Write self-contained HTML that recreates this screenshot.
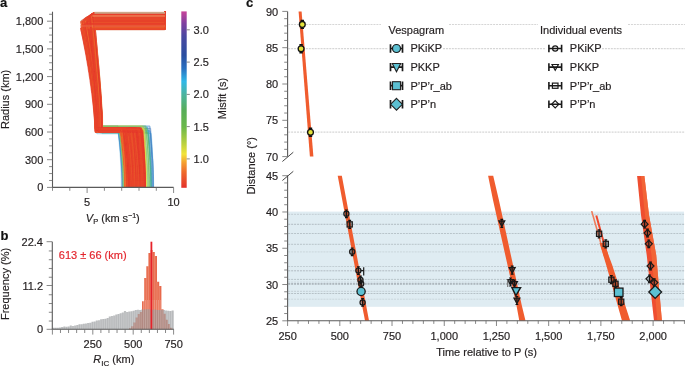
<!DOCTYPE html>
<html><head><meta charset="utf-8"><style>
html,body{margin:0;padding:0;background:#fff;width:685px;height:368px;overflow:hidden}
svg{display:block;font-family:"Liberation Sans",sans-serif;will-change:transform}
</style></head><body>
<svg width="685" height="368" viewBox="0 0 685 368">
<text stroke="#111" stroke-width="0.18" x="0" y="7" font-size="13" font-weight="bold" fill="#111">a</text>
<text stroke="#111" stroke-width="0.18" x="0.5" y="239.7" font-size="13" font-weight="bold" fill="#111">b</text>
<text stroke="#111" stroke-width="0.18" x="246" y="7" font-size="13" font-weight="bold" fill="#111">c</text>
<clipPath id="clipa"><rect x="52.5" y="11.7" width="121.5" height="175.7"/></clipPath>
<g clip-path="url(#clipa)" fill="none" stroke-linejoin="round">
<path d="M150.9 189.4 L150.9 180.0 L150.7 172.6 L150.4 165.3 L150.1 157.9 L149.7 150.5 L149.2 143.1 L148.6 135.7 L147.9 128.3 L94.9 128.3 L94.5 114.6 L93.6 100.8 L92.6 87.1 L91.3 73.3 L89.8 59.6 L88.2 45.8 L86.5 32.1 L84.6 18.3 L164.5 18.3 L164.5 5.0" stroke="#3b4ba0" stroke-width="0.75" stroke-opacity="0.38"/>
<path d="M151.1 189.4 L151.1 179.9 L150.9 172.5 L150.6 165.0 L150.2 157.6 L149.8 150.1 L149.3 142.7 L148.7 135.2 L148.0 127.8 L102.2 127.8 L101.7 114.2 L100.8 100.7 L99.6 87.1 L98.1 73.6 L96.5 60.0 L94.8 46.5 L92.8 32.9 L90.8 19.4 L164.9 19.4 L164.9 5.0" stroke="#364ca0" stroke-width="0.75" stroke-opacity="0.38"/>
<path d="M151.6 189.4 L151.5 180.2 L151.3 173.0 L151.0 165.8 L150.6 158.6 L150.2 151.5 L149.6 144.3 L149.0 137.1 L148.2 129.9 L98.3 129.9 L98.0 115.5 L97.3 101.1 L96.4 86.8 L95.4 72.4 L94.2 58.0 L93.0 43.7 L91.6 29.3 L90.1 14.9 L165.0 14.9 L165.0 5.0" stroke="#354da0" stroke-width="0.75" stroke-opacity="0.38"/>
<path d="M152.1 189.4 L152.1 180.0 L152.0 172.6 L151.8 165.2 L151.7 157.9 L151.5 150.5 L151.2 143.1 L151.0 135.7 L150.7 128.3 L98.8 128.3 L98.2 115.7 L97.3 103.2 L96.1 90.6 L94.7 78.0 L93.0 65.4 L91.2 52.8 L89.2 40.2 L87.1 27.7 L164.9 27.7 L164.9 5.0" stroke="#2e4ea0" stroke-width="0.75" stroke-opacity="0.38"/>
<path d="M153.7 189.4 L153.6 180.3 L153.4 173.2 L153.0 166.1 L152.6 159.0 L152.0 151.9 L151.3 144.9 L150.6 137.8 L149.7 130.7 L98.5 130.7 L98.1 116.2 L97.4 101.7 L96.5 87.3 L95.5 72.8 L94.3 58.3 L93.0 43.9 L91.5 29.4 L90.0 14.9 L164.6 14.9 L164.6 5.0" stroke="#2c4fa0" stroke-width="0.75" stroke-opacity="0.38"/>
<path d="M152.4 189.4 L152.4 180.6 L152.2 173.8 L152.1 167.0 L151.8 160.1 L151.6 153.3 L151.2 146.5 L150.9 139.7 L150.4 132.9 L95.9 132.9 L95.4 118.7 L94.3 104.5 L93.0 90.2 L91.4 76.0 L89.7 61.8 L87.7 47.6 L85.6 33.4 L83.3 19.1 L165.1 19.1 L165.1 5.0" stroke="#2a50a1" stroke-width="0.75" stroke-opacity="0.38"/>
<path d="M122.8 189.4 L122.7 180.6 L122.5 173.7 L122.1 166.9 L121.6 160.0 L121.1 153.2 L120.4 146.3 L119.6 139.5 L118.7 132.6 L96.7 132.6 L96.2 119.2 L95.1 105.8 L93.8 92.4 L92.2 79.0 L90.4 65.6 L88.4 52.2 L86.2 38.8 L83.9 25.4 L165.3 25.4 L165.3 5.0" stroke="#2a51a2" stroke-width="0.75" stroke-opacity="0.38"/>
<path d="M122.2 189.4 L122.1 179.8 L121.8 172.1 L121.4 164.5 L120.9 156.8 L120.3 149.2 L119.6 141.5 L118.7 133.9 L117.8 126.2 L97.2 126.2 L97.0 112.2 L96.5 98.1 L96.0 84.0 L95.3 70.0 L94.6 55.9 L93.8 41.8 L92.9 27.8 L92.0 13.7 L165.2 13.7 L165.2 5.0" stroke="#2a57a7" stroke-width="0.75" stroke-opacity="0.38"/>
<path d="M153.4 189.4 L153.3 180.1 L153.2 172.7 L152.9 165.4 L152.5 158.1 L152.0 150.7 L151.4 143.4 L150.8 136.1 L150.1 128.7 L99.9 128.7 L99.4 115.4 L98.6 102.1 L97.6 88.7 L96.3 75.4 L94.9 62.1 L93.3 48.8 L91.6 35.4 L89.8 22.1 L164.5 22.1 L164.5 5.0" stroke="#2a5bab" stroke-width="0.75" stroke-opacity="0.38"/>
<path d="M121.8 189.4 L121.7 179.7 L121.5 172.0 L121.2 164.3 L120.7 156.6 L120.2 148.9 L119.5 141.2 L118.8 133.5 L118.0 125.7 L101.5 125.7 L101.1 113.4 L100.4 101.0 L99.4 88.7 L98.4 76.3 L97.1 64.0 L95.8 51.6 L94.3 39.3 L92.7 26.9 L165.2 26.9 L165.2 5.0" stroke="#2a5bab" stroke-width="0.75" stroke-opacity="0.38"/>
<path d="M151.7 189.4 L151.6 179.8 L151.5 172.2 L151.3 164.7 L151.0 157.1 L150.6 149.5 L150.2 141.9 L149.8 134.4 L149.3 126.8 L100.8 126.8 L100.3 113.0 L99.5 99.2 L98.4 85.5 L97.0 71.7 L95.6 57.9 L93.9 44.1 L92.1 30.3 L90.2 16.6 L164.9 16.6 L164.9 5.0" stroke="#2a65b5" stroke-width="0.75" stroke-opacity="0.38"/>
<path d="M152.6 189.4 L152.5 179.7 L152.4 172.0 L152.1 164.2 L151.7 156.5 L151.3 148.8 L150.8 141.1 L150.2 133.3 L149.6 125.6 L98.2 125.6 L97.8 113.2 L96.9 100.8 L95.8 88.5 L94.5 76.1 L93.0 63.7 L91.4 51.3 L89.6 38.9 L87.6 26.5 L165.3 26.5 L165.3 5.0" stroke="#2a6aba" stroke-width="0.75" stroke-opacity="0.38"/>
<path d="M122.6 189.4 L122.5 180.3 L122.2 173.3 L121.8 166.2 L121.3 159.1 L120.7 152.1 L120.0 145.0 L119.1 138.0 L118.2 130.9 L100.7 130.9 L100.4 116.1 L99.8 101.4 L99.0 86.7 L98.1 71.9 L97.0 57.2 L95.9 42.4 L94.6 27.7 L93.2 12.9 L164.6 12.9 L164.6 5.0" stroke="#2a6dbd" stroke-width="0.75" stroke-opacity="0.38"/>
<path d="M122.1 189.4 L122.0 179.9 L121.8 172.5 L121.4 165.0 L120.9 157.5 L120.2 150.0 L119.5 142.6 L118.6 135.1 L117.7 127.6 L101.5 127.6 L101.2 113.2 L100.5 98.9 L99.7 84.5 L98.7 70.1 L97.6 55.8 L96.4 41.4 L95.1 27.0 L93.7 12.7 L164.6 12.7 L164.6 5.0" stroke="#2b80c9" stroke-width="0.75" stroke-opacity="0.38"/>
<path d="M153.4 189.4 L153.3 179.8 L153.2 172.2 L152.9 164.6 L152.5 156.9 L152.1 149.3 L151.6 141.7 L151.0 134.1 L150.3 126.5 L97.5 126.5 L96.9 113.7 L95.8 100.9 L94.4 88.1 L92.7 75.3 L90.7 62.6 L88.6 49.8 L86.3 37.0 L83.8 24.2 L165.2 24.2 L165.2 5.0" stroke="#2b80c9" stroke-width="0.75" stroke-opacity="0.38"/>
<path d="M153.5 189.4 L153.4 180.4 L153.2 173.4 L153.0 166.3 L152.6 159.3 L152.2 152.3 L151.7 145.3 L151.1 138.3 L150.4 131.2 L100.0 131.2 L99.5 116.9 L98.6 102.6 L97.4 88.3 L95.9 73.9 L94.3 59.6 L92.5 45.3 L90.6 31.0 L88.5 16.6 L165.5 16.6 L165.5 5.0" stroke="#2c82ca" stroke-width="0.75" stroke-opacity="0.38"/>
<path d="M152.7 189.4 L152.6 180.3 L152.4 173.3 L152.2 166.2 L151.8 159.1 L151.4 152.0 L150.8 145.0 L150.3 137.9 L149.6 130.8 L96.3 130.8 L95.9 116.6 L95.1 102.4 L94.1 88.2 L92.9 74.0 L91.5 59.7 L90.0 45.5 L88.4 31.3 L86.6 17.1 L164.8 17.1 L164.8 5.0" stroke="#2d97d6" stroke-width="0.75" stroke-opacity="0.38"/>
<path d="M153.5 189.4 L153.5 180.7 L153.4 173.9 L153.2 167.2 L152.9 160.5 L152.6 153.8 L152.2 147.0 L151.8 140.3 L151.4 133.6 L101.9 133.6 L101.4 119.6 L100.6 105.5 L99.5 91.5 L98.2 77.5 L96.7 63.4 L95.1 49.4 L93.3 35.4 L91.4 21.3 L165.2 21.3 L165.2 5.0" stroke="#2d98d6" stroke-width="0.75" stroke-opacity="0.38"/>
<path d="M121.3 189.4 L121.2 179.9 L121.0 172.5 L120.7 165.0 L120.3 157.6 L119.7 150.1 L119.1 142.6 L118.4 135.2 L117.6 127.7 L97.7 127.7 L97.4 113.6 L96.8 99.5 L96.0 85.4 L95.1 71.2 L94.1 57.1 L92.9 43.0 L91.6 28.9 L90.3 14.8 L164.8 14.8 L164.8 5.0" stroke="#2e9bd8" stroke-width="0.75" stroke-opacity="0.38"/>
<path d="M150.9 189.4 L150.8 180.4 L150.7 173.4 L150.4 166.4 L150.0 159.4 L149.6 152.5 L149.1 145.5 L148.5 138.5 L147.8 131.5 L98.7 131.5 L98.3 118.5 L97.6 105.5 L96.7 92.5 L95.6 79.5 L94.3 66.4 L92.9 53.4 L91.4 40.4 L89.8 27.4 L165.4 27.4 L165.4 5.0" stroke="#2e9dd9" stroke-width="0.75" stroke-opacity="0.38"/>
<path d="M122.6 189.4 L122.5 180.4 L122.2 173.4 L121.8 166.4 L121.3 159.5 L120.6 152.5 L119.8 145.5 L119.0 138.5 L118.0 131.5 L99.6 131.5 L99.3 116.7 L98.8 101.9 L98.1 87.1 L97.3 72.3 L96.4 57.5 L95.3 42.7 L94.2 27.8 L93.0 13.0 L165.0 13.0 L165.0 5.0" stroke="#2e9eda" stroke-width="0.75" stroke-opacity="0.38"/>
<path d="M151.5 189.4 L151.5 180.4 L151.3 173.4 L151.0 166.4 L150.6 159.4 L150.1 152.4 L149.6 145.4 L148.9 138.4 L148.2 131.4 L98.8 131.4 L98.3 117.2 L97.4 102.9 L96.2 88.7 L94.9 74.4 L93.3 60.2 L91.6 46.0 L89.8 31.7 L87.8 17.5 L164.6 17.5 L164.6 5.0" stroke="#2faee2" stroke-width="0.75" stroke-opacity="0.38"/>
<path d="M150.7 189.4 L150.6 179.9 L150.5 172.3 L150.2 164.8 L149.9 157.3 L149.4 149.8 L148.9 142.2 L148.4 134.7 L147.7 127.2 L100.3 127.2 L99.9 113.1 L99.1 99.1 L98.0 85.0 L96.8 71.0 L95.4 56.9 L93.8 42.8 L92.1 28.8 L90.3 14.7 L165.2 14.7 L165.2 5.0" stroke="#30b8e7" stroke-width="0.75" stroke-opacity="0.42"/>
<path d="M150.7 189.4 L150.7 179.9 L150.5 172.3 L150.2 164.8 L149.8 157.2 L149.4 149.7 L148.8 142.1 L148.2 134.6 L147.5 127.0 L101.5 127.0 L101.0 114.0 L100.2 101.0 L99.1 87.9 L97.9 74.9 L96.5 61.8 L94.9 48.8 L93.2 35.8 L91.3 22.7 L165.0 22.7 L165.0 5.0" stroke="#31b8e5" stroke-width="0.75" stroke-opacity="0.42"/>
<path d="M147.8 189.4 L147.7 180.7 L147.5 174.0 L147.3 167.3 L146.9 160.6 L146.5 153.9 L146.0 147.2 L145.4 140.5 L144.7 133.8 L96.9 133.8 L96.7 118.8 L96.2 103.8 L95.7 88.9 L95.0 73.9 L94.2 58.9 L93.4 44.0 L92.4 29.0 L91.4 14.0 L165.1 14.0 L165.1 5.0" stroke="#33b8e0" stroke-width="0.75" stroke-opacity="0.42"/>
<path d="M147.4 189.4 L147.3 180.0 L147.2 172.7 L147.0 165.3 L146.7 158.0 L146.4 150.6 L146.1 143.3 L145.6 135.9 L145.2 128.5 L99.6 128.5 L99.2 115.1 L98.4 101.7 L97.4 88.2 L96.2 74.8 L94.8 61.4 L93.3 48.0 L91.7 34.5 L89.9 21.1 L164.6 21.1 L164.6 5.0" stroke="#42b5b9" stroke-width="0.75" stroke-opacity="0.42"/>
<path d="M151.4 189.4 L151.3 180.2 L151.1 172.9 L150.8 165.7 L150.3 158.4 L149.8 151.2 L149.3 143.9 L148.6 136.7 L147.8 129.4 L97.4 129.4 L97.1 114.9 L96.7 100.5 L96.2 86.0 L95.5 71.5 L94.8 57.0 L94.0 42.6 L93.1 28.1 L92.1 13.6 L165.2 13.6 L165.2 5.0" stroke="#43b5b7" stroke-width="0.75" stroke-opacity="0.42"/>
<path d="M151.4 189.4 L151.3 180.6 L151.2 173.8 L151.0 167.0 L150.7 160.2 L150.4 153.4 L150.0 146.6 L149.6 139.8 L149.1 133.0 L102.4 133.0 L101.9 118.4 L101.0 103.9 L99.8 89.4 L98.4 74.9 L96.8 60.4 L95.0 45.8 L93.1 31.3 L91.0 16.8 L164.6 16.8 L164.6 5.0" stroke="#44b5b5" stroke-width="0.75" stroke-opacity="0.42"/>
<path d="M149.6 189.4 L149.6 179.7 L149.3 172.0 L149.0 164.3 L148.6 156.6 L148.1 148.9 L147.5 141.2 L146.8 133.4 L146.0 125.7 L98.0 125.7 L97.7 111.7 L97.2 97.7 L96.6 83.7 L95.8 69.7 L95.0 55.7 L94.1 41.7 L93.1 27.7 L92.0 13.7 L165.0 13.7 L165.0 5.0" stroke="#45b5b1" stroke-width="0.75" stroke-opacity="0.42"/>
<path d="M151.2 189.4 L151.1 180.6 L150.9 173.7 L150.6 166.9 L150.2 160.0 L149.7 153.2 L149.1 146.3 L148.5 139.5 L147.7 132.6 L102.1 132.6 L101.7 118.9 L100.9 105.2 L100.0 91.4 L98.8 77.7 L97.5 63.9 L96.1 50.2 L94.6 36.5 L92.9 22.7 L164.9 22.7 L164.9 5.0" stroke="#46b5b1" stroke-width="0.75" stroke-opacity="0.42"/>
<path d="M124.7 189.4 L124.6 180.2 L124.3 172.9 L123.8 165.7 L123.2 158.4 L122.4 151.2 L121.5 143.9 L120.5 136.7 L119.3 129.4 L98.7 129.4 L98.4 114.8 L98.0 100.2 L97.5 85.6 L96.9 71.1 L96.2 56.5 L95.4 41.9 L94.5 27.3 L93.6 12.7 L165.5 12.7 L165.5 5.0" stroke="#4cb4a0" stroke-width="0.75" stroke-opacity="0.42"/>
<path d="M151.0 189.4 L150.9 180.1 L150.7 172.8 L150.4 165.5 L150.0 158.2 L149.5 150.9 L148.9 143.6 L148.2 136.3 L147.4 129.0 L99.4 129.0 L99.1 114.7 L98.4 100.3 L97.5 85.9 L96.5 71.6 L95.4 57.2 L94.1 42.9 L92.7 28.5 L91.2 14.2 L165.1 14.2 L165.1 5.0" stroke="#4cb49e" stroke-width="0.75" stroke-opacity="0.42"/>
<path d="M151.3 189.4 L151.2 180.6 L151.1 173.8 L150.8 166.9 L150.4 160.1 L150.0 153.3 L149.5 146.5 L148.9 139.6 L148.2 132.8 L100.1 132.8 L99.8 117.8 L99.2 102.9 L98.5 87.9 L97.6 72.9 L96.6 57.9 L95.5 43.0 L94.3 28.0 L93.1 13.0 L165.4 13.0 L165.4 5.0" stroke="#4db49c" stroke-width="0.75" stroke-opacity="0.42"/>
<path d="M123.3 189.4 L123.2 180.0 L122.9 172.6 L122.4 165.3 L121.8 157.9 L121.1 150.5 L120.3 143.1 L119.3 135.7 L118.3 128.4 L101.7 128.4 L101.2 114.7 L100.3 101.0 L99.2 87.3 L97.8 73.6 L96.2 60.0 L94.4 46.3 L92.6 32.6 L90.5 18.9 L164.7 18.9 L164.7 5.0" stroke="#4db397" stroke-width="0.75" stroke-opacity="0.42"/>
<path d="M147.9 189.4 L147.8 179.9 L147.6 172.4 L147.2 165.0 L146.7 157.5 L146.1 150.0 L145.4 142.5 L144.7 135.1 L143.8 127.6 L95.9 127.6 L95.2 114.2 L94.0 100.8 L92.5 87.5 L90.7 74.1 L88.6 60.7 L86.3 47.3 L83.8 33.9 L81.1 20.5 L164.6 20.5 L164.6 5.0" stroke="#4fb28e" stroke-width="0.75" stroke-opacity="0.42"/>
<path d="M123.4 189.4 L123.3 180.4 L123.1 173.5 L122.7 166.5 L122.3 159.6 L121.7 152.6 L121.1 145.7 L120.3 138.7 L119.5 131.8 L97.9 131.8 L97.3 118.5 L96.4 105.2 L95.1 91.9 L93.6 78.6 L91.9 65.4 L90.0 52.1 L88.0 38.8 L85.8 25.5 L165.4 25.5 L165.4 5.0" stroke="#54af6f" stroke-width="0.75" stroke-opacity="0.42"/>
<path d="M123.1 189.4 L123.0 179.9 L122.8 172.5 L122.4 165.0 L121.9 157.5 L121.4 150.1 L120.7 142.6 L119.9 135.1 L119.1 127.7 L101.4 127.7 L101.0 113.4 L100.2 99.2 L99.2 85.0 L97.9 70.8 L96.6 56.6 L95.1 42.4 L93.4 28.1 L91.6 13.9 L165.0 13.9 L165.0 5.0" stroke="#55af69" stroke-width="0.75" stroke-opacity="0.42"/>
<path d="M149.3 189.4 L149.2 180.1 L149.0 172.8 L148.7 165.5 L148.2 158.3 L147.7 151.0 L147.1 143.7 L146.4 136.4 L145.6 129.1 L97.0 129.1 L96.5 115.1 L95.7 101.1 L94.5 87.2 L93.2 73.2 L91.7 59.2 L90.1 45.2 L88.2 31.2 L86.3 17.2 L165.3 17.2 L165.3 5.0" stroke="#5aae56" stroke-width="0.75" stroke-opacity="0.42"/>
<path d="M149.0 189.4 L148.9 179.8 L148.7 172.3 L148.5 164.7 L148.1 157.2 L147.7 149.6 L147.2 142.1 L146.6 134.5 L146.0 127.0 L101.7 127.0 L101.3 113.8 L100.5 100.5 L99.4 87.3 L98.1 74.1 L96.7 60.9 L95.1 47.7 L93.4 34.4 L91.6 21.2 L165.1 21.2 L165.1 5.0" stroke="#5baf55" stroke-width="0.75" stroke-opacity="0.42"/>
<path d="M150.9 189.4 L150.8 180.5 L150.6 173.7 L150.3 166.8 L149.9 160.0 L149.4 153.1 L148.8 146.3 L148.2 139.4 L147.5 132.6 L102.2 132.6 L101.7 119.7 L100.8 106.8 L99.7 93.9 L98.4 81.1 L96.9 68.2 L95.2 55.3 L93.4 42.4 L91.5 29.5 L165.1 29.5 L165.1 5.0" stroke="#5fb152" stroke-width="0.75" stroke-opacity="0.42"/>
<path d="M149.2 189.4 L149.1 179.8 L148.9 172.2 L148.6 164.5 L148.3 156.9 L147.8 149.3 L147.3 141.7 L146.7 134.0 L146.1 126.4 L100.3 126.4 L99.9 113.0 L99.2 99.5 L98.2 86.0 L97.0 72.6 L95.7 59.1 L94.2 45.6 L92.6 32.2 L90.9 18.7 L164.8 18.7 L164.8 5.0" stroke="#60b252" stroke-width="0.75" stroke-opacity="0.42"/>
<path d="M149.9 189.4 L149.9 180.1 L149.7 172.7 L149.5 165.4 L149.3 158.0 L148.9 150.7 L148.6 143.3 L148.1 136.0 L147.6 128.6 L102.5 128.6 L102.1 115.6 L101.3 102.5 L100.3 89.5 L99.2 76.5 L97.9 63.4 L96.5 50.4 L94.9 37.3 L93.2 24.3 L165.1 24.3 L165.1 5.0" stroke="#64b44f" stroke-width="0.75" stroke-opacity="0.42"/>
<path d="M148.8 189.4 L148.7 180.2 L148.6 173.1 L148.4 165.9 L148.1 158.8 L147.8 151.6 L147.4 144.5 L146.9 137.3 L146.4 130.2 L99.1 130.2 L98.7 116.9 L97.9 103.7 L96.8 90.5 L95.6 77.2 L94.2 64.0 L92.6 50.7 L90.9 37.5 L89.1 24.3 L164.8 24.3 L164.8 5.0" stroke="#65b54e" stroke-width="0.75" stroke-opacity="0.42"/>
<path d="M148.0 189.4 L148.0 180.2 L147.8 173.0 L147.5 165.8 L147.1 158.5 L146.7 151.3 L146.1 144.1 L145.5 136.9 L144.9 129.7 L97.2 129.7 L96.6 116.3 L95.5 103.0 L94.0 89.7 L92.3 76.3 L90.4 63.0 L88.2 49.7 L85.9 36.3 L83.4 23.0 L165.2 23.0 L165.2 5.0" stroke="#69b74b" stroke-width="0.75" stroke-opacity="0.42"/>
<path d="M124.1 189.4 L124.0 180.5 L123.7 173.5 L123.3 166.6 L122.8 159.7 L122.1 152.8 L121.4 145.8 L120.5 138.9 L119.5 132.0 L102.2 132.0 L101.9 119.2 L101.3 106.4 L100.5 93.6 L99.5 80.8 L98.4 68.0 L97.2 55.2 L95.9 42.4 L94.5 29.6 L164.7 29.6 L164.7 5.0" stroke="#6bb84a" stroke-width="0.75" stroke-opacity="0.38"/>
<path d="M145.5 189.4 L145.5 180.4 L145.3 173.4 L145.1 166.4 L144.7 159.4 L144.3 152.4 L143.9 145.4 L143.3 138.4 L142.7 131.4 L97.4 131.4 L96.9 118.5 L95.9 105.6 L94.7 92.7 L93.2 79.8 L91.6 66.9 L89.7 54.0 L87.8 41.1 L85.6 28.1 L164.8 28.1 L164.8 5.0" stroke="#6cb94a" stroke-width="0.75" stroke-opacity="0.38"/>
<path d="M124.8 189.4 L124.7 180.3 L124.4 173.1 L123.9 166.0 L123.3 158.8 L122.6 151.7 L121.7 144.6 L120.7 137.4 L119.6 130.3 L97.1 130.3 L96.9 115.6 L96.7 100.9 L96.3 86.2 L95.9 71.4 L95.4 56.7 L94.9 42.0 L94.4 27.3 L93.8 12.6 L164.8 12.6 L164.8 5.0" stroke="#6eb949" stroke-width="0.75" stroke-opacity="0.38"/>
<path d="M123.4 189.4 L123.3 180.0 L123.1 172.6 L122.8 165.1 L122.4 157.7 L121.9 150.3 L121.3 142.9 L120.7 135.5 L119.9 128.0 L99.2 128.0 L98.7 115.0 L97.7 102.0 L96.5 89.0 L95.0 76.0 L93.4 62.9 L91.6 49.9 L89.6 36.9 L87.4 23.9 L165.2 23.9 L165.2 5.0" stroke="#6fba49" stroke-width="0.75" stroke-opacity="0.38"/>
<path d="M124.0 189.4 L123.9 180.5 L123.6 173.7 L123.2 166.8 L122.7 159.9 L122.1 153.1 L121.3 146.2 L120.5 139.3 L119.5 132.5 L95.9 132.5 L95.3 119.0 L94.3 105.5 L93.0 92.0 L91.4 78.5 L89.6 65.0 L87.6 51.5 L85.4 38.0 L83.1 24.5 L165.4 24.5 L165.4 5.0" stroke="#73bb49" stroke-width="0.75" stroke-opacity="0.38"/>
<path d="M146.2 189.4 L146.1 179.8 L145.9 172.2 L145.6 164.7 L145.3 157.1 L144.8 149.5 L144.3 141.9 L143.7 134.4 L143.0 126.8 L99.4 126.8 L98.8 113.6 L97.9 100.4 L96.7 87.2 L95.2 74.0 L93.6 60.8 L91.8 47.6 L89.8 34.5 L87.7 21.3 L165.2 21.3 L165.2 5.0" stroke="#7abd48" stroke-width="0.75" stroke-opacity="0.38"/>
<path d="M124.6 189.4 L124.5 179.8 L124.2 172.3 L123.8 164.7 L123.3 157.2 L122.6 149.6 L121.9 142.0 L121.0 134.5 L120.1 126.9 L102.1 126.9 L101.7 113.1 L100.9 99.2 L99.9 85.3 L98.7 71.5 L97.3 57.6 L95.8 43.7 L94.2 29.9 L92.5 16.0 L165.2 16.0 L165.2 5.0" stroke="#7fbf47" stroke-width="0.75" stroke-opacity="0.38"/>
<path d="M123.2 189.4 L123.1 180.2 L122.9 173.1 L122.7 165.9 L122.3 158.8 L121.8 151.6 L121.3 144.4 L120.7 137.3 L120.0 130.1 L96.7 130.1 L96.1 117.1 L95.1 104.1 L93.8 91.1 L92.2 78.1 L90.4 65.1 L88.5 52.1 L86.3 39.1 L84.0 26.1 L164.9 26.1 L164.9 5.0" stroke="#81bf47" stroke-width="0.75" stroke-opacity="0.38"/>
<path d="M146.4 189.4 L146.4 180.5 L146.3 173.7 L146.2 166.8 L146.0 159.9 L145.8 153.0 L145.6 146.2 L145.3 139.3 L145.0 132.4 L99.4 132.4 L98.9 118.8 L97.9 105.1 L96.7 91.4 L95.2 77.7 L93.4 64.0 L91.6 50.3 L89.5 36.6 L87.3 22.9 L165.1 22.9 L165.1 5.0" stroke="#85c047" stroke-width="0.75" stroke-opacity="0.38"/>
<path d="M146.3 189.4 L146.2 179.8 L146.1 172.1 L145.8 164.5 L145.4 156.8 L145.0 149.2 L144.5 141.5 L143.9 133.9 L143.3 126.2 L99.7 126.2 L99.3 112.2 L98.6 98.2 L97.8 84.2 L96.7 70.2 L95.5 56.2 L94.2 42.1 L92.8 28.1 L91.3 14.1 L164.8 14.1 L164.8 5.0" stroke="#88c146" stroke-width="0.75" stroke-opacity="0.38"/>
<path d="M149.7 189.4 L149.6 179.7 L149.3 172.0 L148.9 164.3 L148.4 156.6 L147.8 148.9 L147.0 141.2 L146.1 133.5 L145.2 125.8 L99.0 125.8 L98.7 111.8 L98.2 97.7 L97.5 83.7 L96.7 69.6 L95.8 55.6 L94.7 41.5 L93.6 27.5 L92.5 13.4 L165.3 13.4 L165.3 5.0" stroke="#91c445" stroke-width="0.75" stroke-opacity="0.38"/>
<path d="M147.1 189.4 L147.0 180.6 L146.7 173.7 L146.4 166.9 L146.0 160.1 L145.5 153.2 L144.8 146.4 L144.1 139.6 L143.3 132.8 L100.4 132.8 L99.9 118.6 L98.9 104.4 L97.6 90.3 L96.1 76.1 L94.4 61.9 L92.5 47.8 L90.5 33.6 L88.3 19.4 L165.5 19.4 L165.5 5.0" stroke="#93c445" stroke-width="0.75" stroke-opacity="0.38"/>
<path d="M124.4 189.4 L124.2 179.9 L123.9 172.4 L123.5 164.9 L122.9 157.4 L122.1 149.9 L121.3 142.4 L120.3 134.8 L119.2 127.3 L96.8 127.3 L96.2 115.1 L95.1 102.9 L93.7 90.6 L92.0 78.4 L90.1 66.1 L88.0 53.9 L85.7 41.6 L83.2 29.4 L165.2 29.4 L165.2 5.0" stroke="#99c644" stroke-width="0.75" stroke-opacity="0.38"/>
<path d="M148.0 189.4 L147.9 180.0 L147.7 172.7 L147.3 165.3 L146.9 157.9 L146.4 150.5 L145.9 143.2 L145.2 135.8 L144.4 128.4 L97.2 128.4 L96.9 114.1 L96.5 99.8 L96.0 85.4 L95.3 71.1 L94.6 56.7 L93.8 42.4 L92.9 28.0 L92.0 13.7 L165.4 13.7 L165.4 5.0" stroke="#b7d040" stroke-width="0.75" stroke-opacity="0.38"/>
<path d="M145.7 189.4 L145.6 180.1 L145.5 172.9 L145.3 165.6 L145.0 158.3 L144.6 151.0 L144.1 143.8 L143.6 136.5 L143.1 129.2 L97.9 129.2 L97.4 115.3 L96.4 101.5 L95.0 87.6 L93.5 73.7 L91.7 59.9 L89.7 46.0 L87.5 32.1 L85.2 18.2 L165.1 18.2 L165.1 5.0" stroke="#bcd140" stroke-width="0.75" stroke-opacity="0.38"/>
<path d="M145.8 189.4 L145.7 180.1 L145.5 172.8 L145.2 165.4 L144.9 158.1 L144.5 150.8 L144.0 143.5 L143.4 136.2 L142.7 128.8 L99.6 128.8 L99.1 115.2 L98.2 101.7 L97.0 88.1 L95.6 74.5 L93.9 60.9 L92.2 47.3 L90.2 33.7 L88.2 20.1 L165.3 20.1 L165.3 5.0" stroke="#c4d43f" stroke-width="0.75" stroke-opacity="0.38"/>
<path d="M145.7 189.4 L145.6 180.0 L145.5 172.6 L145.3 165.2 L145.0 157.8 L144.6 150.4 L144.2 143.0 L143.7 135.6 L143.2 128.2 L103.0 128.2 L102.6 114.9 L101.8 101.6 L100.8 88.3 L99.7 75.0 L98.4 61.7 L96.9 48.4 L95.4 35.1 L93.7 21.8 L165.1 21.8 L165.1 5.0" stroke="#dcdc3c" stroke-width="0.75" stroke-opacity="0.38"/>
<path d="M146.6 189.4 L146.6 179.8 L146.4 172.3 L146.2 164.7 L145.8 157.1 L145.4 149.6 L145.0 142.0 L144.5 134.4 L143.9 126.9 L100.3 126.9 L99.8 113.4 L99.0 100.0 L97.9 86.6 L96.6 73.2 L95.1 59.8 L93.5 46.4 L91.7 32.9 L89.9 19.5 L165.3 19.5 L165.3 5.0" stroke="#dddd3c" stroke-width="0.75" stroke-opacity="0.38"/>
<path d="M146.0 189.4 L145.9 180.0 L145.8 172.6 L145.6 165.1 L145.4 157.7 L145.1 150.3 L144.8 142.9 L144.4 135.5 L144.0 128.0 L97.2 128.0 L96.7 115.2 L95.8 102.3 L94.5 89.4 L93.1 76.6 L91.4 63.7 L89.6 50.8 L87.6 37.9 L85.5 25.1 L164.7 25.1 L164.7 5.0" stroke="#e1de3c" stroke-width="0.75" stroke-opacity="0.38"/>
<path d="M147.1 189.4 L147.0 180.2 L146.9 173.1 L146.6 165.9 L146.3 158.7 L145.9 151.6 L145.5 144.4 L145.0 137.2 L144.5 130.0 L98.8 130.0 L98.4 115.7 L97.6 101.4 L96.6 87.0 L95.5 72.7 L94.1 58.4 L92.6 44.0 L91.0 29.7 L89.3 15.4 L164.9 15.4 L164.9 5.0" stroke="#e9e13b" stroke-width="0.75" stroke-opacity="0.38"/>
<path d="M145.2 189.4 L145.1 179.7 L144.9 171.9 L144.6 164.2 L144.2 156.5 L143.7 148.7 L143.2 141.0 L142.5 133.2 L141.8 125.5 L101.5 125.5 L101.0 113.0 L100.2 100.5 L99.2 88.0 L98.0 75.5 L96.6 63.0 L95.0 50.5 L93.4 38.0 L91.6 25.5 L164.6 25.5 L164.6 5.0" stroke="#f2e43a" stroke-width="0.75" stroke-opacity="0.38"/>
<path d="M146.4 189.4 L146.3 180.0 L146.2 172.6 L145.9 165.3 L145.6 157.9 L145.2 150.5 L144.7 143.1 L144.1 135.8 L143.5 128.4 L97.8 128.4 L97.2 115.9 L96.2 103.3 L94.8 90.8 L93.2 78.3 L91.4 65.8 L89.3 53.2 L87.1 40.7 L84.8 28.2 L164.8 28.2 L164.8 5.0" stroke="#f2de39" stroke-width="0.75" stroke-opacity="0.38"/>
<path d="M145.9 189.4 L145.9 180.3 L145.7 173.3 L145.4 166.2 L145.1 159.2 L144.6 152.1 L144.1 145.1 L143.5 138.0 L142.9 131.0 L98.4 131.0 L98.0 118.0 L97.3 105.1 L96.4 92.2 L95.3 79.2 L94.1 66.3 L92.7 53.4 L91.2 40.4 L89.6 27.5 L164.8 27.5 L164.8 5.0" stroke="#f2da38" stroke-width="0.75" stroke-opacity="0.38"/>
<path d="M135.2 189.4 L135.1 180.1 L134.9 172.8 L134.6 165.5 L134.1 158.2 L133.6 150.9 L133.0 143.6 L132.3 136.2 L131.5 128.9 L96.3 128.9 L95.7 116.5 L94.6 104.1 L93.2 91.7 L91.5 79.3 L89.6 66.9 L87.6 54.5 L85.3 42.1 L82.8 29.6 L164.9 29.6 L164.9 5.0" stroke="#e7422b" stroke-width="0.9" stroke-opacity="0.75"/>
<path d="M133.0 189.4 L132.9 180.5 L132.6 173.5 L132.3 166.6 L131.9 159.7 L131.3 152.7 L130.7 145.8 L129.9 138.9 L129.1 132.0 L95.7 132.0 L95.0 118.7 L93.8 105.4 L92.3 92.1 L90.4 78.8 L88.3 65.5 L86.0 52.2 L83.5 38.9 L80.8 25.6 L164.6 25.6 L164.6 5.0" stroke="#e63e2b" stroke-width="0.9" stroke-opacity="0.75"/>
<path d="M136.6 189.4 L136.5 180.1 L136.4 172.8 L136.1 165.5 L135.7 158.3 L135.2 151.0 L134.7 143.7 L134.0 136.4 L133.3 129.1 L100.4 129.1 L100.1 114.6 L99.5 100.1 L98.8 85.5 L97.9 71.0 L96.9 56.5 L95.8 42.0 L94.6 27.4 L93.3 12.9 L165.1 12.9 L165.1 5.0" stroke="#ef722d" stroke-width="0.9" stroke-opacity="0.6"/>
<path d="M128.3 189.4 L128.1 180.3 L127.9 173.1 L127.4 166.0 L126.9 158.9 L126.2 151.8 L125.4 144.6 L124.5 137.5 L123.4 130.4 L96.0 130.4 L95.4 117.5 L94.3 104.7 L92.9 91.8 L91.2 78.9 L89.3 66.1 L87.2 53.2 L84.9 40.3 L82.4 27.5 L164.6 27.5 L164.6 5.0" stroke="#e63b2b" stroke-width="0.9" stroke-opacity="0.75"/>
<path d="M139.6 189.4 L139.5 180.5 L139.3 173.6 L138.9 166.7 L138.5 159.9 L137.9 153.0 L137.3 146.1 L136.6 139.2 L135.7 132.3 L95.0 132.3 L94.4 119.3 L93.2 106.3 L91.7 93.3 L89.9 80.3 L87.9 67.2 L85.7 54.2 L83.2 41.2 L80.6 28.2 L165.0 28.2 L165.0 5.0" stroke="#e63c2b" stroke-width="0.9" stroke-opacity="0.75"/>
<path d="M141.8 189.4 L141.7 180.1 L141.4 172.8 L141.1 165.5 L140.7 158.2 L140.1 150.9 L139.5 143.6 L138.8 136.3 L138.0 129.0 L98.6 129.0 L98.1 115.7 L97.2 102.4 L96.0 89.1 L94.5 75.8 L92.9 62.5 L91.1 49.2 L89.2 35.9 L87.1 22.6 L165.5 22.6 L165.5 5.0" stroke="#e63e2b" stroke-width="0.9" stroke-opacity="0.75"/>
<path d="M128.4 189.4 L128.2 180.5 L127.9 173.6 L127.5 166.7 L126.9 159.7 L126.2 152.8 L125.3 145.9 L124.4 139.0 L123.3 132.1 L99.0 132.1 L98.5 118.0 L97.5 104.0 L96.2 89.9 L94.7 75.9 L92.9 61.8 L91.0 47.8 L88.9 33.7 L86.7 19.7 L164.5 19.7 L164.5 5.0" stroke="#e7422b" stroke-width="0.9" stroke-opacity="0.75"/>
<path d="M145.1 189.4 L145.0 180.5 L144.8 173.5 L144.5 166.6 L144.1 159.6 L143.7 152.7 L143.1 145.8 L142.5 138.8 L141.7 131.9 L98.6 131.9 L98.2 117.9 L97.4 103.9 L96.3 90.0 L95.0 76.0 L93.6 62.0 L92.0 48.0 L90.2 34.1 L88.4 20.1 L165.2 20.1 L165.2 5.0" stroke="#e63b2b" stroke-width="0.9" stroke-opacity="0.75"/>
<path d="M132.5 189.4 L132.4 180.4 L132.1 173.5 L131.7 166.5 L131.1 159.6 L130.4 152.6 L129.6 145.7 L128.7 138.7 L127.7 131.8 L100.7 131.8 L100.3 117.9 L99.6 104.1 L98.6 90.2 L97.5 76.3 L96.2 62.5 L94.7 48.6 L93.2 34.8 L91.5 20.9 L165.2 20.9 L165.2 5.0" stroke="#e7412b" stroke-width="0.9" stroke-opacity="0.75"/>
<path d="M143.6 189.4 L143.5 180.5 L143.3 173.6 L143.0 166.7 L142.7 159.8 L142.2 152.9 L141.7 146.0 L141.1 139.1 L140.5 132.2 L101.6 132.2 L101.1 118.0 L100.2 103.9 L99.1 89.8 L97.8 75.6 L96.2 61.5 L94.6 47.3 L92.8 33.2 L90.8 19.0 L164.8 19.0 L164.8 5.0" stroke="#ea512c" stroke-width="0.9" stroke-opacity="0.75"/>
<path d="M144.6 189.4 L144.5 180.3 L144.3 173.3 L144.0 166.2 L143.5 159.2 L143.0 152.1 L142.3 145.0 L141.6 138.0 L140.8 130.9 L102.2 130.9 L101.7 116.4 L100.9 102.0 L99.7 87.5 L98.4 73.0 L96.9 58.5 L95.3 44.1 L93.5 29.6 L91.6 15.1 L165.5 15.1 L165.5 5.0" stroke="#e4322b" stroke-width="0.9" stroke-opacity="0.75"/>
<path d="M144.6 189.4 L144.6 180.2 L144.4 173.1 L144.2 165.9 L143.9 158.8 L143.5 151.6 L143.1 144.4 L142.6 137.3 L142.1 130.1 L100.7 130.1 L100.3 117.0 L99.5 103.9 L98.5 90.9 L97.3 77.8 L95.9 64.7 L94.4 51.6 L92.7 38.5 L90.9 25.4 L164.8 25.4 L164.8 5.0" stroke="#ea542c" stroke-width="0.9" stroke-opacity="0.75"/>
<path d="M138.2 189.4 L138.1 180.2 L137.9 172.9 L137.5 165.7 L137.1 158.5 L136.6 151.2 L135.9 144.0 L135.2 136.7 L134.4 129.5 L101.6 129.5 L101.2 115.2 L100.4 100.8 L99.3 86.5 L98.1 72.2 L96.6 57.8 L95.1 43.5 L93.4 29.2 L91.5 14.8 L165.3 14.8 L165.3 5.0" stroke="#f38e2f" stroke-width="0.9" stroke-opacity="0.6"/>
<path d="M144.7 189.4 L144.7 180.3 L144.5 173.2 L144.3 166.1 L144.0 159.0 L143.7 151.9 L143.3 144.8 L142.8 137.7 L142.3 130.6 L100.9 130.6 L100.5 117.3 L99.8 104.0 L98.8 90.7 L97.6 77.4 L96.3 64.1 L94.8 50.8 L93.2 37.5 L91.5 24.2 L164.8 24.2 L164.8 5.0" stroke="#e94e2c" stroke-width="0.9" stroke-opacity="0.75"/>
<path d="M128.9 189.4 L128.8 180.0 L128.5 172.7 L128.0 165.3 L127.4 158.0 L126.6 150.6 L125.7 143.3 L124.7 135.9 L123.5 128.6 L97.7 128.6 L97.2 116.2 L96.3 103.8 L95.1 91.5 L93.7 79.1 L92.1 66.7 L90.4 54.3 L88.5 42.0 L86.4 29.6 L164.6 29.6 L164.6 5.0" stroke="#e4342b" stroke-width="0.9" stroke-opacity="0.75"/>
<path d="M142.1 189.4 L142.0 180.2 L141.8 173.1 L141.6 165.9 L141.3 158.7 L140.9 151.5 L140.4 144.4 L139.9 137.2 L139.3 130.0 L98.8 130.0 L98.3 116.1 L97.4 102.2 L96.3 88.3 L94.9 74.4 L93.4 60.6 L91.7 46.7 L89.8 32.8 L87.8 18.9 L165.3 18.9 L165.3 5.0" stroke="#ee6e2c" stroke-width="0.9" stroke-opacity="0.6"/>
<path d="M144.8 189.4 L144.7 180.3 L144.6 173.2 L144.3 166.1 L144.0 159.0 L143.6 151.9 L143.2 144.7 L142.7 137.6 L142.1 130.5 L100.8 130.5 L100.5 115.8 L100.0 101.0 L99.3 86.2 L98.4 71.4 L97.5 56.7 L96.5 41.9 L95.3 27.1 L94.1 12.4 L164.9 12.4 L164.9 5.0" stroke="#ea552c" stroke-width="0.9" stroke-opacity="0.75"/>
<path d="M135.8 189.4 L135.8 180.3 L135.5 173.2 L135.2 166.1 L134.8 159.0 L134.3 151.8 L133.7 144.7 L133.1 137.6 L132.3 130.5 L99.0 130.5 L98.6 116.4 L97.8 102.3 L96.8 88.2 L95.6 74.2 L94.3 60.1 L92.8 46.0 L91.2 31.9 L89.4 17.8 L165.0 17.8 L165.0 5.0" stroke="#e5372b" stroke-width="0.9" stroke-opacity="0.75"/>
<path d="M130.1 189.4 L130.0 180.4 L129.7 173.3 L129.3 166.3 L128.8 159.2 L128.2 152.2 L127.4 145.1 L126.6 138.1 L125.6 131.1 L99.1 131.1 L98.7 118.1 L98.0 105.1 L97.0 92.1 L95.8 79.1 L94.4 66.1 L93.0 53.2 L91.4 40.2 L89.6 27.2 L164.7 27.2 L164.7 5.0" stroke="#e94c2b" stroke-width="0.9" stroke-opacity="0.75"/>
<path d="M135.3 189.4 L135.2 180.2 L135.0 173.1 L134.6 165.9 L134.1 158.8 L133.4 151.6 L132.7 144.5 L131.8 137.3 L130.9 130.2 L95.8 130.2 L95.4 116.0 L94.6 101.9 L93.7 87.8 L92.5 73.6 L91.2 59.5 L89.8 45.4 L88.2 31.2 L86.5 17.1 L165.1 17.1 L165.1 5.0" stroke="#e84a2b" stroke-width="0.9" stroke-opacity="0.75"/>
<path d="M129.6 189.4 L129.5 180.2 L129.2 172.9 L128.8 165.7 L128.2 158.5 L127.4 151.3 L126.6 144.0 L125.6 136.8 L124.5 129.6 L97.0 129.6 L96.8 115.1 L96.3 100.6 L95.8 86.2 L95.1 71.7 L94.4 57.3 L93.5 42.8 L92.6 28.4 L91.7 13.9 L164.9 13.9 L164.9 5.0" stroke="#e5372b" stroke-width="0.9" stroke-opacity="0.75"/>
<path d="M137.9 189.4 L137.8 180.3 L137.6 173.3 L137.3 166.2 L136.9 159.1 L136.4 152.0 L135.9 145.0 L135.2 137.9 L134.5 130.8 L102.5 130.8 L102.1 116.1 L101.4 101.3 L100.4 86.6 L99.3 71.8 L98.0 57.1 L96.6 42.3 L95.1 27.6 L93.4 12.8 L164.9 12.8 L164.9 5.0" stroke="#e8452b" stroke-width="0.9" stroke-opacity="0.75"/>
<path d="M135.4 189.4 L135.3 180.0 L135.0 172.6 L134.5 165.2 L133.9 157.8 L133.2 150.4 L132.3 143.0 L131.3 135.6 L130.2 128.2 L100.3 128.2 L100.0 113.9 L99.3 99.6 L98.4 85.3 L97.3 71.0 L96.2 56.7 L94.8 42.4 L93.4 28.1 L91.9 13.8 L164.8 13.8 L164.8 5.0" stroke="#e7442b" stroke-width="0.9" stroke-opacity="0.75"/>
<path d="M127.4 189.4 L127.3 180.4 L127.0 173.4 L126.5 166.5 L125.9 159.5 L125.2 152.5 L124.3 145.5 L123.3 138.6 L122.2 131.6 L101.3 131.6 L100.9 118.2 L100.2 104.9 L99.2 91.5 L98.0 78.2 L96.7 64.9 L95.2 51.5 L93.6 38.2 L91.9 24.8 L164.7 24.8 L164.7 5.0" stroke="#e63f2b" stroke-width="0.9" stroke-opacity="0.75"/>
<path d="M144.5 189.4 L144.4 180.5 L144.2 173.6 L143.9 166.8 L143.6 159.9 L143.1 153.0 L142.6 146.1 L141.9 139.2 L141.2 132.4 L102.0 132.4 L101.6 119.0 L100.9 105.6 L100.0 92.2 L98.9 78.8 L97.6 65.3 L96.2 51.9 L94.7 38.5 L93.1 25.1 L165.3 25.1 L165.3 5.0" stroke="#e63f2b" stroke-width="0.9" stroke-opacity="0.75"/>
<path d="M127.2 189.4 L127.1 180.4 L126.8 173.4 L126.4 166.4 L125.9 159.5 L125.3 152.5 L124.6 145.5 L123.7 138.5 L122.8 131.5 L100.5 131.5 L100.0 118.0 L99.1 104.5 L98.0 91.0 L96.7 77.6 L95.3 64.1 L93.6 50.6 L91.9 37.1 L89.9 23.6 L165.0 23.6 L165.0 5.0" stroke="#ea522c" stroke-width="0.9" stroke-opacity="0.75"/>
<path d="M132.7 189.4 L132.6 180.3 L132.4 173.1 L132.1 166.0 L131.8 158.8 L131.3 151.7 L130.7 144.6 L130.1 137.4 L129.3 130.3 L101.7 130.3 L101.2 116.6 L100.3 102.8 L99.1 89.1 L97.6 75.3 L96.0 61.6 L94.2 47.9 L92.3 34.1 L90.2 20.4 L165.4 20.4 L165.4 5.0" stroke="#e63a2b" stroke-width="0.9" stroke-opacity="0.75"/>
<path d="M128.4 189.4 L128.3 180.2 L128.0 172.9 L127.6 165.7 L127.1 158.4 L126.4 151.2 L125.6 143.9 L124.7 136.7 L123.7 129.4 L98.0 129.4 L97.4 116.9 L96.3 104.3 L94.9 91.7 L93.3 79.2 L91.5 66.6 L89.4 54.1 L87.2 41.5 L84.8 29.0 L165.4 29.0 L165.4 5.0" stroke="#e7442b" stroke-width="0.9" stroke-opacity="0.75"/>
<path d="M126.6 189.4 L126.5 180.3 L126.2 173.3 L125.7 166.2 L125.2 159.1 L124.4 152.1 L123.6 145.0 L122.7 138.0 L121.6 130.9 L97.1 130.9 L96.6 116.8 L95.6 102.7 L94.4 88.6 L92.9 74.4 L91.2 60.3 L89.3 46.2 L87.3 32.1 L85.1 18.0 L165.2 18.0 L165.2 5.0" stroke="#e7422b" stroke-width="0.9" stroke-opacity="0.75"/>
<path d="M134.6 189.4 L134.4 180.4 L134.2 173.5 L133.8 166.5 L133.2 159.6 L132.6 152.6 L131.8 145.7 L131.0 138.7 L130.0 131.8 L98.3 131.8 L97.8 118.1 L96.9 104.4 L95.7 90.7 L94.3 77.0 L92.7 63.3 L90.9 49.6 L89.0 35.9 L86.9 22.2 L164.8 22.2 L164.8 5.0" stroke="#e4342b" stroke-width="0.9" stroke-opacity="0.75"/>
<path d="M130.5 189.4 L130.4 180.2 L130.2 173.1 L129.8 165.9 L129.3 158.7 L128.7 151.6 L128.0 144.4 L127.2 137.3 L126.3 130.1 L95.9 130.1 L95.4 117.1 L94.3 104.1 L93.0 91.0 L91.4 78.0 L89.6 65.0 L87.7 52.0 L85.5 39.0 L83.2 26.0 L165.4 26.0 L165.4 5.0" stroke="#f49b30" stroke-width="0.9" stroke-opacity="0.6"/>
<path d="M142.4 189.4 L142.3 179.9 L142.1 172.5 L141.9 165.0 L141.5 157.5 L141.1 150.1 L140.5 142.6 L139.9 135.1 L139.3 127.6 L98.4 127.6 L97.9 113.7 L97.0 99.8 L95.9 85.9 L94.6 72.0 L93.1 58.1 L91.5 44.2 L89.6 30.3 L87.7 16.4 L164.9 16.4 L164.9 5.0" stroke="#e94e2c" stroke-width="0.9" stroke-opacity="0.75"/>
<path d="M129.0 189.4 L128.8 180.4 L128.5 173.5 L127.9 166.5 L127.2 159.6 L126.3 152.6 L125.3 145.7 L124.1 138.7 L122.8 131.8 L99.6 131.8 L99.2 117.9 L98.3 104.1 L97.3 90.3 L96.1 76.5 L94.7 62.6 L93.1 48.8 L91.4 35.0 L89.6 21.1 L164.9 21.1 L164.9 5.0" stroke="#e7422b" stroke-width="0.9" stroke-opacity="0.75"/>
<path d="M144.0 189.4 L143.9 180.5 L143.8 173.6 L143.6 166.7 L143.3 159.8 L142.9 153.0 L142.5 146.1 L142.1 139.2 L141.5 132.3 L98.2 132.3 L97.7 119.1 L96.8 106.0 L95.6 92.8 L94.3 79.6 L92.7 66.5 L91.0 53.3 L89.1 40.1 L87.1 27.0 L165.0 27.0 L165.0 5.0" stroke="#e5392b" stroke-width="0.9" stroke-opacity="0.75"/>
<path d="M128.1 189.4 L128.0 180.0 L127.7 172.6 L127.4 165.1 L126.9 157.7 L126.2 150.3 L125.5 142.9 L124.7 135.5 L123.8 128.1 L100.6 128.1 L100.2 113.9 L99.4 99.7 L98.3 85.5 L97.1 71.3 L95.6 57.1 L94.1 43.0 L92.4 28.8 L90.5 14.6 L165.2 14.6 L165.2 5.0" stroke="#ea512c" stroke-width="0.9" stroke-opacity="0.75"/>
<path d="M129.0 189.4 L128.9 180.1 L128.7 172.8 L128.3 165.5 L127.8 158.2 L127.2 150.9 L126.5 143.6 L125.7 136.3 L124.8 129.0 L99.4 129.0 L98.8 115.6 L97.8 102.1 L96.4 88.6 L94.8 75.2 L93.0 61.7 L91.0 48.2 L88.8 34.7 L86.4 21.3 L164.8 21.3 L164.8 5.0" stroke="#ea542c" stroke-width="0.9" stroke-opacity="0.75"/>
<path d="M138.1 189.4 L138.1 180.3 L137.8 173.2 L137.5 166.0 L137.1 158.9 L136.5 151.8 L135.9 144.7 L135.2 137.6 L134.4 130.5 L101.1 130.5 L100.7 116.2 L99.9 102.0 L98.9 87.7 L97.7 73.5 L96.4 59.3 L94.8 45.0 L93.2 30.8 L91.4 16.5 L165.1 16.5 L165.1 5.0" stroke="#e8492b" stroke-width="0.9" stroke-opacity="0.75"/>
<path d="M125.8 189.4 L125.7 180.0 L125.4 172.6 L124.9 165.2 L124.3 157.8 L123.6 150.4 L122.7 143.0 L121.8 135.6 L120.7 128.2 L98.6 128.2 L98.3 113.9 L97.8 99.5 L97.1 85.2 L96.4 70.8 L95.5 56.5 L94.5 42.1 L93.5 27.8 L92.4 13.4 L164.9 13.4 L164.9 5.0" stroke="#e4332b" stroke-width="0.9" stroke-opacity="0.75"/>
<path d="M142.4 189.4 L142.3 180.0 L142.0 172.6 L141.7 165.2 L141.2 157.8 L140.6 150.4 L139.9 143.0 L139.0 135.6 L138.1 128.2 L99.7 128.2 L99.3 113.9 L98.6 99.6 L97.8 85.4 L96.7 71.1 L95.6 56.9 L94.3 42.6 L92.9 28.3 L91.4 14.1 L165.2 14.1 L165.2 5.0" stroke="#e8492b" stroke-width="0.9" stroke-opacity="0.75"/>
<path d="M125.8 189.4 L125.7 180.4 L125.4 173.4 L124.9 166.4 L124.4 159.3 L123.6 152.3 L122.8 145.3 L121.9 138.3 L120.8 131.3 L95.7 131.3 L95.3 117.1 L94.5 102.9 L93.4 88.7 L92.2 74.5 L90.7 60.3 L89.2 46.1 L87.5 31.9 L85.6 17.7 L165.1 17.7 L165.1 5.0" stroke="#e63c2b" stroke-width="0.9" stroke-opacity="0.75"/>
<path d="M126.2 189.4 L126.0 180.4 L125.7 173.3 L125.2 166.3 L124.6 159.3 L123.8 152.3 L122.8 145.2 L121.8 138.2 L120.6 131.2 L101.2 131.2 L100.7 116.8 L99.9 102.5 L98.8 88.1 L97.5 73.8 L96.0 59.4 L94.4 45.1 L92.6 30.7 L90.7 16.4 L164.9 16.4 L164.9 5.0" stroke="#e94f2c" stroke-width="0.9" stroke-opacity="0.75"/>
<path d="M127.2 189.4 L127.1 180.2 L126.9 173.1 L126.5 165.9 L126.0 158.8 L125.4 151.6 L124.6 144.5 L123.8 137.3 L122.9 130.2 L99.5 130.2 L99.2 115.7 L98.5 101.2 L97.6 86.7 L96.5 72.3 L95.3 57.8 L94.0 43.3 L92.5 28.8 L91.0 14.3 L165.4 14.3 L165.4 5.0" stroke="#e94f2c" stroke-width="0.9" stroke-opacity="0.75"/>
<path d="M129.8 189.4 L129.7 180.2 L129.5 173.1 L129.2 165.9 L128.8 158.8 L128.3 151.6 L127.7 144.5 L127.0 137.3 L126.2 130.2 L98.2 130.2 L97.7 116.8 L96.7 103.5 L95.5 90.1 L94.0 76.8 L92.4 63.4 L90.5 50.0 L88.6 36.7 L86.4 23.3 L165.2 23.3 L165.2 5.0" stroke="#e63b2b" stroke-width="0.9" stroke-opacity="0.75"/>
<path d="M138.3 189.4 L138.2 180.5 L137.9 173.6 L137.5 166.7 L137.0 159.8 L136.4 152.9 L135.7 146.0 L134.9 139.1 L133.9 132.2 L97.4 132.2 L97.0 118.8 L96.1 105.4 L95.0 91.9 L93.7 78.5 L92.2 65.0 L90.6 51.6 L88.9 38.2 L87.0 24.7 L165.3 24.7 L165.3 5.0" stroke="#e94b2b" stroke-width="0.9" stroke-opacity="0.75"/>
<path d="M144.7 189.4 L144.7 180.2 L144.6 173.0 L144.4 165.8 L144.1 158.5 L143.8 151.3 L143.4 144.1 L142.9 136.9 L142.4 129.7 L97.9 129.7 L97.4 115.8 L96.5 101.9 L95.3 88.0 L93.9 74.0 L92.3 60.1 L90.5 46.2 L88.6 32.3 L86.5 18.4 L165.4 18.4 L165.4 5.0" stroke="#e63f2b" stroke-width="0.9" stroke-opacity="0.75"/>
<path d="M125.6 189.4 L125.5 180.3 L125.2 173.3 L124.8 166.2 L124.3 159.1 L123.6 152.1 L122.8 145.0 L122.0 137.9 L121.0 130.9 L96.6 130.9 L96.0 117.0 L94.9 103.0 L93.6 89.1 L91.9 75.2 L90.1 61.3 L88.1 47.4 L85.8 33.5 L83.5 19.6 L164.9 19.6 L164.9 5.0" stroke="#e63b2b" stroke-width="0.9" stroke-opacity="0.75"/>
<path d="M135.3 189.4 L135.2 179.9 L135.0 172.5 L134.6 165.0 L134.0 157.5 L133.4 150.0 L132.6 142.6 L131.8 135.1 L130.8 127.6 L95.8 127.6 L95.1 115.2 L93.9 102.8 L92.3 90.4 L90.4 77.9 L88.3 65.5 L85.9 53.1 L83.4 40.7 L80.6 28.3 L165.1 28.3 L165.1 5.0" stroke="#e7452b" stroke-width="0.9" stroke-opacity="0.75"/>
<path d="M141.5 189.4 L141.4 180.5 L141.2 173.5 L140.9 166.6 L140.5 159.6 L140.1 152.7 L139.5 145.8 L138.9 138.8 L138.1 131.9 L95.3 131.9 L95.1 117.2 L94.8 102.5 L94.4 87.7 L93.9 73.0 L93.3 58.3 L92.6 43.6 L92.0 28.9 L91.2 14.2 L164.8 14.2 L164.8 5.0" stroke="#e5372b" stroke-width="0.9" stroke-opacity="0.75"/>
<path d="M126.4 189.4 L126.2 180.0 L125.9 172.5 L125.4 165.1 L124.7 157.7 L123.8 150.3 L122.9 142.8 L121.8 135.4 L120.5 128.0 L95.2 128.0 L94.7 114.5 L93.6 101.0 L92.2 87.5 L90.6 73.9 L88.7 60.4 L86.7 46.9 L84.5 33.4 L82.1 19.9 L165.0 19.9 L165.0 5.0" stroke="#f07a2d" stroke-width="0.9" stroke-opacity="0.6"/>
<path d="M143.2 189.4 L143.2 180.1 L143.0 172.8 L142.7 165.4 L142.4 158.1 L142.0 150.8 L141.5 143.5 L140.9 136.1 L140.3 128.8 L100.6 128.8 L100.2 115.8 L99.4 102.7 L98.4 89.6 L97.3 76.6 L95.9 63.5 L94.5 50.5 L92.9 37.4 L91.2 24.4 L164.7 24.4 L164.7 5.0" stroke="#ea512c" stroke-width="0.9" stroke-opacity="0.75"/>
<path d="M135.6 189.4 L135.6 180.3 L135.4 173.3 L135.2 166.2 L134.9 159.2 L134.6 152.1 L134.2 145.1 L133.7 138.0 L133.2 131.0 L98.8 131.0 L98.3 116.9 L97.3 102.7 L96.1 88.6 L94.7 74.5 L93.1 60.4 L91.3 46.3 L89.3 32.2 L87.2 18.0 L164.7 18.0 L164.7 5.0" stroke="#e7432b" stroke-width="0.9" stroke-opacity="0.75"/>
<path d="M143.9 189.4 L143.8 180.4 L143.7 173.5 L143.6 166.5 L143.4 159.5 L143.2 152.6 L142.9 145.6 L142.7 138.7 L142.3 131.7 L102.1 131.7 L101.7 117.3 L101.0 103.0 L100.1 88.7 L99.0 74.3 L97.7 60.0 L96.3 45.6 L94.8 31.3 L93.2 16.9 L165.4 16.9 L165.4 5.0" stroke="#e63d2b" stroke-width="0.9" stroke-opacity="0.75"/>
<path d="M126.8 189.4 L126.7 180.2 L126.4 172.9 L126.0 165.7 L125.4 158.4 L124.7 151.2 L123.9 144.0 L122.9 136.7 L121.8 129.5 L97.6 129.5 L97.0 116.6 L96.0 103.8 L94.7 91.0 L93.2 78.1 L91.4 65.3 L89.5 52.5 L87.3 39.6 L85.1 26.8 L164.9 26.8 L164.9 5.0" stroke="#e63d2b" stroke-width="0.9" stroke-opacity="0.75"/>
<path d="M136.2 189.4 L136.1 180.0 L135.9 172.5 L135.5 165.1 L135.0 157.6 L134.3 150.2 L133.6 142.7 L132.7 135.3 L131.8 127.8 L98.2 127.8 L97.8 113.8 L97.0 99.8 L96.0 85.8 L94.8 71.8 L93.5 57.8 L92.0 43.8 L90.4 29.8 L88.7 15.7 L165.1 15.7 L165.1 5.0" stroke="#e7412b" stroke-width="0.9" stroke-opacity="0.75"/>
<path d="M142.6 189.4 L142.6 180.0 L142.4 172.5 L142.1 165.1 L141.7 157.6 L141.2 150.2 L140.7 142.8 L140.0 135.3 L139.3 127.9 L102.5 127.9 L102.1 114.8 L101.5 101.7 L100.6 88.7 L99.5 75.6 L98.3 62.5 L97.0 49.4 L95.6 36.3 L94.1 23.3 L165.2 23.3 L165.2 5.0" stroke="#e5392b" stroke-width="0.9" stroke-opacity="0.75"/>
<path d="M126.8 189.4 L126.8 180.5 L126.5 173.5 L126.2 166.6 L125.8 159.7 L125.2 152.7 L124.6 145.8 L123.9 138.8 L123.1 131.9 L98.3 131.9 L97.8 118.8 L96.8 105.7 L95.6 92.6 L94.1 79.5 L92.5 66.4 L90.6 53.3 L88.6 40.2 L86.5 27.1 L164.8 27.1 L164.8 5.0" stroke="#ea552c" stroke-width="0.9" stroke-opacity="0.75"/>
<path d="M127.8 189.4 L127.7 180.4 L127.3 173.3 L126.8 166.3 L126.2 159.2 L125.4 152.2 L124.5 145.1 L123.5 138.1 L122.3 131.1 L97.6 131.1 L97.1 117.5 L96.2 103.9 L95.1 90.4 L93.7 76.8 L92.2 63.3 L90.5 49.7 L88.7 36.2 L86.7 22.6 L165.1 22.6 L165.1 5.0" stroke="#e63d2b" stroke-width="0.9" stroke-opacity="0.75"/>
<path d="M140.5 189.4 L140.4 180.3 L140.2 173.3 L139.9 166.2 L139.4 159.2 L138.9 152.1 L138.3 145.1 L137.5 138.0 L136.7 131.0 L99.3 131.0 L98.7 117.0 L97.8 102.9 L96.5 88.9 L95.0 74.9 L93.4 60.9 L91.5 46.8 L89.5 32.8 L87.3 18.8 L164.7 18.8 L164.7 5.0" stroke="#e7442b" stroke-width="0.9" stroke-opacity="0.75"/>
<path d="M132.3 189.4 L132.2 180.4 L131.9 173.4 L131.5 166.4 L131.0 159.3 L130.3 152.3 L129.5 145.3 L128.6 138.3 L127.6 131.3 L98.2 131.3 L97.7 118.5 L96.6 105.7 L95.3 92.9 L93.7 80.1 L91.8 67.3 L89.8 54.5 L87.7 41.7 L85.3 28.9 L164.5 28.9 L164.5 5.0" stroke="#e5362b" stroke-width="0.9" stroke-opacity="0.75"/>
<path d="M143.0 189.4 L142.9 180.3 L142.8 173.3 L142.6 166.2 L142.3 159.2 L142.0 152.1 L141.6 145.1 L141.1 138.0 L140.6 130.9 L99.3 130.9 L98.8 117.7 L98.1 104.4 L97.1 91.2 L95.9 77.9 L94.5 64.7 L93.0 51.4 L91.4 38.2 L89.6 24.9 L164.9 24.9 L164.9 5.0" stroke="#ea522c" stroke-width="0.9" stroke-opacity="0.75"/>
<path d="M125.8 189.4 L125.7 180.5 L125.4 173.7 L125.0 166.8 L124.4 159.9 L123.7 153.1 L122.9 146.2 L121.9 139.3 L120.9 132.4 L95.7 132.4 L95.2 118.5 L94.1 104.6 L92.8 90.6 L91.2 76.7 L89.3 62.8 L87.3 48.8 L85.1 34.9 L82.8 21.0 L165.1 21.0 L165.1 5.0" stroke="#ea552c" stroke-width="0.9" stroke-opacity="0.75"/>
<path d="M128.4 189.4 L128.3 180.3 L128.1 173.2 L127.7 166.1 L127.3 158.9 L126.7 151.8 L126.0 144.7 L125.2 137.6 L124.3 130.5 L101.2 130.5 L100.7 117.2 L99.8 103.9 L98.6 90.7 L97.2 77.4 L95.7 64.1 L93.9 50.8 L92.0 37.6 L90.0 24.3 L165.2 24.3 L165.2 5.0" stroke="#ea522c" stroke-width="0.9" stroke-opacity="0.75"/>
<path d="M132.3 189.4 L132.3 180.3 L132.0 173.3 L131.7 166.2 L131.3 159.2 L130.7 152.1 L130.1 145.1 L129.4 138.0 L128.6 130.9 L96.4 130.9 L95.8 116.9 L94.9 102.8 L93.7 88.7 L92.3 74.6 L90.6 60.5 L88.8 46.4 L86.9 32.3 L84.8 18.2 L165.4 18.2 L165.4 5.0" stroke="#e4312b" stroke-width="0.9" stroke-opacity="0.75"/>
<path d="M144.3 189.4 L144.2 180.0 L144.0 172.7 L143.8 165.3 L143.4 157.9 L143.0 150.5 L142.5 143.2 L141.9 135.8 L141.2 128.4 L97.0 128.4 L96.8 114.0 L96.4 99.6 L96.0 85.2 L95.5 70.8 L94.9 56.4 L94.2 42.0 L93.5 27.6 L92.7 13.3 L165.1 13.3 L165.1 5.0" stroke="#e5372b" stroke-width="0.9" stroke-opacity="0.75"/>
<path d="M136.2 189.4 L136.1 180.1 L135.8 172.8 L135.5 165.5 L135.1 158.2 L134.5 150.9 L133.9 143.6 L133.2 136.3 L132.3 129.0 L95.8 129.0 L95.1 115.6 L93.9 102.3 L92.3 88.9 L90.5 75.5 L88.4 62.1 L86.1 48.7 L83.6 35.3 L80.9 21.9 L165.4 21.9 L165.4 5.0" stroke="#e8472b" stroke-width="0.9" stroke-opacity="0.75"/>
<path d="M127.3 189.4 L127.2 180.4 L126.9 173.5 L126.5 166.5 L125.9 159.5 L125.3 152.5 L124.5 145.6 L123.6 138.6 L122.7 131.6 L100.3 131.6 L99.9 118.7 L99.0 105.7 L98.0 92.7 L96.7 79.7 L95.2 66.8 L93.6 53.8 L91.9 40.8 L90.0 27.9 L165.0 27.9 L165.0 5.0" stroke="#e5392b" stroke-width="0.9" stroke-opacity="0.75"/>
<path d="M129.0 189.4 L128.9 180.2 L128.6 173.0 L128.3 165.8 L127.7 158.7 L127.1 151.5 L126.4 144.3 L125.6 137.1 L124.7 129.9 L99.1 129.9 L98.6 117.3 L97.7 104.6 L96.5 92.0 L95.1 79.3 L93.5 66.7 L91.8 54.1 L89.9 41.4 L87.8 28.8 L165.0 28.8 L165.0 5.0" stroke="#e63a2b" stroke-width="0.9" stroke-opacity="0.75"/>
<path d="M134.0 189.4 L133.9 180.1 L133.6 172.8 L133.2 165.5 L132.6 158.2 L131.9 150.9 L131.1 143.7 L130.2 136.4 L129.2 129.1 L99.6 129.1 L99.2 115.1 L98.3 101.1 L97.2 87.1 L95.9 73.0 L94.4 59.0 L92.7 45.0 L91.0 31.0 L89.0 17.0 L164.5 17.0 L164.5 5.0" stroke="#e7422b" stroke-width="0.9" stroke-opacity="0.75"/>
<path d="M142.5 189.4 L142.4 180.4 L142.2 173.4 L142.0 166.5 L141.6 159.5 L141.1 152.5 L140.5 145.5 L139.9 138.5 L139.2 131.5 L100.0 131.5 L99.5 117.5 L98.7 103.4 L97.5 89.4 L96.2 75.3 L94.6 61.3 L93.0 47.2 L91.1 33.2 L89.1 19.1 L165.3 19.1 L165.3 5.0" stroke="#e7402b" stroke-width="0.9" stroke-opacity="0.75"/>
<path d="M126.3 189.4 L126.2 180.4 L126.0 173.5 L125.6 166.5 L125.1 159.6 L124.5 152.6 L123.8 145.6 L123.0 138.7 L122.0 131.7 L99.6 131.7 L99.1 118.7 L98.2 105.6 L97.1 92.6 L95.7 79.5 L94.2 66.5 L92.5 53.5 L90.7 40.4 L88.7 27.4 L165.0 27.4 L165.0 5.0" stroke="#e7412b" stroke-width="0.9" stroke-opacity="0.75"/>
<path d="M130.8 189.4 L130.7 180.5 L130.3 173.6 L129.8 166.7 L129.1 159.8 L128.2 152.9 L127.2 146.0 L126.1 139.1 L124.8 132.2 L100.0 132.2 L99.5 118.1 L98.6 104.0 L97.4 89.9 L96.0 75.8 L94.4 61.7 L92.7 47.6 L90.8 33.5 L88.7 19.4 L164.9 19.4 L164.9 5.0" stroke="#ee692c" stroke-width="0.9" stroke-opacity="0.6"/>
<path d="M125.8 189.4 L125.6 180.4 L125.4 173.5 L124.9 166.5 L124.3 159.5 L123.6 152.6 L122.8 145.6 L121.9 138.6 L120.8 131.7 L98.6 131.7 L98.1 117.6 L97.1 103.5 L95.8 89.5 L94.3 75.4 L92.6 61.3 L90.6 47.3 L88.6 33.2 L86.3 19.1 L164.9 19.1 L164.9 5.0" stroke="#e7402b" stroke-width="0.9" stroke-opacity="0.75"/>
<path d="M142.3 189.4 L142.3 179.9 L142.1 172.5 L142.0 165.0 L141.7 157.5 L141.4 150.1 L141.0 142.6 L140.6 135.2 L140.1 127.7 L98.7 127.7 L98.1 114.1 L97.1 100.5 L95.8 86.9 L94.3 73.3 L92.5 59.7 L90.6 46.2 L88.5 32.6 L86.2 19.0 L165.0 19.0 L165.0 5.0" stroke="#ea562c" stroke-width="0.9" stroke-opacity="0.75"/>
<path d="M134.2 189.4 L134.2 180.0 L133.9 172.7 L133.6 165.3 L133.2 157.9 L132.6 150.6 L132.0 143.2 L131.3 135.8 L130.5 128.5 L97.1 128.5 L96.6 115.1 L95.6 101.8 L94.3 88.4 L92.8 75.1 L91.1 61.8 L89.2 48.4 L87.1 35.1 L84.9 21.7 L165.3 21.7 L165.3 5.0" stroke="#f2892e" stroke-width="0.9" stroke-opacity="0.6"/>
<path d="M134.6 189.4 L134.5 180.3 L134.3 173.2 L133.9 166.1 L133.4 159.0 L132.8 151.9 L132.1 144.8 L131.2 137.8 L130.3 130.7 L96.5 130.7 L95.9 117.1 L95.0 103.6 L93.8 90.0 L92.3 76.5 L90.7 63.0 L88.9 49.4 L86.9 35.9 L84.8 22.4 L164.8 22.4 L164.8 5.0" stroke="#e5392b" stroke-width="0.9" stroke-opacity="0.75"/>
<path d="M129.7 189.4 L129.5 179.9 L129.2 172.5 L128.8 165.0 L128.1 157.6 L127.4 150.1 L126.5 142.7 L125.5 135.2 L124.4 127.8 L102.3 127.8 L101.9 115.5 L101.1 103.2 L100.1 90.9 L98.8 78.7 L97.5 66.4 L95.9 54.1 L94.3 41.8 L92.5 29.5 L165.0 29.5 L165.0 5.0" stroke="#e5362b" stroke-width="0.9" stroke-opacity="0.75"/>
<path d="M135.9 189.4 L135.8 180.1 L135.6 172.8 L135.2 165.5 L134.8 158.3 L134.3 151.0 L133.7 143.7 L133.0 136.4 L132.2 129.1 L96.2 129.1 L95.5 116.2 L94.3 103.2 L92.8 90.3 L90.9 77.3 L88.8 64.4 L86.5 51.5 L84.0 38.5 L81.3 25.6 L164.5 25.6 L164.5 5.0" stroke="#e7452b" stroke-width="0.9" stroke-opacity="0.75"/>
<path d="M128.7 189.4 L128.6 180.1 L128.3 172.8 L127.9 165.5 L127.3 158.2 L126.6 150.9 L125.8 143.6 L124.8 136.3 L123.7 129.0 L101.0 129.0 L100.5 116.4 L99.7 103.7 L98.7 91.1 L97.5 78.4 L96.2 65.8 L94.6 53.1 L93.0 40.5 L91.2 27.8 L164.6 27.8 L164.6 5.0" stroke="#e63c2b" stroke-width="0.9" stroke-opacity="0.75"/>
<path d="M141.3 189.4 L141.2 180.1 L141.0 172.8 L140.7 165.5 L140.3 158.2 L139.8 150.8 L139.2 143.5 L138.5 136.2 L137.7 128.9 L95.7 128.9 L95.2 115.2 L94.2 101.5 L93.0 87.8 L91.5 74.0 L89.8 60.3 L87.9 46.6 L85.9 32.9 L83.7 19.2 L164.9 19.2 L164.9 5.0" stroke="#e7452b" stroke-width="0.9" stroke-opacity="0.75"/>
<path d="M134.1 189.4 L134.0 180.0 L133.8 172.6 L133.4 165.2 L133.0 157.8 L132.4 150.4 L131.7 143.0 L131.0 135.6 L130.1 128.2 L102.3 128.2 L101.9 115.4 L101.1 102.7 L100.1 89.9 L99.0 77.2 L97.7 64.4 L96.3 51.7 L94.7 38.9 L93.0 26.2 L165.2 26.2 L165.2 5.0" stroke="#e8452b" stroke-width="0.9" stroke-opacity="0.75"/>
<path d="M125.6 189.4 L125.5 179.9 L125.2 172.4 L124.7 164.9 L124.1 157.5 L123.4 150.0 L122.6 142.5 L121.6 135.0 L120.5 127.5 L98.3 127.5 L97.7 113.7 L96.8 100.0 L95.5 86.2 L94.0 72.4 L92.4 58.6 L90.5 44.9 L88.5 31.1 L86.3 17.3 L164.8 17.3 L164.8 5.0" stroke="#ea522c" stroke-width="0.9" stroke-opacity="0.75"/>
<path d="M129.0 189.4 L128.9 180.2 L128.6 172.9 L128.2 165.7 L127.7 158.4 L127.0 151.2 L126.3 143.9 L125.4 136.7 L124.4 129.5 L98.4 129.5 L97.9 116.4 L96.9 103.4 L95.6 90.3 L94.2 77.3 L92.5 64.2 L90.6 51.2 L88.6 38.2 L86.4 25.1 L165.1 25.1 L165.1 5.0" stroke="#f4962f" stroke-width="0.9" stroke-opacity="0.6"/>
<path d="M143.8 189.4 L143.7 180.2 L143.5 173.1 L143.3 165.9 L142.9 158.7 L142.5 151.5 L142.0 144.4 L141.5 137.2 L140.9 130.0 L99.5 130.0 L98.9 116.5 L97.9 103.1 L96.7 89.6 L95.2 76.1 L93.5 62.7 L91.6 49.2 L89.6 35.7 L87.4 22.3 L165.4 22.3 L165.4 5.0" stroke="#e63c2b" stroke-width="0.9" stroke-opacity="0.75"/>
<path d="M140.0 189.4 L139.9 180.0 L139.7 172.6 L139.4 165.2 L138.9 157.8 L138.4 150.4 L137.8 142.9 L137.1 135.5 L136.3 128.1 L99.3 128.1 L98.7 115.1 L97.7 102.1 L96.4 89.1 L94.8 76.1 L93.0 63.1 L91.0 50.1 L88.9 37.1 L86.6 24.1 L164.5 24.1 L164.5 5.0" stroke="#e5372b" stroke-width="0.9" stroke-opacity="0.75"/>
<path d="M140.2 189.4 L140.2 180.3 L140.1 173.2 L139.9 166.0 L139.7 158.9 L139.4 151.8 L139.1 144.7 L138.8 137.5 L138.4 130.4 L101.1 130.4 L100.6 116.1 L99.8 101.8 L98.6 87.5 L97.3 73.2 L95.8 58.9 L94.1 44.7 L92.3 30.4 L90.4 16.1 L165.0 16.1 L165.0 5.0" stroke="#e7402b" stroke-width="0.9" stroke-opacity="0.75"/>
<path d="M143.9 189.4 L143.8 180.2 L143.6 173.0 L143.4 165.9 L143.1 158.7 L142.8 151.5 L142.4 144.3 L141.9 137.2 L141.4 130.0 L100.5 130.0 L100.0 116.4 L99.1 102.8 L97.8 89.2 L96.4 75.5 L94.7 61.9 L92.9 48.3 L90.9 34.7 L88.8 21.1 L165.2 21.1 L165.2 5.0" stroke="#e7402b" stroke-width="0.9" stroke-opacity="0.75"/>
<path d="M139.1 189.4 L138.9 180.2 L138.7 173.1 L138.3 165.9 L137.7 158.7 L137.1 151.6 L136.3 144.4 L135.4 137.2 L134.5 130.1 L97.1 130.1 L96.5 116.5 L95.4 103.0 L94.0 89.5 L92.3 76.0 L90.3 62.5 L88.2 49.0 L85.9 35.5 L83.4 22.0 L164.7 22.0 L164.7 5.0" stroke="#e4332b" stroke-width="0.9" stroke-opacity="0.75"/>
<path d="M142.4 189.4 L142.3 179.9 L142.1 172.5 L141.9 165.0 L141.6 157.5 L141.2 150.1 L140.7 142.6 L140.2 135.1 L139.6 127.7 L96.4 127.7 L95.8 114.6 L94.8 101.6 L93.5 88.6 L91.9 75.5 L90.2 62.5 L88.2 49.4 L86.1 36.4 L83.8 23.3 L164.6 23.3 L164.6 5.0" stroke="#ee6a2c" stroke-width="0.9" stroke-opacity="0.6"/>
<path d="M134.3 189.4 L134.2 180.5 L134.0 173.7 L133.8 166.8 L133.4 159.9 L133.0 153.1 L132.4 146.2 L131.9 139.3 L131.2 132.5 L100.6 132.5 L100.2 119.0 L99.4 105.5 L98.3 92.0 L97.1 78.4 L95.7 64.9 L94.1 51.4 L92.5 37.9 L90.7 24.4 L164.6 24.4 L164.6 5.0" stroke="#e4312b" stroke-width="0.9" stroke-opacity="0.75"/>
<path d="M137.0 189.4 L136.9 180.5 L136.7 173.5 L136.5 166.6 L136.1 159.7 L135.7 152.7 L135.2 145.8 L134.6 138.8 L134.0 131.9 L98.8 131.9 L98.4 117.3 L97.7 102.7 L96.8 88.0 L95.7 73.4 L94.5 58.8 L93.1 44.2 L91.6 29.5 L90.0 14.9 L165.5 14.9 L165.5 5.0" stroke="#e7432b" stroke-width="0.9" stroke-opacity="0.75"/>
<path d="M133.5 189.4 L133.4 180.5 L133.2 173.7 L132.9 166.8 L132.5 159.9 L132.0 153.0 L131.5 146.2 L130.8 139.3 L130.1 132.4 L99.4 132.4 L98.9 118.1 L98.0 103.7 L96.8 89.3 L95.4 75.0 L93.8 60.6 L92.0 46.2 L90.1 31.9 L88.0 17.5 L164.6 17.5 L164.6 5.0" stroke="#e8462b" stroke-width="0.9" stroke-opacity="0.75"/>
<path d="M144.7 189.4 L144.6 180.2 L144.5 173.0 L144.2 165.7 L143.9 158.5 L143.5 151.3 L143.1 144.1 L142.5 136.9 L142.0 129.7 L97.3 129.7 L96.7 116.0 L95.7 102.3 L94.5 88.7 L92.9 75.0 L91.2 61.4 L89.3 47.7 L87.3 34.1 L85.1 20.4 L165.5 20.4 L165.5 5.0" stroke="#ea542c" stroke-width="0.9" stroke-opacity="0.75"/>
<path d="M139.8 189.4 L139.8 180.4 L139.6 173.3 L139.4 166.3 L139.2 159.3 L138.8 152.3 L138.4 145.2 L138.0 138.2 L137.5 131.2 L100.3 131.2 L99.8 118.0 L98.9 104.9 L97.7 91.7 L96.3 78.5 L94.7 65.4 L93.0 52.2 L91.1 39.1 L89.1 25.9 L164.8 25.9 L164.8 5.0" stroke="#e5342b" stroke-width="0.9" stroke-opacity="0.75"/>
<path d="M126.9 189.4 L126.8 180.1 L126.6 172.8 L126.3 165.4 L125.8 158.1 L125.3 150.8 L124.7 143.5 L124.0 136.2 L123.2 128.8 L100.3 128.8 L99.8 115.9 L99.0 103.0 L97.9 90.0 L96.5 77.1 L95.0 64.1 L93.4 51.2 L91.6 38.2 L89.6 25.3 L164.5 25.3 L164.5 5.0" stroke="#ea552c" stroke-width="0.9" stroke-opacity="0.75"/>
<path d="M127.4 189.4 L127.3 180.2 L127.2 173.0 L126.9 165.8 L126.6 158.6 L126.2 151.4 L125.7 144.3 L125.2 137.1 L124.6 129.9 L101.8 129.9 L101.3 116.7 L100.5 103.6 L99.4 90.5 L98.2 77.3 L96.7 64.2 L95.2 51.1 L93.5 37.9 L91.6 24.8 L164.8 24.8 L164.8 5.0" stroke="#e4332b" stroke-width="0.9" stroke-opacity="0.75"/>
<path d="M132.6 189.4 L132.5 180.4 L132.2 173.4 L131.8 166.4 L131.4 159.4 L130.8 152.4 L130.1 145.4 L129.3 138.4 L128.4 131.3 L96.7 131.3 L96.3 117.0 L95.5 102.7 L94.5 88.3 L93.4 74.0 L92.1 59.7 L90.6 45.3 L89.0 31.0 L87.3 16.6 L164.6 16.6 L164.6 5.0" stroke="#eb562c" stroke-width="0.9" stroke-opacity="0.75"/>
<path d="M142.8 189.4 L142.6 180.3 L142.3 173.2 L141.8 166.1 L141.1 158.9 L140.3 151.8 L139.3 144.7 L138.2 137.6 L137.0 130.5 L95.6 130.5 L95.1 117.3 L94.0 104.1 L92.6 90.9 L91.0 77.7 L89.1 64.5 L87.1 51.4 L84.9 38.2 L82.5 25.0 L165.5 25.0 L165.5 5.0" stroke="#e9502c" stroke-width="0.9" stroke-opacity="0.75"/>
<path d="M138.9 189.4 L138.8 180.5 L138.6 173.5 L138.3 166.6 L137.9 159.6 L137.5 152.7 L136.9 145.7 L136.2 138.8 L135.5 131.8 L99.2 131.8 L98.8 118.7 L98.1 105.6 L97.2 92.5 L96.1 79.4 L94.9 66.4 L93.6 53.3 L92.1 40.2 L90.5 27.1 L165.0 27.1 L165.0 5.0" stroke="#f07a2d" stroke-width="0.9" stroke-opacity="0.6"/>
<path d="M133.2 189.4 L133.1 180.0 L132.8 172.6 L132.4 165.2 L131.9 157.9 L131.3 150.5 L130.5 143.1 L129.7 135.7 L128.8 128.3 L99.1 128.3 L98.8 113.9 L98.3 99.5 L97.6 85.1 L96.9 70.8 L96.0 56.4 L95.0 42.0 L94.0 27.6 L92.8 13.2 L165.2 13.2 L165.2 5.0" stroke="#e94e2c" stroke-width="0.9" stroke-opacity="0.75"/>
<path d="M127.5 189.4 L127.3 180.4 L127.0 173.5 L126.5 166.5 L125.9 159.5 L125.1 152.5 L124.2 145.6 L123.1 138.6 L121.9 131.6 L100.5 131.6 L100.1 118.5 L99.3 105.3 L98.2 92.1 L96.9 78.9 L95.4 65.8 L93.8 52.6 L92.1 39.4 L90.2 26.3 L165.2 26.3 L165.2 5.0" stroke="#ea552c" stroke-width="0.9" stroke-opacity="0.75"/>
<path d="M134.1 189.4 L134.0 180.3 L133.8 173.1 L133.5 166.0 L133.1 158.9 L132.6 151.7 L132.0 144.6 L131.3 137.5 L130.6 130.4 L99.0 130.4 L98.5 116.5 L97.6 102.6 L96.4 88.7 L95.0 74.8 L93.5 60.9 L91.7 47.0 L89.8 33.1 L87.7 19.2 L165.1 19.2 L165.1 5.0" stroke="#e4342b" stroke-width="0.9" stroke-opacity="0.75"/>
<path d="M141.3 189.4 L141.2 180.1 L141.0 172.9 L140.7 165.6 L140.3 158.3 L139.8 151.0 L139.2 143.8 L138.5 136.5 L137.7 129.2 L99.1 129.2 L98.7 116.0 L97.8 102.8 L96.8 89.6 L95.5 76.4 L94.0 63.3 L92.4 50.1 L90.7 36.9 L88.8 23.7 L164.6 23.7 L164.6 5.0" stroke="#e5362b" stroke-width="0.9" stroke-opacity="0.75"/>
<path d="M136.0 189.4 L135.9 180.4 L135.6 173.4 L135.3 166.4 L134.8 159.4 L134.3 152.4 L133.6 145.4 L132.9 138.4 L132.1 131.4 L100.6 131.4 L100.1 117.8 L99.3 104.1 L98.2 90.5 L96.8 76.9 L95.3 63.2 L93.7 49.6 L91.8 36.0 L89.9 22.3 L165.1 22.3 L165.1 5.0" stroke="#ef702c" stroke-width="0.9" stroke-opacity="0.6"/>
<path d="M132.4 189.4 L132.3 180.4 L132.1 173.3 L131.8 166.3 L131.4 159.3 L130.9 152.3 L130.3 145.2 L129.6 138.2 L128.9 131.2 L97.1 131.2 L96.5 118.0 L95.5 104.7 L94.1 91.5 L92.5 78.3 L90.7 65.0 L88.7 51.8 L86.5 38.6 L84.2 25.3 L164.7 25.3 L164.7 5.0" stroke="#e8462b" stroke-width="0.9" stroke-opacity="0.75"/>
<path d="M138.4 189.4 L138.3 180.1 L138.2 172.8 L137.9 165.5 L137.5 158.2 L137.1 150.9 L136.6 143.6 L136.0 136.3 L135.4 129.0 L96.5 129.0 L96.0 115.9 L95.0 102.8 L93.8 89.7 L92.3 76.7 L90.6 63.6 L88.8 50.5 L86.7 37.5 L84.6 24.4 L165.2 24.4 L165.2 5.0" stroke="#e7442b" stroke-width="0.9" stroke-opacity="0.75"/>
<path d="M136.9 189.4 L136.8 180.0 L136.5 172.7 L136.1 165.3 L135.6 157.9 L134.9 150.6 L134.1 143.2 L133.2 135.9 L132.3 128.5 L95.8 128.5 L95.3 115.8 L94.2 103.1 L92.9 90.4 L91.3 77.7 L89.5 65.0 L87.5 52.3 L85.3 39.6 L83.0 26.9 L165.4 26.9 L165.4 5.0" stroke="#e7432b" stroke-width="0.9" stroke-opacity="0.75"/>
<path d="M144.0 189.4 L143.9 180.1 L143.8 172.8 L143.5 165.5 L143.2 158.2 L142.9 150.9 L142.4 143.7 L141.9 136.4 L141.4 129.1 L99.4 129.1 L98.9 115.5 L98.0 101.9 L96.8 88.4 L95.4 74.8 L93.8 61.2 L92.1 47.7 L90.1 34.1 L88.1 20.5 L164.6 20.5 L164.6 5.0" stroke="#e94b2b" stroke-width="0.9" stroke-opacity="0.75"/>
<path d="M137.5 189.4 L137.4 180.5 L137.2 173.6 L136.9 166.7 L136.5 159.8 L136.0 153.0 L135.4 146.1 L134.8 139.2 L134.1 132.3 L100.7 132.3 L100.3 117.5 L99.5 102.8 L98.5 88.0 L97.3 73.3 L95.9 58.6 L94.4 43.8 L92.8 29.1 L91.0 14.3 L164.6 14.3 L164.6 5.0" stroke="#ea532c" stroke-width="0.9" stroke-opacity="0.75"/>
<path d="M127.2 189.4 L127.1 180.5 L126.8 173.5 L126.4 166.6 L125.8 159.7 L125.1 152.7 L124.3 145.8 L123.4 138.9 L122.4 131.9 L100.4 131.9 L100.0 118.8 L99.2 105.7 L98.2 92.6 L97.0 79.4 L95.7 66.3 L94.2 53.2 L92.5 40.1 L90.8 26.9 L165.3 26.9 L165.3 5.0" stroke="#ea562c" stroke-width="0.9" stroke-opacity="0.75"/>
<path d="M125.4 189.4 L125.3 180.2 L125.1 173.0 L124.7 165.9 L124.2 158.7 L123.6 151.5 L122.9 144.3 L122.0 137.1 L121.1 129.9 L98.9 129.9 L98.4 117.0 L97.6 104.1 L96.5 91.1 L95.3 78.2 L93.8 65.3 L92.3 52.4 L90.5 39.4 L88.7 26.5 L164.9 26.5 L164.9 5.0" stroke="#e5362b" stroke-width="0.9" stroke-opacity="0.75"/>
<path d="M131.7 189.4 L131.6 180.0 L131.3 172.5 L131.0 165.1 L130.5 157.7 L129.9 150.2 L129.2 142.8 L128.4 135.4 L127.6 127.9 L96.7 127.9 L96.6 113.5 L96.3 99.1 L96.0 84.7 L95.7 70.3 L95.3 55.8 L94.8 41.4 L94.3 27.0 L93.8 12.6 L165.5 12.6 L165.5 5.0" stroke="#e7442b" stroke-width="0.9" stroke-opacity="0.75"/>
<path d="M140.9 189.4 L140.8 180.4 L140.6 173.4 L140.3 166.3 L140.0 159.3 L139.5 152.3 L139.0 145.3 L138.4 138.2 L137.8 131.2 L96.9 131.2 L96.2 117.8 L95.1 104.4 L93.6 91.0 L91.8 77.6 L89.8 64.2 L87.6 50.7 L85.2 37.3 L82.6 23.9 L165.3 23.9 L165.3 5.0" stroke="#e4332b" stroke-width="0.9" stroke-opacity="0.75"/>
<path d="M130.9 189.4 L130.8 180.4 L130.5 173.3 L130.0 166.3 L129.5 159.3 L128.8 152.2 L127.9 145.2 L127.0 138.2 L125.9 131.2 L99.4 131.2 L98.9 117.4 L97.9 103.5 L96.7 89.7 L95.2 75.9 L93.5 62.1 L91.6 48.3 L89.6 34.5 L87.4 20.7 L165.0 20.7 L165.0 5.0" stroke="#e5382b" stroke-width="0.9" stroke-opacity="0.75"/>
<path d="M142.4 189.4 L142.4 180.1 L142.2 172.9 L141.9 165.6 L141.5 158.3 L141.0 151.1 L140.4 143.8 L139.8 136.5 L139.1 129.3 L100.1 129.3 L99.5 116.2 L98.4 103.0 L97.1 89.9 L95.5 76.8 L93.6 63.7 L91.6 50.6 L89.4 37.4 L87.1 24.3 L164.9 24.3 L164.9 5.0" stroke="#e7412b" stroke-width="0.9" stroke-opacity="0.75"/>
<path d="M144.0 189.4 L143.9 180.2 L143.8 173.0 L143.5 165.8 L143.2 158.6 L142.8 151.4 L142.4 144.2 L141.9 137.1 L141.3 129.9 L97.8 129.9 L97.4 115.6 L96.6 101.4 L95.6 87.1 L94.5 72.9 L93.2 58.6 L91.7 44.4 L90.2 30.1 L88.5 15.9 L165.3 15.9 L165.3 5.0" stroke="#ea532c" stroke-width="0.9" stroke-opacity="0.75"/>
<path d="M130.9 189.4 L130.8 180.3 L130.7 173.3 L130.4 166.2 L130.1 159.2 L129.6 152.1 L129.1 145.0 L128.6 138.0 L128.0 130.9 L97.5 130.9 L97.0 116.6 L96.2 102.3 L95.2 88.0 L93.9 73.7 L92.5 59.4 L90.9 45.1 L89.2 30.8 L87.4 16.6 L165.4 16.6 L165.4 5.0" stroke="#e63b2b" stroke-width="0.9" stroke-opacity="0.75"/>
<path d="M137.8 189.4 L137.7 180.3 L137.5 173.2 L137.1 166.1 L136.7 159.0 L136.2 151.9 L135.5 144.8 L134.8 137.7 L134.0 130.6 L96.0 130.6 L95.3 117.0 L94.2 103.5 L92.7 89.9 L91.0 76.4 L89.0 62.9 L86.8 49.3 L84.4 35.8 L81.8 22.2 L165.1 22.2 L165.1 5.0" stroke="#eb572c" stroke-width="0.9" stroke-opacity="0.75"/>
<path d="M139.9 189.4 L139.8 180.5 L139.5 173.6 L139.1 166.6 L138.6 159.7 L137.9 152.8 L137.1 145.9 L136.2 138.9 L135.2 132.0 L96.3 132.0 L96.1 117.3 L95.7 102.5 L95.2 87.7 L94.7 73.0 L94.0 58.2 L93.3 43.5 L92.5 28.7 L91.6 13.9 L165.3 13.9 L165.3 5.0" stroke="#e7432b" stroke-width="0.9" stroke-opacity="0.75"/>
<path d="M129.7 189.4 L129.6 180.5 L129.3 173.6 L128.9 166.7 L128.4 159.8 L127.7 152.9 L126.9 146.0 L126.1 139.0 L125.1 132.1 L102.2 132.1 L101.8 119.0 L101.1 105.9 L100.1 92.8 L99.0 79.6 L97.8 66.5 L96.4 53.4 L94.9 40.3 L93.3 27.1 L164.7 27.1 L164.7 5.0" stroke="#f49b30" stroke-width="0.9" stroke-opacity="0.6"/>
<path d="M139.2 189.4 L139.1 180.1 L139.0 172.8 L138.8 165.6 L138.5 158.3 L138.2 151.0 L137.8 143.7 L137.3 136.4 L136.8 129.1 L101.8 129.1 L101.3 116.5 L100.4 103.8 L99.3 91.2 L98.0 78.5 L96.4 65.8 L94.7 53.2 L92.9 40.5 L90.9 27.8 L165.3 27.8 L165.3 5.0" stroke="#e4312b" stroke-width="0.9" stroke-opacity="0.75"/>
<path d="M128.4 189.4 L128.4 180.1 L128.1 172.8 L127.8 165.6 L127.4 158.3 L126.9 151.0 L126.3 143.7 L125.6 136.4 L124.8 129.1 L97.8 129.1 L97.3 116.6 L96.5 104.0 L95.4 91.4 L94.1 78.8 L92.7 66.2 L91.0 53.6 L89.3 41.1 L87.4 28.5 L165.1 28.5 L165.1 5.0" stroke="#e5372b" stroke-width="0.9" stroke-opacity="0.75"/>
<path d="M139.6 189.4 L139.5 180.1 L139.4 172.9 L139.1 165.6 L138.8 158.3 L138.4 151.0 L138.0 143.8 L137.4 136.5 L136.8 129.2 L102.5 129.2 L102.1 116.6 L101.3 104.0 L100.3 91.4 L99.1 78.8 L97.8 66.2 L96.3 53.6 L94.6 41.0 L92.9 28.4 L165.1 28.4 L165.1 5.0" stroke="#e7432b" stroke-width="0.9" stroke-opacity="0.75"/>
<path d="M131.2 189.4 L131.2 180.1 L131.0 172.8 L130.8 165.5 L130.4 158.2 L130.0 150.9 L129.6 143.6 L129.1 136.3 L128.5 129.0 L101.0 129.0 L100.5 115.1 L99.6 101.2 L98.4 87.3 L96.9 73.4 L95.3 59.5 L93.5 45.6 L91.5 31.7 L89.4 17.8 L164.7 17.8 L164.7 5.0" stroke="#e8472b" stroke-width="0.9" stroke-opacity="0.75"/>
<path d="M136.2 189.4 L136.1 180.4 L135.8 173.4 L135.4 166.4 L134.9 159.4 L134.3 152.3 L133.5 145.3 L132.7 138.3 L131.7 131.3 L95.7 131.3 L95.0 118.4 L93.9 105.4 L92.4 92.5 L90.6 79.6 L88.6 66.6 L86.3 53.7 L83.9 40.8 L81.3 27.8 L164.8 27.8 L164.8 5.0" stroke="#e8452b" stroke-width="0.9" stroke-opacity="0.75"/>
<path d="M127.2 189.4 L127.1 180.5 L126.8 173.5 L126.5 166.6 L125.9 159.6 L125.3 152.7 L124.6 145.7 L123.8 138.8 L122.8 131.9 L96.1 131.9 L95.4 118.2 L94.3 104.5 L92.9 90.8 L91.2 77.1 L89.2 63.4 L87.1 49.7 L84.8 36.0 L82.3 22.3 L165.2 22.3 L165.2 5.0" stroke="#e7402b" stroke-width="0.9" stroke-opacity="0.75"/>
<path d="M130.6 189.4 L130.5 180.3 L130.2 173.3 L129.8 166.2 L129.4 159.1 L128.8 152.1 L128.0 145.0 L127.2 137.9 L126.3 130.9 L95.1 130.9 L95.1 116.1 L95.0 101.3 L94.8 86.6 L94.6 71.8 L94.4 57.0 L94.2 42.2 L93.9 27.5 L93.6 12.7 L165.0 12.7 L165.0 5.0" stroke="#e5352b" stroke-width="0.9" stroke-opacity="0.75"/>
<path d="M141.6 189.4 L141.5 180.0 L141.3 172.7 L141.1 165.3 L140.8 158.0 L140.4 150.6 L139.9 143.2 L139.4 135.9 L138.8 128.5 L95.5 128.5 L94.8 116.1 L93.7 103.8 L92.2 91.4 L90.5 79.0 L88.5 66.6 L86.3 54.2 L83.9 41.9 L81.4 29.5 L164.9 29.5 L164.9 5.0" stroke="#e63f2b" stroke-width="0.9" stroke-opacity="0.75"/>
<path d="M143.0 189.4 L142.9 180.1 L142.7 172.9 L142.4 165.6 L142.0 158.3 L141.6 151.0 L141.0 143.8 L140.3 136.5 L139.6 129.2 L97.1 129.2 L96.6 116.4 L95.7 103.6 L94.6 90.8 L93.2 78.0 L91.7 65.2 L89.9 52.4 L88.1 39.6 L86.1 26.8 L164.7 26.8 L164.7 5.0" stroke="#ea502c" stroke-width="0.9" stroke-opacity="0.75"/>
<path d="M128.7 189.4 L128.6 180.3 L128.3 173.2 L128.0 166.1 L127.6 159.1 L127.0 152.0 L126.4 144.9 L125.7 137.8 L124.9 130.7 L97.6 130.7 L97.2 117.8 L96.3 104.9 L95.2 92.0 L93.9 79.0 L92.4 66.1 L90.8 53.2 L89.0 40.3 L87.0 27.4 L164.7 27.4 L164.7 5.0" stroke="#ea512c" stroke-width="0.9" stroke-opacity="0.75"/>
<path d="M136.8 189.4 L136.7 180.0 L136.5 172.7 L136.2 165.3 L135.9 157.9 L135.5 150.5 L135.0 143.2 L134.4 135.8 L133.7 128.4 L99.2 128.4 L98.6 115.3 L97.7 102.2 L96.5 89.1 L95.1 76.0 L93.5 62.9 L91.7 49.8 L89.7 36.7 L87.6 23.6 L165.0 23.6 L165.0 5.0" stroke="#e94f2c" stroke-width="0.9" stroke-opacity="0.75"/>
<path d="M136.1 189.4 L136.0 180.4 L135.8 173.3 L135.6 166.3 L135.2 159.3 L134.8 152.2 L134.3 145.2 L133.8 138.2 L133.2 131.1 L96.9 131.1 L96.4 118.0 L95.4 104.9 L94.1 91.8 L92.6 78.7 L90.8 65.6 L88.9 52.6 L86.8 39.5 L84.5 26.4 L165.5 26.4 L165.5 5.0" stroke="#e5392b" stroke-width="0.9" stroke-opacity="0.75"/>
<path d="M136.9 189.4 L136.8 180.0 L136.7 172.5 L136.6 165.1 L136.3 157.6 L136.1 150.2 L135.8 142.7 L135.4 135.3 L135.0 127.8 L100.1 127.8 L99.6 113.8 L98.8 99.8 L97.7 85.8 L96.4 71.8 L95.0 57.8 L93.4 43.8 L91.6 29.8 L89.8 15.8 L165.3 15.8 L165.3 5.0" stroke="#e4322b" stroke-width="0.9" stroke-opacity="0.75"/>
<path d="M137.3 189.4 L137.1 180.0 L136.9 172.6 L136.5 165.2 L135.9 157.8 L135.3 150.4 L134.5 143.0 L133.6 135.6 L132.6 128.1 L101.6 128.1 L101.1 114.4 L100.2 100.7 L99.1 87.0 L97.7 73.2 L96.1 59.5 L94.4 45.8 L92.6 32.1 L90.6 18.3 L165.2 18.3 L165.2 5.0" stroke="#e94f2c" stroke-width="0.9" stroke-opacity="0.75"/>
<path d="M142.6 189.4 L142.5 180.0 L142.4 172.5 L142.2 165.1 L141.9 157.7 L141.6 150.3 L141.2 142.8 L140.8 135.4 L140.3 128.0 L98.2 128.0 L98.0 113.6 L97.6 99.2 L97.2 84.7 L96.6 70.3 L95.9 55.9 L95.2 41.5 L94.5 27.1 L93.6 12.7 L165.2 12.7 L165.2 5.0" stroke="#ea512c" stroke-width="0.9" stroke-opacity="0.75"/>
<path d="M141.8 189.4 L141.7 180.3 L141.5 173.2 L141.1 166.2 L140.7 159.1 L140.1 152.0 L139.4 144.9 L138.6 137.8 L137.7 130.7 L96.4 130.7 L95.9 116.7 L95.1 102.8 L93.9 88.8 L92.6 74.8 L91.1 60.8 L89.4 46.8 L87.5 32.8 L85.6 18.8 L165.2 18.8 L165.2 5.0" stroke="#e5362b" stroke-width="0.9" stroke-opacity="0.75"/>
<path d="M126.4 189.4 L126.3 180.4 L126.0 173.4 L125.6 166.4 L125.0 159.3 L124.2 152.3 L123.4 145.3 L122.4 138.3 L121.3 131.3 L97.7 131.3 L97.2 117.0 L96.3 102.7 L95.2 88.5 L93.8 74.2 L92.3 59.9 L90.5 45.6 L88.7 31.4 L86.7 17.1 L165.4 17.1 L165.4 5.0" stroke="#e5352b" stroke-width="0.9" stroke-opacity="0.75"/>
<path d="M144.9 189.4 L144.9 180.0 L144.6 172.5 L144.3 165.1 L143.9 157.6 L143.4 150.2 L142.8 142.7 L142.1 135.3 L141.3 127.8 L101.0 127.8 L100.6 114.0 L99.7 100.2 L98.6 86.4 L97.3 72.6 L95.8 58.8 L94.2 45.0 L92.4 31.2 L90.5 17.5 L164.6 17.5 L164.6 5.0" stroke="#e7442b" stroke-width="0.9" stroke-opacity="0.75"/>
<path d="M142.6 189.4 L142.6 180.2 L142.4 172.9 L142.2 165.7 L141.9 158.4 L141.5 151.2 L141.0 143.9 L140.5 136.7 L140.0 129.4 L102.3 129.4 L101.9 116.5 L101.1 103.6 L100.1 90.6 L99.0 77.7 L97.6 64.7 L96.1 51.8 L94.5 38.8 L92.8 25.9 L165.4 25.9 L165.4 5.0" stroke="#e63b2b" stroke-width="0.9" stroke-opacity="0.75"/>
<path d="M126.2 189.4 L126.1 180.3 L125.8 173.1 L125.3 166.0 L124.7 158.9 L124.0 151.7 L123.1 144.6 L122.1 137.5 L121.0 130.3 L96.7 130.3 L96.0 117.3 L94.9 104.3 L93.4 91.3 L91.7 78.3 L89.7 65.3 L87.5 52.3 L85.2 39.3 L82.6 26.3 L164.7 26.3 L164.7 5.0" stroke="#ea522c" stroke-width="0.9" stroke-opacity="0.75"/>
<path d="M127.7 189.4 L127.6 180.3 L127.4 173.2 L127.1 166.2 L126.6 159.1 L126.1 152.0 L125.5 144.9 L124.8 137.8 L124.0 130.7 L100.5 130.7 L100.0 116.8 L99.2 102.9 L98.2 89.0 L97.0 75.1 L95.6 61.2 L94.1 47.3 L92.4 33.4 L90.6 19.4 L165.1 19.4 L165.1 5.0" stroke="#e63b2b" stroke-width="0.9" stroke-opacity="0.75"/>
<path d="M132.9 189.4 L132.9 180.2 L132.7 172.9 L132.5 165.7 L132.2 158.5 L131.8 151.3 L131.4 144.0 L130.9 136.8 L130.3 129.6 L96.7 129.6 L96.4 115.2 L95.9 100.8 L95.3 86.4 L94.5 72.1 L93.7 57.7 L92.7 43.3 L91.7 28.9 L90.6 14.6 L165.1 14.6 L165.1 5.0" stroke="#f17e2d" stroke-width="0.9" stroke-opacity="0.6"/>
<path d="M139.2 189.4 L139.1 180.0 L138.9 172.6 L138.5 165.1 L138.1 157.7 L137.6 150.3 L137.0 142.9 L136.3 135.5 L135.6 128.0 L96.3 128.0 L95.7 115.7 L94.6 103.3 L93.3 91.0 L91.6 78.6 L89.8 66.3 L87.8 53.9 L85.6 41.5 L83.2 29.2 L165.0 29.2 L165.0 5.0" stroke="#e8472b" stroke-width="0.9" stroke-opacity="0.75"/>
<path d="M129.1 189.4 L129.0 180.2 L128.8 173.0 L128.5 165.8 L128.0 158.6 L127.4 151.4 L126.8 144.2 L126.0 137.0 L125.2 129.8 L102.0 129.8 L101.6 117.2 L100.8 104.6 L99.8 92.0 L98.7 79.4 L97.4 66.8 L95.9 54.2 L94.3 41.6 L92.6 29.0 L164.6 29.0 L164.6 5.0" stroke="#e63b2b" stroke-width="0.9" stroke-opacity="0.75"/>
<path d="M142.5 189.4 L142.5 180.5 L142.3 173.6 L141.9 166.7 L141.5 159.8 L141.0 152.9 L140.5 146.0 L139.8 139.0 L139.0 132.1 L100.6 132.1 L100.2 119.3 L99.3 106.4 L98.2 93.5 L96.9 80.6 L95.4 67.7 L93.7 54.9 L91.9 42.0 L90.0 29.1 L164.7 29.1 L164.7 5.0" stroke="#e5342b" stroke-width="0.9" stroke-opacity="0.75"/>
<path d="M142.8 189.4 L142.8 180.3 L142.5 173.3 L142.2 166.2 L141.8 159.1 L141.3 152.1 L140.7 145.0 L140.0 137.9 L139.3 130.9 L95.3 130.9 L94.8 116.8 L94.0 102.7 L92.9 88.5 L91.7 74.4 L90.3 60.3 L88.7 46.2 L87.0 32.1 L85.1 18.0 L164.9 18.0 L164.9 5.0" stroke="#f2882e" stroke-width="0.9" stroke-opacity="0.6"/>
<path d="M140.1 189.4 L140.0 180.2 L139.8 173.0 L139.6 165.8 L139.3 158.6 L138.9 151.4 L138.4 144.2 L137.9 137.0 L137.3 129.8 L98.3 129.8 L97.8 117.0 L97.0 104.3 L95.8 91.5 L94.5 78.7 L92.9 65.9 L91.2 53.2 L89.4 40.4 L87.4 27.6 L165.3 27.6 L165.3 5.0" stroke="#e94b2b" stroke-width="0.9" stroke-opacity="0.75"/>
<path d="M137.9 189.4 L137.9 179.9 L137.7 172.4 L137.4 165.0 L137.1 157.5 L136.6 150.0 L136.1 142.5 L135.6 135.0 L134.9 127.6 L100.2 127.6 L99.7 114.9 L98.6 102.3 L97.3 89.7 L95.7 77.1 L93.9 64.5 L91.9 51.9 L89.7 39.3 L87.4 26.6 L165.2 26.6 L165.2 5.0" stroke="#ea522c" stroke-width="0.9" stroke-opacity="0.75"/>
<path d="M138.2 189.4 L138.1 180.3 L137.9 173.2 L137.5 166.1 L137.1 158.9 L136.5 151.8 L135.8 144.7 L135.1 137.6 L134.2 130.5 L99.2 130.5 L98.7 117.1 L97.7 103.8 L96.5 90.5 L95.1 77.2 L93.4 63.9 L91.6 50.5 L89.7 37.2 L87.6 23.9 L165.0 23.9 L165.0 5.0" stroke="#e94b2b" stroke-width="0.9" stroke-opacity="0.75"/>
<path d="M134.9 189.4 L134.8 180.3 L134.5 173.2 L134.2 166.2 L133.7 159.1 L133.2 152.0 L132.5 144.9 L131.7 137.9 L130.9 130.8 L98.8 130.8 L98.4 117.7 L97.6 104.6 L96.6 91.5 L95.4 78.4 L94.1 65.3 L92.6 52.2 L91.0 39.1 L89.2 26.0 L165.4 26.0 L165.4 5.0" stroke="#f28a2e" stroke-width="0.9" stroke-opacity="0.6"/>
<path d="M126.8 189.4 L126.7 180.1 L126.4 172.9 L125.9 165.6 L125.4 158.3 L124.7 151.0 L123.8 143.8 L122.9 136.5 L121.8 129.2 L101.8 129.2 L101.4 116.0 L100.6 102.9 L99.5 89.7 L98.3 76.5 L96.9 63.3 L95.3 50.2 L93.7 37.0 L91.9 23.8 L165.4 23.8 L165.4 5.0" stroke="#e4322b" stroke-width="0.9" stroke-opacity="0.75"/>
<path d="M130.9 189.4 L130.7 180.3 L130.4 173.2 L129.9 166.2 L129.3 159.1 L128.5 152.0 L127.6 144.9 L126.6 137.8 L125.4 130.8 L98.5 130.8 L98.3 116.1 L97.8 101.4 L97.1 86.7 L96.4 72.1 L95.6 57.4 L94.6 42.7 L93.6 28.0 L92.5 13.4 L165.3 13.4 L165.3 5.0" stroke="#e94d2b" stroke-width="0.9" stroke-opacity="0.75"/>
<path d="M129.5 189.4 L129.4 180.1 L129.1 172.8 L128.8 165.5 L128.3 158.3 L127.7 151.0 L127.0 143.7 L126.3 136.4 L125.4 129.1 L96.2 129.1 L95.6 116.6 L94.6 104.0 L93.2 91.5 L91.5 79.0 L89.6 66.4 L87.5 53.9 L85.3 41.3 L82.9 28.8 L165.4 28.8 L165.4 5.0" stroke="#e94f2c" stroke-width="0.9" stroke-opacity="0.75"/>
<path d="M143.2 189.4 L143.2 180.0 L143.0 172.6 L142.8 165.2 L142.5 157.8 L142.2 150.4 L141.8 143.0 L141.3 135.6 L140.8 128.2 L98.0 128.2 L97.5 114.5 L96.7 100.8 L95.6 87.2 L94.3 73.5 L92.8 59.8 L91.2 46.1 L89.4 32.4 L87.5 18.8 L164.9 18.8 L164.9 5.0" stroke="#e5382b" stroke-width="0.9" stroke-opacity="0.75"/>
<path d="M135.5 189.4 L135.4 180.4 L135.2 173.3 L135.0 166.3 L134.6 159.3 L134.2 152.2 L133.8 145.2 L133.2 138.2 L132.6 131.1 L97.2 131.1 L96.7 117.6 L95.7 104.2 L94.5 90.7 L93.0 77.2 L91.3 63.7 L89.5 50.3 L87.4 36.8 L85.3 23.3 L165.2 23.3 L165.2 5.0" stroke="#e8482b" stroke-width="0.9" stroke-opacity="0.75"/>
<path d="M135.8 189.4 L135.7 180.2 L135.4 173.1 L135.1 165.9 L134.6 158.7 L134.1 151.6 L133.4 144.4 L132.6 137.2 L131.8 130.1 L99.8 130.1 L99.3 117.1 L98.4 104.1 L97.3 91.1 L95.9 78.1 L94.4 65.2 L92.7 52.2 L90.8 39.2 L88.8 26.2 L164.8 26.2 L164.8 5.0" stroke="#e7442b" stroke-width="0.9" stroke-opacity="0.75"/>
<path d="M125.2 189.4 L125.1 180.3 L124.9 173.3 L124.5 166.2 L124.0 159.2 L123.5 152.1 L122.8 145.1 L122.0 138.0 L121.2 131.0 L99.4 131.0 L98.9 116.7 L98.0 102.4 L96.8 88.2 L95.3 73.9 L93.7 59.6 L91.9 45.4 L90.0 31.1 L87.9 16.8 L164.9 16.8 L164.9 5.0" stroke="#e63e2b" stroke-width="0.9" stroke-opacity="0.75"/>
<path d="M135.2 189.4 L135.2 179.9 L134.9 172.5 L134.6 165.0 L134.1 157.6 L133.6 150.1 L133.0 142.6 L132.2 135.2 L131.4 127.7 L97.5 127.7 L96.9 114.8 L95.7 102.0 L94.2 89.1 L92.5 76.2 L90.5 63.4 L88.3 50.5 L85.9 37.6 L83.4 24.8 L164.9 24.8 L164.9 5.0" stroke="#e5362b" stroke-width="0.9" stroke-opacity="0.75"/>
<path d="M140.7 189.4 L140.6 180.2 L140.4 172.9 L140.0 165.7 L139.6 158.4 L139.0 151.2 L138.4 143.9 L137.6 136.7 L136.8 129.5 L97.1 129.5 L96.9 115.1 L96.3 100.7 L95.7 86.3 L94.9 72.0 L94.0 57.6 L93.0 43.2 L91.9 28.8 L90.8 14.5 L165.1 14.5 L165.1 5.0" stroke="#e8472b" stroke-width="0.9" stroke-opacity="0.75"/>
<path d="M143.9 189.4 L143.8 180.4 L143.6 173.4 L143.4 166.4 L143.0 159.4 L142.6 152.5 L142.1 145.5 L141.5 138.5 L140.9 131.5 L101.9 131.5 L101.4 117.4 L100.6 103.4 L99.6 89.3 L98.4 75.3 L97.0 61.2 L95.5 47.2 L93.8 33.1 L92.0 19.1 L164.9 19.1 L164.9 5.0" stroke="#f1852e" stroke-width="0.9" stroke-opacity="0.6"/>
<path d="M139.2 189.4 L139.1 180.2 L138.9 173.0 L138.5 165.8 L138.1 158.5 L137.6 151.3 L136.9 144.1 L136.2 136.9 L135.4 129.7 L102.0 129.7 L101.6 117.2 L100.7 104.7 L99.6 92.2 L98.3 79.6 L96.8 67.1 L95.2 54.6 L93.4 42.1 L91.5 29.6 L164.7 29.6 L164.7 5.0" stroke="#ef702c" stroke-width="0.9" stroke-opacity="0.6"/>
<path d="M133.6 189.4 L133.5 180.5 L133.3 173.7 L132.9 166.8 L132.5 159.9 L132.0 153.1 L131.3 146.2 L130.6 139.3 L129.8 132.5 L97.0 132.5 L96.5 119.4 L95.6 106.4 L94.3 93.4 L92.9 80.4 L91.3 67.4 L89.4 54.4 L87.5 41.4 L85.3 28.4 L164.8 28.4 L164.8 5.0" stroke="#e84a2b" stroke-width="0.9" stroke-opacity="0.75"/>
<path d="M132.8 189.4 L132.7 180.0 L132.5 172.6 L132.1 165.2 L131.7 157.8 L131.2 150.4 L130.5 143.0 L129.8 135.7 L129.0 128.3 L99.8 128.3 L99.3 115.6 L98.4 103.0 L97.2 90.3 L95.8 77.7 L94.2 65.0 L92.5 52.3 L90.6 39.7 L88.6 27.0 L164.7 27.0 L164.7 5.0" stroke="#e63e2b" stroke-width="0.9" stroke-opacity="0.75"/>
<path d="M141.8 189.4 L141.7 180.0 L141.6 172.6 L141.3 165.2 L141.0 157.8 L140.5 150.4 L140.1 143.0 L139.5 135.6 L138.9 128.2 L99.3 128.2 L98.9 114.0 L98.2 99.8 L97.2 85.6 L96.1 71.4 L94.9 57.2 L93.5 43.0 L92.1 28.8 L90.5 14.7 L164.9 14.7 L164.9 5.0" stroke="#e94e2c" stroke-width="0.9" stroke-opacity="0.75"/>
<path d="M137.6 189.4 L137.5 179.9 L137.4 172.4 L137.1 165.0 L136.7 157.5 L136.3 150.0 L135.7 142.5 L135.1 135.1 L134.5 127.6 L96.2 127.6 L96.0 113.4 L95.7 99.1 L95.2 84.9 L94.7 70.7 L94.1 56.4 L93.5 42.2 L92.7 27.9 L92.0 13.7 L164.9 13.7 L164.9 5.0" stroke="#e94c2b" stroke-width="0.9" stroke-opacity="0.75"/>
<path d="M130.5 189.4 L130.4 180.1 L130.3 172.8 L130.0 165.5 L129.7 158.2 L129.3 151.0 L128.8 143.7 L128.3 136.4 L127.7 129.1 L97.5 129.1 L97.0 115.4 L96.1 101.8 L94.9 88.1 L93.5 74.5 L91.9 60.8 L90.1 47.1 L88.2 33.5 L86.1 19.8 L165.0 19.8 L165.0 5.0" stroke="#ea532c" stroke-width="0.9" stroke-opacity="0.75"/>
<path d="M128.0 189.4 L127.9 180.0 L127.7 172.5 L127.3 165.1 L126.9 157.6 L126.3 150.2 L125.7 142.7 L124.9 135.3 L124.1 127.8 L100.0 127.8 L99.5 115.4 L98.6 103.0 L97.5 90.6 L96.1 78.2 L94.6 65.7 L92.9 53.3 L91.0 40.9 L89.0 28.5 L164.8 28.5 L164.8 5.0" stroke="#e7432b" stroke-width="0.9" stroke-opacity="0.75"/>
<path d="M139.0 189.4 L138.9 180.5 L138.7 173.7 L138.4 166.8 L137.9 159.9 L137.4 153.1 L136.7 146.2 L136.0 139.3 L135.2 132.5 L96.2 132.5 L96.1 117.5 L95.9 102.5 L95.6 87.6 L95.2 72.6 L94.8 57.7 L94.4 42.7 L93.9 27.8 L93.4 12.8 L164.7 12.8 L164.7 5.0" stroke="#eb562c" stroke-width="0.9" stroke-opacity="0.75"/>
<path d="M129.5 189.4 L129.4 180.2 L129.2 172.9 L128.9 165.7 L128.5 158.4 L128.1 151.2 L127.5 143.9 L126.9 136.7 L126.2 129.4 L98.2 129.4 L97.8 115.2 L97.0 101.0 L96.0 86.8 L94.8 72.6 L93.5 58.4 L92.0 44.2 L90.4 30.0 L88.7 15.8 L164.7 15.8 L164.7 5.0" stroke="#e4322b" stroke-width="0.9" stroke-opacity="0.75"/>
<path d="M128.2 189.4 L128.1 180.0 L127.9 172.7 L127.5 165.3 L127.0 157.9 L126.4 150.5 L125.7 143.2 L124.9 135.8 L124.0 128.4 L99.4 128.4 L98.8 115.5 L97.9 102.6 L96.7 89.7 L95.3 76.8 L93.6 63.8 L91.8 50.9 L89.9 38.0 L87.8 25.1 L164.7 25.1 L164.7 5.0" stroke="#e94e2c" stroke-width="0.9" stroke-opacity="0.75"/>
<path d="M139.6 189.4 L139.5 180.2 L139.2 173.0 L138.9 165.8 L138.4 158.6 L137.8 151.4 L137.0 144.2 L136.2 137.0 L135.3 129.8 L96.5 129.8 L95.8 116.3 L94.7 102.7 L93.2 89.1 L91.4 75.5 L89.4 62.0 L87.1 48.4 L84.7 34.8 L82.1 21.2 L165.0 21.2 L165.0 5.0" stroke="#e63f2b" stroke-width="0.9" stroke-opacity="0.75"/>
<path d="M127.3 189.4 L127.2 180.0 L126.9 172.6 L126.5 165.2 L126.0 157.9 L125.3 150.5 L124.5 143.1 L123.6 135.7 L122.6 128.3 L100.1 128.3 L99.7 115.7 L98.9 103.1 L97.9 90.5 L96.6 77.9 L95.3 65.2 L93.7 52.6 L92.1 40.0 L90.3 27.4 L165.4 27.4 L165.4 5.0" stroke="#ea512c" stroke-width="0.9" stroke-opacity="0.75"/>
<path d="M127.8 189.4 L127.7 180.0 L127.5 172.6 L127.2 165.2 L126.8 157.8 L126.3 150.4 L125.7 142.9 L125.0 135.5 L124.3 128.1 L101.0 128.1 L100.5 114.3 L99.6 100.5 L98.4 86.7 L97.0 72.9 L95.4 59.1 L93.6 45.2 L91.7 31.4 L89.7 17.6 L164.8 17.6 L164.8 5.0" stroke="#e4312b" stroke-width="0.9" stroke-opacity="0.75"/>
<path d="M129.6 189.4 L129.5 180.4 L129.2 173.4 L128.8 166.4 L128.2 159.4 L127.4 152.4 L126.6 145.4 L125.6 138.4 L124.5 131.3 L102.3 131.3 L101.9 117.1 L101.2 102.8 L100.2 88.6 L99.1 74.3 L97.8 60.1 L96.4 45.8 L94.8 31.6 L93.2 17.3 L165.2 17.3 L165.2 5.0" stroke="#f5a330" stroke-width="0.9" stroke-opacity="0.6"/>
<path d="M129.3 189.4 L129.2 180.3 L129.0 173.3 L128.6 166.2 L128.1 159.1 L127.5 152.0 L126.8 145.0 L126.0 137.9 L125.1 130.8 L98.4 130.8 L97.9 117.4 L97.0 104.1 L95.7 90.7 L94.3 77.3 L92.6 63.9 L90.8 50.5 L88.8 37.1 L86.7 23.7 L164.7 23.7 L164.7 5.0" stroke="#e5392b" stroke-width="0.9" stroke-opacity="0.75"/>
<path d="M136.1 189.4 L136.0 180.5 L135.8 173.7 L135.4 166.8 L135.0 159.9 L134.4 153.0 L133.8 146.2 L133.0 139.3 L132.2 132.4 L101.5 132.4 L101.0 117.8 L100.0 103.2 L98.8 88.6 L97.3 74.1 L95.6 59.5 L93.8 44.9 L91.8 30.3 L89.6 15.7 L164.8 15.7 L164.8 5.0" stroke="#ea552c" stroke-width="0.9" stroke-opacity="0.75"/>
<path d="M136.9 189.4 L136.8 180.2 L136.6 173.1 L136.2 165.9 L135.7 158.8 L135.2 151.6 L134.5 144.5 L133.7 137.3 L132.9 130.1 L100.9 130.1 L100.4 116.7 L99.4 103.2 L98.2 89.7 L96.7 76.2 L95.0 62.8 L93.1 49.3 L91.1 35.8 L88.9 22.3 L164.8 22.3 L164.8 5.0" stroke="#e8492b" stroke-width="0.9" stroke-opacity="0.75"/>
<path d="M127.5 189.4 L127.4 180.4 L127.1 173.5 L126.7 166.5 L126.1 159.6 L125.4 152.6 L124.6 145.7 L123.7 138.7 L122.7 131.7 L97.6 131.7 L97.0 117.8 L96.1 104.0 L94.9 90.1 L93.4 76.2 L91.8 62.3 L90.0 48.4 L88.0 34.5 L85.9 20.6 L164.8 20.6 L164.8 5.0" stroke="#e63c2b" stroke-width="0.9" stroke-opacity="0.75"/>
<path d="M127.8 189.4 L127.6 180.1 L127.3 172.8 L126.8 165.5 L126.1 158.1 L125.3 150.8 L124.4 143.5 L123.3 136.2 L122.1 128.9 L98.6 128.9 L98.2 114.6 L97.5 100.4 L96.6 86.2 L95.5 72.0 L94.3 57.7 L92.9 43.5 L91.4 29.3 L89.9 15.0 L164.9 15.0 L164.9 5.0" stroke="#e94c2b" stroke-width="0.9" stroke-opacity="0.75"/>
<path d="M125.6 189.4 L125.5 180.1 L125.3 172.8 L124.9 165.5 L124.3 158.2 L123.7 150.9 L122.9 143.6 L122.1 136.3 L121.1 129.0 L98.3 129.0 L97.8 116.0 L96.8 103.0 L95.6 90.0 L94.1 77.0 L92.4 64.0 L90.6 51.0 L88.6 37.9 L86.4 24.9 L165.2 24.9 L165.2 5.0" stroke="#e94c2b" stroke-width="0.9" stroke-opacity="0.75"/>
<path d="M138.5 189.4 L138.4 180.1 L138.2 172.9 L137.9 165.6 L137.5 158.3 L137.0 151.1 L136.4 143.8 L135.7 136.5 L135.0 129.3 L101.3 129.3 L100.9 114.9 L100.1 100.5 L99.2 86.1 L98.0 71.7 L96.7 57.3 L95.2 42.9 L93.6 28.5 L91.9 14.1 L164.7 14.1 L164.7 5.0" stroke="#e4322b" stroke-width="0.9" stroke-opacity="0.75"/>
<path d="M130.3 189.4 L130.2 180.4 L129.9 173.4 L129.6 166.4 L129.1 159.3 L128.6 152.3 L127.9 145.3 L127.1 138.3 L126.3 131.3 L99.6 131.3 L99.1 118.5 L98.3 105.7 L97.1 92.8 L95.7 80.0 L94.2 67.2 L92.5 54.4 L90.6 41.6 L88.6 28.8 L164.8 28.8 L164.8 5.0" stroke="#e5372b" stroke-width="0.9" stroke-opacity="0.75"/>
<path d="M145.5 189.4 L145.4 180.2 L145.2 173.0 L144.8 165.8 L144.4 158.6 L143.8 151.4 L143.2 144.2 L142.4 137.0 L141.6 129.8 L97.1 129.8 L96.9 115.2 L96.6 100.7 L96.1 86.1 L95.6 71.5 L95.0 56.9 L94.4 42.3 L93.6 27.7 L92.9 13.1 L165.3 13.1 L165.3 5.0" stroke="#e5342b" stroke-width="0.9" stroke-opacity="0.75"/>
<path d="M129.4 189.4 L129.3 180.4 L129.0 173.5 L128.6 166.5 L128.1 159.5 L127.5 152.6 L126.7 145.6 L125.9 138.6 L124.9 131.6 L101.7 131.6 L101.3 118.1 L100.4 104.5 L99.4 90.9 L98.1 77.4 L96.6 63.8 L95.0 50.3 L93.3 36.7 L91.4 23.1 L164.6 23.1 L164.6 5.0" stroke="#e5382b" stroke-width="0.9" stroke-opacity="0.75"/>
<path d="M127.5 189.4 L127.4 180.4 L127.1 173.4 L126.7 166.4 L126.1 159.3 L125.5 152.3 L124.7 145.3 L123.8 138.3 L122.8 131.3 L100.4 131.3 L99.9 118.2 L99.2 105.1 L98.1 92.0 L96.9 78.9 L95.5 65.8 L94.0 52.8 L92.4 39.7 L90.6 26.6 L164.6 26.6 L164.6 5.0" stroke="#e7442b" stroke-width="0.9" stroke-opacity="0.75"/>
<path d="M127.3 189.4 L127.2 180.4 L127.0 173.5 L126.7 166.5 L126.2 159.5 L125.7 152.5 L125.0 145.6 L124.3 138.6 L123.5 131.6 L97.9 131.6 L97.4 118.0 L96.4 104.4 L95.2 90.7 L93.7 77.1 L92.0 63.5 L90.2 49.8 L88.2 36.2 L86.0 22.6 L164.7 22.6 L164.7 5.0" stroke="#e7402b" stroke-width="0.9" stroke-opacity="0.75"/>
<path d="M143.9 189.4 L143.8 180.0 L143.6 172.7 L143.3 165.3 L142.9 158.0 L142.5 150.6 L142.0 143.3 L141.4 135.9 L140.7 128.6 L96.1 128.6 L95.5 115.8 L94.5 103.0 L93.1 90.2 L91.5 77.4 L89.7 64.6 L87.7 51.8 L85.5 39.0 L83.2 26.2 L165.3 26.2 L165.3 5.0" stroke="#e5372b" stroke-width="0.9" stroke-opacity="0.75"/>
<path d="M143.5 189.4 L143.4 180.5 L143.2 173.6 L142.9 166.7 L142.4 159.8 L141.9 152.9 L141.4 146.0 L140.7 139.1 L139.9 132.2 L95.3 132.2 L94.6 118.3 L93.4 104.5 L91.9 90.6 L90.0 76.8 L88.0 62.9 L85.7 49.1 L83.2 35.2 L80.5 21.4 L164.8 21.4 L164.8 5.0" stroke="#ea542c" stroke-width="0.9" stroke-opacity="0.75"/>
<path d="M138.0 189.4 L137.9 180.5 L137.7 173.6 L137.3 166.7 L136.9 159.8 L136.3 152.9 L135.6 146.0 L134.9 139.1 L134.0 132.2 L97.5 132.2 L97.1 119.4 L96.2 106.5 L95.0 93.6 L93.7 80.7 L92.2 67.8 L90.5 55.0 L88.7 42.1 L86.7 29.2 L165.1 29.2 L165.1 5.0" stroke="#e94f2c" stroke-width="0.9" stroke-opacity="0.75"/>
<path d="M135.1 189.4 L135.0 180.4 L134.7 173.4 L134.4 166.3 L133.8 159.3 L133.2 152.3 L132.5 145.3 L131.6 138.2 L130.7 131.2 L100.3 131.2 L99.8 117.3 L99.0 103.5 L98.0 89.6 L96.7 75.8 L95.2 61.9 L93.7 48.1 L91.9 34.2 L90.1 20.4 L165.3 20.4 L165.3 5.0" stroke="#ea552c" stroke-width="0.9" stroke-opacity="0.75"/>
<path d="M127.5 189.4 L127.4 180.0 L127.2 172.5 L126.9 165.1 L126.5 157.6 L126.0 150.2 L125.4 142.7 L124.7 135.3 L123.9 127.8 L99.0 127.8 L98.5 114.8 L97.5 101.8 L96.2 88.8 L94.7 75.7 L92.9 62.7 L91.0 49.7 L89.0 36.7 L86.8 23.7 L165.1 23.7 L165.1 5.0" stroke="#f0792d" stroke-width="0.9" stroke-opacity="0.6"/>
<path d="M141.1 189.4 L141.0 180.0 L140.7 172.6 L140.3 165.2 L139.8 157.8 L139.2 150.4 L138.5 143.0 L137.7 135.7 L136.8 128.3 L96.6 128.3 L96.1 115.7 L95.1 103.1 L93.7 90.5 L92.2 77.9 L90.4 65.3 L88.4 52.7 L86.3 40.1 L84.0 27.6 L165.1 27.6 L165.1 5.0" stroke="#e4322b" stroke-width="0.9" stroke-opacity="0.75"/>
<path d="M143.6 189.4 L143.5 180.3 L143.3 173.2 L143.0 166.1 L142.6 159.0 L142.1 151.9 L141.5 144.7 L140.9 137.6 L140.1 130.5 L99.9 130.5 L99.4 116.6 L98.4 102.6 L97.2 88.6 L95.8 74.7 L94.2 60.7 L92.4 46.8 L90.5 32.8 L88.4 18.8 L165.4 18.8 L165.4 5.0" stroke="#e63d2b" stroke-width="0.9" stroke-opacity="0.75"/>
<path d="M138.8 189.4 L138.7 180.0 L138.4 172.5 L138.0 165.1 L137.5 157.7 L136.9 150.3 L136.2 142.8 L135.4 135.4 L134.4 128.0 L98.3 128.0 L97.8 114.8 L96.9 101.7 L95.8 88.5 L94.4 75.4 L92.9 62.2 L91.2 49.1 L89.4 35.9 L87.5 22.8 L165.5 22.8 L165.5 5.0" stroke="#e94f2c" stroke-width="0.9" stroke-opacity="0.75"/>
<path d="M134.4 189.4 L134.3 180.4 L134.1 173.5 L133.9 166.5 L133.5 159.6 L133.0 152.6 L132.4 145.7 L131.8 138.7 L131.1 131.8 L99.5 131.8 L99.0 117.8 L98.1 103.9 L97.0 90.0 L95.6 76.1 L94.1 62.1 L92.4 48.2 L90.6 34.3 L88.6 20.4 L164.5 20.4 L164.5 5.0" stroke="#e63e2b" stroke-width="0.9" stroke-opacity="0.75"/>
<path d="M145.4 189.4 L145.3 180.3 L145.2 173.2 L145.0 166.0 L144.7 158.9 L144.4 151.8 L144.0 144.7 L143.6 137.6 L143.1 130.5 L99.2 130.5 L98.7 117.1 L97.9 103.6 L96.8 90.2 L95.5 76.8 L94.0 63.4 L92.4 50.0 L90.6 36.6 L88.7 23.2 L164.9 23.2 L164.9 5.0" stroke="#e8472b" stroke-width="0.9" stroke-opacity="0.75"/>
<path d="M132.9 189.4 L132.8 180.4 L132.6 173.5 L132.3 166.5 L131.8 159.5 L131.3 152.6 L130.7 145.6 L130.0 138.6 L129.2 131.7 L98.1 131.7 L97.4 118.8 L96.3 106.0 L94.9 93.2 L93.2 80.3 L91.3 67.5 L89.2 54.7 L86.9 41.8 L84.4 29.0 L164.8 29.0 L164.8 5.0" stroke="#e63b2b" stroke-width="0.9" stroke-opacity="0.75"/>
<path d="M142.9 189.4 L142.8 180.0 L142.5 172.6 L142.2 165.2 L141.7 157.8 L141.2 150.4 L140.5 143.0 L139.8 135.6 L138.9 128.2 L102.3 128.2 L101.9 115.6 L101.1 102.9 L100.1 90.3 L98.9 77.7 L97.6 65.0 L96.1 52.4 L94.5 39.8 L92.7 27.1 L164.6 27.1 L164.6 5.0" stroke="#e63a2b" stroke-width="0.9" stroke-opacity="0.75"/>
<path d="M136.9 189.4 L136.8 180.1 L136.6 172.8 L136.3 165.5 L135.8 158.3 L135.2 151.0 L134.6 143.7 L133.8 136.4 L133.0 129.1 L102.4 129.1 L102.0 116.0 L101.1 102.8 L99.9 89.6 L98.6 76.5 L97.0 63.3 L95.3 50.2 L93.5 37.0 L91.5 23.9 L164.6 23.9 L164.6 5.0" stroke="#f1802e" stroke-width="0.9" stroke-opacity="0.6"/>
<path d="M129.9 189.4 L129.8 180.3 L129.6 173.3 L129.2 166.2 L128.8 159.1 L128.3 152.1 L127.8 145.0 L127.1 137.9 L126.3 130.8 L97.1 130.8 L96.6 117.6 L95.6 104.3 L94.4 91.0 L93.0 77.7 L91.4 64.4 L89.6 51.2 L87.6 37.9 L85.5 24.6 L165.2 24.6 L165.2 5.0" stroke="#e63e2b" stroke-width="0.9" stroke-opacity="0.75"/>
<path d="M141.9 189.4 L141.8 180.2 L141.6 173.1 L141.3 165.9 L140.9 158.7 L140.4 151.5 L139.8 144.4 L139.1 137.2 L138.4 130.0 L100.9 130.0 L100.4 117.2 L99.6 104.5 L98.4 91.7 L97.1 78.9 L95.5 66.1 L93.8 53.3 L92.0 40.5 L90.0 27.7 L164.6 27.7 L164.6 5.0" stroke="#e63b2b" stroke-width="0.9" stroke-opacity="0.75"/>
<path d="M131.2 189.4 L131.1 180.2 L130.9 172.9 L130.5 165.7 L130.1 158.4 L129.5 151.2 L128.9 143.9 L128.1 136.7 L127.3 129.5 L98.9 129.5 L98.7 114.8 L98.3 100.2 L97.8 85.5 L97.2 70.9 L96.6 56.3 L95.8 41.6 L95.0 27.0 L94.2 12.3 L165.4 12.3 L165.4 5.0" stroke="#e63a2b" stroke-width="0.9" stroke-opacity="0.75"/>
<path d="M129.4 189.4 L129.2 179.9 L128.9 172.4 L128.5 164.9 L127.9 157.5 L127.2 150.0 L126.3 142.5 L125.4 135.0 L124.3 127.5 L95.8 127.5 L95.2 114.5 L94.1 101.4 L92.7 88.4 L91.0 75.3 L89.1 62.3 L87.1 49.3 L84.8 36.2 L82.4 23.2 L164.7 23.2 L164.7 5.0" stroke="#ea552c" stroke-width="0.9" stroke-opacity="0.75"/>
<path d="M125.3 189.4 L125.2 180.5 L125.0 173.6 L124.6 166.7 L124.1 159.7 L123.4 152.8 L122.7 145.9 L121.9 139.0 L120.9 132.1 L102.0 132.1 L101.6 119.2 L100.7 106.4 L99.7 93.5 L98.4 80.7 L97.0 67.8 L95.4 55.0 L93.6 42.1 L91.8 29.3 L164.9 29.3 L164.9 5.0" stroke="#e63a2b" stroke-width="0.9" stroke-opacity="0.75"/>
<path d="M131.9 189.4 L131.8 180.5 L131.5 173.6 L131.1 166.7 L130.5 159.8 L129.8 152.9 L129.0 146.0 L128.1 139.2 L127.0 132.3 L99.3 132.3 L98.8 119.0 L97.8 105.8 L96.6 92.5 L95.2 79.3 L93.6 66.1 L91.8 52.8 L89.8 39.6 L87.7 26.3 L164.6 26.3 L164.6 5.0" stroke="#f28b2e" stroke-width="0.9" stroke-opacity="0.6"/>
<path d="M135.2 189.4 L135.1 180.2 L134.9 172.9 L134.5 165.7 L134.0 158.5 L133.4 151.3 L132.6 144.0 L131.8 136.8 L130.9 129.6 L102.4 129.6 L102.0 116.4 L101.1 103.3 L100.0 90.1 L98.7 77.0 L97.3 63.8 L95.6 50.6 L93.9 37.5 L92.0 24.3 L164.8 24.3 L164.8 5.0" stroke="#ea532c" stroke-width="0.9" stroke-opacity="0.75"/>
<path d="M134.5 189.4 L134.4 180.3 L134.2 173.2 L133.8 166.1 L133.4 158.9 L132.8 151.8 L132.2 144.7 L131.4 137.6 L130.6 130.5 L100.1 130.5 L99.6 117.4 L98.8 104.4 L97.8 91.3 L96.6 78.3 L95.2 65.2 L93.7 52.2 L92.0 39.1 L90.2 26.1 L165.0 26.1 L165.0 5.0" stroke="#f1842e" stroke-width="0.9" stroke-opacity="0.6"/>
<path d="M143.4 189.4 L143.3 180.3 L143.1 173.2 L142.8 166.0 L142.5 158.9 L142.0 151.8 L141.5 144.7 L140.9 137.6 L140.3 130.5 L96.5 130.5 L96.0 116.3 L95.2 102.1 L94.2 87.9 L93.0 73.8 L91.6 59.6 L90.0 45.4 L88.4 31.3 L86.6 17.1 L165.0 17.1 L165.0 5.0" stroke="#e94b2b" stroke-width="0.9" stroke-opacity="0.75"/>
<path d="M142.0 189.4 L142.0 180.3 L141.8 173.2 L141.5 166.1 L141.2 159.0 L140.8 151.9 L140.3 144.8 L139.7 137.6 L139.1 130.5 L100.1 130.5 L99.7 117.6 L98.9 104.7 L98.0 91.8 L96.9 78.8 L95.6 65.9 L94.2 53.0 L92.6 40.0 L91.0 27.1 L164.6 27.1 L164.6 5.0" stroke="#ea552c" stroke-width="0.9" stroke-opacity="0.75"/>
<path d="M124.8 189.4 L124.7 180.3 L124.5 173.3 L124.1 166.2 L123.6 159.2 L123.0 152.1 L122.3 145.1 L121.5 138.0 L120.6 131.0 L99.1 131.0 L98.7 118.1 L98.1 105.2 L97.2 92.2 L96.1 79.3 L94.9 66.4 L93.6 53.5 L92.1 40.6 L90.6 27.7 L165.4 27.7 L165.4 5.0" stroke="#e7422b" stroke-width="0.9" stroke-opacity="0.75"/>
<path d="M137.6 189.4 L137.5 180.1 L137.2 172.8 L136.8 165.5 L136.2 158.2 L135.5 150.9 L134.7 143.6 L133.8 136.2 L132.8 128.9 L102.2 128.9 L101.8 115.9 L101.0 102.9 L100.0 89.9 L98.8 76.9 L97.5 63.9 L96.0 50.9 L94.4 37.9 L92.7 24.9 L165.2 24.9 L165.2 5.0" stroke="#e4322b" stroke-width="0.9" stroke-opacity="0.75"/>
<path d="M133.7 189.4 L133.5 180.0 L133.2 172.6 L132.8 165.2 L132.2 157.9 L131.5 150.5 L130.6 143.1 L129.7 135.7 L128.6 128.3 L97.9 128.3 L97.4 115.7 L96.5 103.1 L95.3 90.4 L93.9 77.8 L92.3 65.2 L90.5 52.6 L88.6 40.0 L86.5 27.3 L165.2 27.3 L165.2 5.0" stroke="#e4342b" stroke-width="0.9" stroke-opacity="0.75"/>
<path d="M139.1 189.4 L139.1 180.4 L139.0 173.3 L138.8 166.3 L138.6 159.2 L138.3 152.2 L137.9 145.1 L137.6 138.1 L137.1 131.1 L96.5 131.1 L96.3 116.3 L96.0 101.6 L95.6 86.9 L95.1 72.2 L94.5 57.5 L93.9 42.8 L93.2 28.1 L92.5 13.4 L164.5 13.4 L164.5 5.0" stroke="#e84a2b" stroke-width="0.9" stroke-opacity="0.75"/>
<path d="M129.7 189.4 L129.6 180.1 L129.3 172.8 L129.0 165.4 L128.5 158.1 L128.0 150.8 L127.3 143.5 L126.6 136.2 L125.8 128.9 L100.8 128.9 L100.3 114.6 L99.5 100.3 L98.4 86.0 L97.2 71.7 L95.8 57.4 L94.2 43.1 L92.5 28.8 L90.7 14.5 L164.7 14.5 L164.7 5.0" stroke="#e4322b" stroke-width="0.9" stroke-opacity="0.75"/>
<path d="M130.2 189.4 L130.1 180.5 L129.9 173.6 L129.5 166.7 L129.0 159.9 L128.4 153.0 L127.7 146.1 L126.9 139.2 L126.0 132.3 L102.6 132.3 L102.2 117.9 L101.4 103.6 L100.3 89.2 L99.0 74.8 L97.6 60.4 L96.0 46.0 L94.2 31.6 L92.4 17.2 L165.1 17.2 L165.1 5.0" stroke="#ea532c" stroke-width="0.9" stroke-opacity="0.75"/>
<path d="M133.4 189.4 L133.3 180.1 L133.0 172.7 L132.5 165.4 L132.0 158.0 L131.2 150.7 L130.4 143.3 L129.5 136.0 L128.4 128.6 L99.3 128.6 L98.8 116.1 L98.0 103.5 L96.9 90.9 L95.6 78.3 L94.1 65.8 L92.5 53.2 L90.7 40.6 L88.8 28.0 L164.8 28.0 L164.8 5.0" stroke="#ea542c" stroke-width="0.9" stroke-opacity="0.75"/>
<path d="M136.7 189.4 L136.6 180.5 L136.4 173.6 L136.0 166.8 L135.6 159.9 L135.0 153.0 L134.4 146.1 L133.6 139.3 L132.8 132.4 L99.6 132.4 L99.1 117.8 L98.3 103.3 L97.2 88.7 L95.9 74.2 L94.5 59.7 L92.9 45.1 L91.1 30.6 L89.3 16.0 L165.0 16.0 L165.0 5.0" stroke="#e7422b" stroke-width="0.9" stroke-opacity="0.75"/>
<path d="M133.0 189.4 L133.0 180.2 L132.8 172.9 L132.6 165.7 L132.2 158.5 L131.8 151.2 L131.4 144.0 L130.8 136.8 L130.2 129.5 L100.0 129.5 L99.5 115.9 L98.6 102.3 L97.4 88.6 L96.1 75.0 L94.5 61.3 L92.8 47.7 L91.0 34.0 L89.0 20.4 L165.0 20.4 L165.0 5.0" stroke="#e5372b" stroke-width="0.9" stroke-opacity="0.75"/>
<path d="M144.4 189.4 L144.3 180.4 L144.1 173.4 L143.8 166.4 L143.4 159.4 L142.8 152.4 L142.2 145.4 L141.6 138.4 L140.8 131.3 L99.4 131.3 L98.9 118.6 L98.0 105.8 L96.7 93.1 L95.3 80.3 L93.6 67.5 L91.8 54.8 L89.9 42.0 L87.7 29.2 L165.1 29.2 L165.1 5.0" stroke="#e7412b" stroke-width="0.9" stroke-opacity="0.75"/>
<path d="M129.6 189.4 L129.5 180.4 L129.3 173.3 L129.0 166.3 L128.5 159.3 L128.0 152.2 L127.3 145.2 L126.6 138.2 L125.8 131.2 L98.2 131.2 L97.9 116.5 L97.4 101.8 L96.7 87.1 L96.0 72.5 L95.1 57.8 L94.1 43.1 L93.0 28.4 L91.9 13.8 L164.6 13.8 L164.6 5.0" stroke="#ed632c" stroke-width="0.9" stroke-opacity="0.6"/>
<path d="M143.8 189.4 L143.7 180.0 L143.6 172.6 L143.4 165.2 L143.2 157.7 L142.9 150.3 L142.6 142.9 L142.2 135.5 L141.7 128.1 L95.3 128.1 L94.8 115.0 L93.7 102.0 L92.4 88.9 L90.8 75.9 L89.0 62.9 L87.0 49.8 L84.8 36.8 L82.4 23.7 L164.8 23.7 L164.8 5.0" stroke="#ea502c" stroke-width="0.9" stroke-opacity="0.75"/>
<path d="M135.8 189.4 L135.7 180.0 L135.6 172.6 L135.4 165.2 L135.1 157.7 L134.8 150.3 L134.5 142.9 L134.1 135.5 L133.6 128.1 L99.9 128.1 L99.5 113.9 L98.8 99.6 L97.9 85.4 L96.9 71.1 L95.6 56.9 L94.3 42.6 L92.8 28.4 L91.2 14.2 L164.7 14.2 L164.7 5.0" stroke="#e63c2b" stroke-width="0.9" stroke-opacity="0.75"/>
<path d="M126.8 189.4 L126.7 180.1 L126.4 172.7 L126.0 165.4 L125.4 158.0 L124.8 150.7 L124.0 143.3 L123.1 136.0 L122.1 128.6 L101.0 128.6 L100.5 114.5 L99.6 100.4 L98.4 86.3 L96.9 72.2 L95.3 58.1 L93.5 43.9 L91.6 29.8 L89.5 15.7 L165.3 15.7 L165.3 5.0" stroke="#ea512c" stroke-width="0.9" stroke-opacity="0.75"/>
<path d="M131.1 189.4 L131.0 180.1 L130.8 172.8 L130.4 165.4 L129.9 158.1 L129.3 150.8 L128.6 143.5 L127.8 136.1 L126.9 128.8 L100.0 128.8 L99.5 115.1 L98.6 101.5 L97.5 87.8 L96.1 74.2 L94.6 60.5 L92.9 46.8 L91.0 33.2 L89.0 19.5 L165.3 19.5 L165.3 5.0" stroke="#ea532c" stroke-width="0.9" stroke-opacity="0.75"/>
<path d="M139.7 189.4 L139.6 180.1 L139.4 172.9 L139.1 165.6 L138.8 158.4 L138.4 151.1 L137.9 143.9 L137.3 136.6 L136.6 129.4 L99.3 129.4 L98.9 114.9 L98.3 100.5 L97.5 86.1 L96.5 71.7 L95.4 57.3 L94.2 42.9 L92.9 28.5 L91.4 14.0 L165.2 14.0 L165.2 5.0" stroke="#e8472b" stroke-width="0.9" stroke-opacity="0.75"/>
<path d="M134.2 189.4 L134.1 180.1 L133.9 172.7 L133.5 165.4 L133.0 158.0 L132.3 150.7 L131.6 143.3 L130.8 136.0 L129.8 128.6 L97.9 128.6 L97.4 116.0 L96.3 103.4 L95.0 90.8 L93.4 78.2 L91.6 65.5 L89.7 52.9 L87.5 40.3 L85.2 27.7 L165.0 27.7 L165.0 5.0" stroke="#ea532c" stroke-width="0.9" stroke-opacity="0.75"/>
<path d="M131.6 189.4 L131.5 179.9 L131.4 172.5 L131.1 165.0 L130.8 157.5 L130.4 150.0 L129.9 142.6 L129.4 135.1 L128.8 127.6 L101.3 127.6 L100.8 114.0 L100.0 100.5 L99.0 86.9 L97.8 73.3 L96.4 59.7 L94.8 46.2 L93.2 32.6 L91.4 19.0 L164.9 19.0 L164.9 5.0" stroke="#ea542c" stroke-width="0.9" stroke-opacity="0.75"/>
<path d="M144.1 189.4 L144.0 180.0 L143.8 172.7 L143.6 165.3 L143.3 157.9 L142.9 150.5 L142.4 143.2 L141.9 135.8 L141.3 128.4 L99.1 128.4 L98.7 114.2 L98.0 100.1 L97.0 85.9 L95.8 71.7 L94.5 57.5 L93.1 43.4 L91.6 29.2 L89.9 15.0 L165.4 15.0 L165.4 5.0" stroke="#e63a2b" stroke-width="0.9" stroke-opacity="0.75"/>
<path d="M128.5 189.4 L128.4 180.2 L128.1 173.0 L127.7 165.8 L127.2 158.6 L126.6 151.4 L125.8 144.2 L125.0 137.0 L124.0 129.8 L95.7 129.8 L95.6 115.3 L95.2 100.8 L94.9 86.3 L94.4 71.8 L93.9 57.3 L93.3 42.7 L92.7 28.2 L92.0 13.7 L165.3 13.7 L165.3 5.0" stroke="#e63c2b" stroke-width="0.9" stroke-opacity="0.75"/>
<path d="M137.3 189.4 L137.2 180.3 L136.9 173.3 L136.5 166.2 L135.9 159.1 L135.3 152.0 L134.4 145.0 L133.5 137.9 L132.5 130.8 L98.8 130.8 L98.4 118.0 L97.6 105.1 L96.5 92.3 L95.2 79.4 L93.8 66.6 L92.2 53.7 L90.5 40.9 L88.7 28.0 L164.5 28.0 L164.5 5.0" stroke="#e94f2c" stroke-width="0.9" stroke-opacity="0.75"/>
<path d="M132.4 189.4 L132.3 180.0 L132.1 172.6 L131.7 165.2 L131.2 157.8 L130.6 150.3 L129.8 142.9 L129.0 135.5 L128.1 128.1 L101.8 128.1 L101.4 115.6 L100.7 103.2 L99.8 90.7 L98.6 78.2 L97.4 65.7 L96.0 53.3 L94.5 40.8 L92.8 28.3 L165.2 28.3 L165.2 5.0" stroke="#ea542c" stroke-width="0.9" stroke-opacity="0.75"/>
<path d="M139.9 189.4 L139.8 180.0 L139.6 172.6 L139.3 165.2 L139.0 157.8 L138.5 150.4 L138.0 143.0 L137.4 135.6 L136.8 128.2 L96.1 128.2 L95.5 115.9 L94.4 103.5 L92.9 91.2 L91.2 78.9 L89.2 66.5 L87.1 54.2 L84.7 41.9 L82.2 29.5 L165.2 29.5 L165.2 5.0" stroke="#e5342b" stroke-width="0.9" stroke-opacity="0.75"/>
<path d="M142.7 189.4 L142.6 180.2 L142.4 173.1 L142.1 165.9 L141.8 158.7 L141.3 151.5 L140.8 144.4 L140.2 137.2 L139.5 130.0 L97.9 130.0 L97.3 117.2 L96.2 104.4 L94.9 91.7 L93.3 78.9 L91.5 66.1 L89.5 53.3 L87.3 40.5 L84.9 27.8 L164.5 27.8 L164.5 5.0" stroke="#ea542c" stroke-width="0.9" stroke-opacity="0.75"/>
<path d="M141.6 189.4 L141.5 180.1 L141.4 172.9 L141.2 165.6 L140.9 158.3 L140.5 151.1 L140.1 143.8 L139.6 136.5 L139.1 129.3 L97.2 129.3 L97.0 114.6 L96.8 100.0 L96.5 85.4 L96.2 70.7 L95.8 56.1 L95.3 41.5 L94.9 26.8 L94.4 12.2 L165.0 12.2 L165.0 5.0" stroke="#f07c2d" stroke-width="0.9" stroke-opacity="0.6"/>
<path d="M144.7 189.4 L144.6 180.5 L144.4 173.6 L144.0 166.7 L143.6 159.8 L143.0 152.9 L142.4 146.1 L141.6 139.2 L140.8 132.3 L99.0 132.3 L98.8 117.4 L98.3 102.4 L97.7 87.5 L97.0 72.6 L96.2 57.7 L95.3 42.8 L94.3 27.8 L93.2 12.9 L165.0 12.9 L165.0 5.0" stroke="#e7452b" stroke-width="0.9" stroke-opacity="0.75"/>
<path d="M144.4 189.4 L144.3 180.5 L144.0 173.6 L143.7 166.6 L143.2 159.7 L142.6 152.8 L142.0 145.9 L141.2 138.9 L140.3 132.0 L95.9 132.0 L95.4 117.7 L94.5 103.5 L93.4 89.2 L92.1 74.9 L90.7 60.7 L89.0 46.4 L87.2 32.1 L85.3 17.9 L165.0 17.9 L165.0 5.0" stroke="#e5392b" stroke-width="0.9" stroke-opacity="0.75"/>
<path d="M132.9 189.4 L132.8 180.5 L132.6 173.6 L132.2 166.8 L131.7 159.9 L131.1 153.0 L130.4 146.1 L129.6 139.2 L128.7 132.4 L100.3 132.4 L99.9 118.7 L99.0 105.0 L97.9 91.3 L96.6 77.6 L95.2 64.0 L93.5 50.3 L91.8 36.6 L89.9 22.9 L165.3 22.9 L165.3 5.0" stroke="#e63c2b" stroke-width="0.9" stroke-opacity="0.75"/>
<path d="M139.0 189.4 L138.9 180.3 L138.7 173.1 L138.4 166.0 L138.0 158.8 L137.4 151.7 L136.8 144.5 L136.1 137.4 L135.3 130.2 L100.0 130.2 L99.5 115.9 L98.6 101.5 L97.5 87.2 L96.2 72.8 L94.7 58.5 L93.1 44.2 L91.3 29.8 L89.4 15.5 L165.0 15.5 L165.0 5.0" stroke="#ea512c" stroke-width="0.9" stroke-opacity="0.75"/>
<path d="M129.2 189.4 L129.1 180.1 L128.8 172.8 L128.4 165.6 L127.8 158.3 L127.1 151.0 L126.3 143.7 L125.3 136.4 L124.3 129.1 L102.4 129.1 L101.9 115.7 L101.2 102.2 L100.1 88.7 L98.9 75.2 L97.6 61.7 L96.0 48.3 L94.4 34.8 L92.6 21.3 L165.2 21.3 L165.2 5.0" stroke="#e63b2b" stroke-width="0.9" stroke-opacity="0.75"/>
<path d="M130.5 189.4 L130.4 180.5 L130.0 173.6 L129.5 166.6 L128.7 159.7 L127.9 152.8 L126.9 145.9 L125.7 139.0 L124.4 132.1 L97.1 132.1 L96.6 118.2 L95.7 104.3 L94.5 90.3 L93.0 76.4 L91.4 62.5 L89.6 48.6 L87.7 34.7 L85.6 20.8 L165.1 20.8 L165.1 5.0" stroke="#f5a330" stroke-width="0.9" stroke-opacity="0.6"/>
<path d="M129.1 189.4 L129.0 180.1 L128.8 172.8 L128.4 165.5 L127.9 158.2 L127.3 151.0 L126.5 143.7 L125.7 136.4 L124.8 129.1 L100.9 129.1 L100.5 116.6 L99.7 104.2 L98.7 91.7 L97.6 79.3 L96.2 66.8 L94.7 54.3 L93.1 41.9 L91.4 29.4 L165.4 29.4 L165.4 5.0" stroke="#ea542c" stroke-width="0.9" stroke-opacity="0.75"/>
<path d="M129.5 189.4 L129.3 180.5 L129.0 173.6 L128.6 166.7 L128.0 159.8 L127.2 152.8 L126.4 145.9 L125.4 139.0 L124.3 132.1 L95.8 132.1 L95.2 118.6 L94.0 105.1 L92.5 91.5 L90.8 78.0 L88.8 64.5 L86.5 51.0 L84.1 37.4 L81.5 23.9 L164.6 23.9 L164.6 5.0" stroke="#e94b2b" stroke-width="0.9" stroke-opacity="0.75"/>
<path d="M141.7 189.4 L141.7 180.4 L141.5 173.3 L141.1 166.3 L140.7 159.2 L140.2 152.2 L139.6 145.1 L139.0 138.1 L138.2 131.0 L97.4 131.0 L96.9 118.0 L96.0 105.0 L94.8 92.0 L93.3 79.0 L91.7 66.0 L89.8 53.0 L87.9 40.0 L85.7 27.0 L164.5 27.0 L164.5 5.0" stroke="#e63f2b" stroke-width="0.9" stroke-opacity="0.75"/>
<path d="M128.9 189.4 L128.9 180.1 L128.6 172.9 L128.3 165.6 L127.8 158.3 L127.3 151.0 L126.6 143.8 L125.9 136.5 L125.1 129.2 L98.3 129.2 L97.8 116.2 L96.9 103.2 L95.6 90.3 L94.1 77.3 L92.5 64.3 L90.6 51.3 L88.6 38.3 L86.4 25.3 L164.8 25.3 L164.8 5.0" stroke="#e94e2c" stroke-width="0.9" stroke-opacity="0.75"/>
<path d="M125.1 189.4 L125.0 180.2 L124.7 173.0 L124.4 165.8 L123.8 158.6 L123.2 151.4 L122.5 144.2 L121.6 137.0 L120.7 129.8 L97.8 129.8 L97.3 116.8 L96.4 103.8 L95.1 90.7 L93.6 77.7 L92.0 64.7 L90.1 51.7 L88.1 38.7 L85.9 25.7 L164.7 25.7 L164.7 5.0" stroke="#e84a2b" stroke-width="0.9" stroke-opacity="0.75"/>
<path d="M126.8 189.4 L126.7 180.0 L126.5 172.6 L126.1 165.2 L125.6 157.8 L124.9 150.4 L124.2 143.0 L123.3 135.6 L122.3 128.2 L98.3 128.2 L98.0 114.0 L97.4 99.8 L96.6 85.5 L95.7 71.3 L94.7 57.0 L93.5 42.8 L92.3 28.6 L91.0 14.3 L165.0 14.3 L165.0 5.0" stroke="#e63e2b" stroke-width="0.9" stroke-opacity="0.75"/>
<path d="M126.1 189.4 L126.0 180.0 L125.7 172.5 L125.3 165.1 L124.7 157.7 L124.1 150.2 L123.3 142.8 L122.4 135.3 L121.3 127.9 L101.6 127.9 L101.2 114.8 L100.4 101.7 L99.4 88.7 L98.2 75.6 L96.9 62.5 L95.5 49.4 L93.9 36.3 L92.1 23.3 L165.1 23.3 L165.1 5.0" stroke="#e94f2c" stroke-width="0.9" stroke-opacity="0.75"/>
<path d="M140.8 189.4 L140.7 180.3 L140.4 173.1 L140.0 166.0 L139.5 158.9 L138.9 151.7 L138.2 144.6 L137.4 137.5 L136.4 130.3 L96.5 130.3 L95.8 116.9 L94.7 103.5 L93.2 90.1 L91.5 76.6 L89.5 63.2 L87.3 49.8 L85.0 36.4 L82.4 22.9 L164.7 22.9 L164.7 5.0" stroke="#e63e2b" stroke-width="0.9" stroke-opacity="0.75"/>
<path d="M130.4 189.4 L130.4 179.9 L130.1 172.5 L129.8 165.0 L129.4 157.5 L128.9 150.1 L128.3 142.6 L127.6 135.2 L126.8 127.7 L96.2 127.7 L95.5 114.6 L94.3 101.5 L92.8 88.4 L91.0 75.4 L88.9 62.3 L86.6 49.2 L84.2 36.1 L81.5 23.0 L165.2 23.0 L165.2 5.0" stroke="#f28a2e" stroke-width="0.9" stroke-opacity="0.6"/>
<path d="M128.2 189.4 L128.1 180.3 L127.8 173.2 L127.4 166.1 L126.9 159.0 L126.2 151.9 L125.5 144.8 L124.6 137.7 L123.7 130.5 L95.7 130.5 L95.6 115.9 L95.3 101.3 L94.9 86.6 L94.5 72.0 L94.0 57.4 L93.5 42.8 L92.9 28.1 L92.3 13.5 L164.6 13.5 L164.6 5.0" stroke="#e4322b" stroke-width="0.9" stroke-opacity="0.75"/>
<path d="M139.4 189.4 L139.3 180.0 L139.1 172.6 L138.7 165.2 L138.3 157.8 L137.8 150.3 L137.2 142.9 L136.5 135.5 L135.8 128.1 L101.4 128.1 L101.0 114.2 L100.3 100.2 L99.4 86.3 L98.3 72.4 L97.1 58.5 L95.8 44.5 L94.3 30.6 L92.7 16.7 L164.9 16.7 L164.9 5.0" stroke="#e4332b" stroke-width="0.9" stroke-opacity="0.75"/>
<path d="M129.5 189.4 L129.4 180.0 L129.0 172.6 L128.6 165.2 L128.0 157.8 L127.2 150.4 L126.3 143.0 L125.3 135.6 L124.2 128.2 L98.5 128.2 L98.0 114.5 L97.2 100.9 L96.0 87.2 L94.7 73.6 L93.2 59.9 L91.5 46.3 L89.7 32.6 L87.7 19.0 L165.3 19.0 L165.3 5.0" stroke="#e94d2b" stroke-width="0.9" stroke-opacity="0.75"/>
<path d="M129.2 189.4 L129.1 180.1 L128.9 172.9 L128.5 165.6 L128.1 158.4 L127.6 151.1 L126.9 143.9 L126.2 136.6 L125.4 129.4 L101.6 129.4 L101.1 116.4 L100.3 103.5 L99.3 90.6 L98.0 77.6 L96.6 64.7 L95.1 51.8 L93.4 38.8 L91.6 25.9 L165.2 25.9 L165.2 5.0" stroke="#e5362b" stroke-width="0.9" stroke-opacity="0.75"/>
<path d="M130.9 189.4 L130.8 180.0 L130.5 172.6 L130.1 165.2 L129.6 157.9 L129.0 150.5 L128.2 143.1 L127.4 135.7 L126.4 128.3 L95.6 128.3 L95.0 115.1 L93.9 101.8 L92.5 88.6 L90.8 75.4 L88.9 62.1 L86.8 48.9 L84.6 35.7 L82.1 22.4 L164.6 22.4 L164.6 5.0" stroke="#e84a2b" stroke-width="0.9" stroke-opacity="0.75"/>
<path d="M131.4 189.4 L131.3 180.3 L131.0 173.2 L130.5 166.1 L129.8 159.1 L129.0 152.0 L128.1 144.9 L127.0 137.8 L125.9 130.7 L99.3 130.7 L98.9 117.5 L98.0 104.3 L96.9 91.1 L95.6 77.9 L94.2 64.7 L92.5 51.5 L90.8 38.3 L88.8 25.1 L164.9 25.1 L164.9 5.0" stroke="#e7402b" stroke-width="0.9" stroke-opacity="0.75"/>
<path d="M139.1 189.4 L139.0 180.4 L138.7 173.5 L138.2 166.5 L137.7 159.5 L137.0 152.6 L136.2 145.6 L135.2 138.6 L134.2 131.7 L100.9 131.7 L100.4 118.2 L99.6 104.6 L98.5 91.1 L97.2 77.6 L95.7 64.1 L94.1 50.6 L92.4 37.1 L90.5 23.6 L165.4 23.6 L165.4 5.0" stroke="#ea532c" stroke-width="0.9" stroke-opacity="0.75"/>
<path d="M142.3 189.4 L142.3 180.4 L142.1 173.3 L141.9 166.3 L141.7 159.3 L141.4 152.3 L141.0 145.2 L140.6 138.2 L140.2 131.2 L95.5 131.2 L95.0 117.1 L94.1 103.1 L92.9 89.0 L91.4 74.9 L89.8 60.9 L88.1 46.8 L86.1 32.7 L84.0 18.7 L164.8 18.7 L164.8 5.0" stroke="#e7452b" stroke-width="0.9" stroke-opacity="0.75"/>
<path d="M135.3 189.4 L135.3 180.2 L135.0 173.1 L134.7 165.9 L134.2 158.7 L133.7 151.5 L133.1 144.4 L132.3 137.2 L131.5 130.0 L97.5 130.0 L97.0 117.3 L96.2 104.6 L95.0 91.8 L93.7 79.1 L92.2 66.3 L90.5 53.6 L88.7 40.9 L86.7 28.1 L164.9 28.1 L164.9 5.0" stroke="#ea552c" stroke-width="0.9" stroke-opacity="0.75"/>
<path d="M129.0 189.4 L128.9 180.4 L128.7 173.4 L128.3 166.4 L127.9 159.4 L127.4 152.3 L126.7 145.3 L126.0 138.3 L125.2 131.3 L98.0 131.3 L97.5 117.5 L96.5 103.6 L95.3 89.8 L93.8 76.0 L92.1 62.2 L90.3 48.3 L88.3 34.5 L86.1 20.7 L164.7 20.7 L164.7 5.0" stroke="#e63a2b" stroke-width="0.9" stroke-opacity="0.75"/>
<path d="M145.5 189.4 L145.5 180.5 L145.3 173.6 L145.0 166.7 L144.6 159.8 L144.1 152.9 L143.5 146.0 L142.8 139.1 L142.1 132.2 L98.7 132.2 L98.2 118.3 L97.3 104.4 L96.1 90.6 L94.7 76.7 L93.0 62.8 L91.3 48.9 L89.3 35.0 L87.2 21.1 L164.8 21.1 L164.8 5.0" stroke="#e4332b" stroke-width="0.9" stroke-opacity="0.75"/>
<path d="M133.8 189.4 L133.7 180.0 L133.6 172.7 L133.3 165.3 L133.0 158.0 L132.7 150.6 L132.2 143.3 L131.7 135.9 L131.1 128.6 L96.3 128.6 L96.1 114.2 L95.7 99.9 L95.2 85.6 L94.7 71.2 L94.0 56.9 L93.3 42.6 L92.5 28.2 L91.6 13.9 L164.8 13.9 L164.8 5.0" stroke="#e94c2b" stroke-width="0.9" stroke-opacity="0.75"/>
<path d="M125.5 189.4 L125.4 180.4 L125.1 173.4 L124.7 166.3 L124.1 159.3 L123.4 152.3 L122.5 145.3 L121.5 138.2 L120.5 131.2 L98.6 131.2 L98.1 118.3 L97.1 105.4 L95.9 92.5 L94.4 79.6 L92.7 66.7 L90.9 53.8 L88.9 40.9 L86.7 28.0 L165.1 28.0 L165.1 5.0" stroke="#f2862e" stroke-width="0.9" stroke-opacity="0.6"/>
<path d="M124.6 189.4 L124.4 180.1 L124.2 172.8 L123.7 165.6 L123.1 158.3 L122.4 151.0 L121.6 143.7 L120.7 136.5 L119.6 129.2 L96.0 129.2 L95.5 116.5 L94.5 103.8 L93.2 91.1 L91.7 78.4 L89.9 65.8 L88.0 53.1 L85.9 40.4 L83.7 27.7 L164.8 27.7 L164.8 5.0" stroke="#ec612c" stroke-width="0.9" stroke-opacity="0.6"/>
<path d="M142.0 189.4 L141.9 180.1 L141.7 172.8 L141.4 165.5 L141.0 158.2 L140.6 150.9 L140.0 143.6 L139.3 136.3 L138.6 129.0 L94.9 129.0 L94.3 115.4 L93.2 101.8 L91.9 88.1 L90.2 74.5 L88.4 60.9 L86.4 47.3 L84.2 33.7 L81.8 20.1 L165.4 20.1 L165.4 5.0" stroke="#e7422b" stroke-width="0.9" stroke-opacity="0.75"/>
<path d="M144.9 189.4 L144.8 180.3 L144.6 173.3 L144.3 166.2 L143.9 159.2 L143.4 152.1 L142.8 145.0 L142.1 138.0 L141.4 130.9 L96.7 130.9 L96.4 116.4 L95.9 102.0 L95.1 87.5 L94.3 73.0 L93.3 58.5 L92.2 44.1 L91.0 29.6 L89.8 15.1 L164.9 15.1 L164.9 5.0" stroke="#e63a2b" stroke-width="0.9" stroke-opacity="0.75"/>
<path d="M125.1 189.4 L125.0 180.1 L124.8 172.7 L124.5 165.4 L124.1 158.1 L123.6 150.8 L123.0 143.4 L122.4 136.1 L121.6 128.8 L100.3 128.8 L99.9 114.6 L99.2 100.5 L98.3 86.3 L97.1 72.2 L95.9 58.0 L94.5 43.9 L92.9 29.7 L91.3 15.6 L165.0 15.6 L165.0 5.0" stroke="#f1832e" stroke-width="0.9" stroke-opacity="0.6"/>
<path d="M140.7 189.4 L140.7 180.1 L140.6 172.7 L140.4 165.4 L140.2 158.1 L140.0 150.7 L139.7 143.4 L139.3 136.1 L138.9 128.7 L95.6 128.7 L95.0 115.7 L93.9 102.7 L92.5 89.7 L90.8 76.7 L88.9 63.6 L86.8 50.6 L84.5 37.6 L82.0 24.6 L165.1 24.6 L165.1 5.0" stroke="#e8452b" stroke-width="0.9" stroke-opacity="0.75"/>
<path d="M130.1 189.4 L130.0 180.0 L129.7 172.7 L129.3 165.3 L128.8 157.9 L128.1 150.6 L127.3 143.2 L126.4 135.8 L125.5 128.4 L99.3 128.4 L98.9 114.8 L98.0 101.1 L97.0 87.4 L95.7 73.7 L94.2 60.0 L92.6 46.3 L90.9 32.6 L89.0 19.0 L164.8 19.0 L164.8 5.0" stroke="#e8472b" stroke-width="0.9" stroke-opacity="0.75"/>
<path d="M129.9 189.4 L129.9 179.9 L129.7 172.4 L129.4 164.9 L129.1 157.5 L128.7 150.0 L128.2 142.5 L127.6 135.0 L127.0 127.5 L96.0 127.5 L95.7 113.5 L95.2 99.4 L94.5 85.4 L93.8 71.3 L92.9 57.3 L91.9 43.2 L90.8 29.2 L89.7 15.1 L164.9 15.1 L164.9 5.0" stroke="#e5352b" stroke-width="0.9" stroke-opacity="0.75"/>
<path d="M141.7 189.4 L141.6 180.2 L141.4 173.0 L141.0 165.7 L140.6 158.5 L140.1 151.3 L139.5 144.1 L138.8 136.9 L138.0 129.6 L97.1 129.6 L96.6 117.1 L95.7 104.5 L94.4 92.0 L93.0 79.4 L91.3 66.8 L89.5 54.3 L87.5 41.7 L85.3 29.1 L165.2 29.1 L165.2 5.0" stroke="#e8462b" stroke-width="0.9" stroke-opacity="0.75"/>
<path d="M134.4 189.4 L134.2 180.0 L133.9 172.5 L133.4 165.1 L132.8 157.7 L132.0 150.3 L131.1 142.8 L130.0 135.4 L128.8 128.0 L95.7 128.0 L95.5 113.8 L95.1 99.6 L94.5 85.5 L93.9 71.3 L93.1 57.1 L92.3 43.0 L91.5 28.8 L90.5 14.6 L164.6 14.6 L164.6 5.0" stroke="#e7412b" stroke-width="0.9" stroke-opacity="0.75"/>
<path d="M130.9 189.4 L130.8 180.2 L130.5 172.9 L130.1 165.7 L129.6 158.5 L128.9 151.3 L128.2 144.0 L127.3 136.8 L126.4 129.6 L98.1 129.6 L97.6 116.4 L96.7 103.2 L95.6 90.0 L94.2 76.8 L92.7 63.7 L90.9 50.5 L89.1 37.3 L87.1 24.1 L164.9 24.1 L164.9 5.0" stroke="#e7442b" stroke-width="0.9" stroke-opacity="0.75"/>
<path d="M135.9 189.4 L135.8 180.4 L135.6 173.4 L135.4 166.3 L135.0 159.3 L134.6 152.3 L134.1 145.3 L133.6 138.3 L132.9 131.2 L98.5 131.2 L97.9 117.8 L96.8 104.3 L95.3 90.8 L93.6 77.3 L91.7 63.9 L89.6 50.4 L87.2 36.9 L84.7 23.5 L164.9 23.5 L164.9 5.0" stroke="#e5372b" stroke-width="0.9" stroke-opacity="0.75"/>
<path d="M130.6 189.4 L130.5 180.5 L130.2 173.6 L129.7 166.7 L129.1 159.8 L128.4 152.9 L127.5 146.0 L126.5 139.1 L125.4 132.2 L100.3 132.2 L99.9 119.2 L99.1 106.2 L98.0 93.2 L96.8 80.3 L95.4 67.3 L93.9 54.3 L92.2 41.3 L90.4 28.3 L164.9 28.3 L164.9 5.0" stroke="#e7422b" stroke-width="0.9" stroke-opacity="0.75"/>
<path d="M94.5 12.9 L165 12.9" stroke="#c4b89a" stroke-width="1.8" stroke-opacity="0.85"/>
<path d="M92.5 16.0 L165 16.0" stroke="#ec8458" stroke-width="1.6" stroke-opacity="0.85"/>
<path d="M81 26.0 L165 26.0" stroke="#ee8c60" stroke-width="0.8" stroke-opacity="0.7"/>
</g>
<line x1="52.50" y1="11.70" x2="52.50" y2="187.40" stroke="#5a5a5a" stroke-width="1.1" />
<line x1="52.20" y1="187.40" x2="173.60" y2="187.40" stroke="#5a5a5a" stroke-width="1.1" />
<line x1="47.00" y1="187.40" x2="52.50" y2="187.40" stroke="#6a6a6a" stroke-width="0.8" />
<text stroke="#231f20" stroke-width="0.18" x="43.30" y="191.40" font-size="11" text-anchor="end" fill="#231f20" >0</text>
<line x1="49.10" y1="180.47" x2="52.50" y2="180.47" stroke="#6a6a6a" stroke-width="0.8" />
<line x1="49.10" y1="173.55" x2="52.50" y2="173.55" stroke="#6a6a6a" stroke-width="0.8" />
<line x1="49.10" y1="166.62" x2="52.50" y2="166.62" stroke="#6a6a6a" stroke-width="0.8" />
<line x1="47.00" y1="159.70" x2="52.50" y2="159.70" stroke="#6a6a6a" stroke-width="0.8" />
<text stroke="#231f20" stroke-width="0.18" x="43.30" y="163.70" font-size="11" text-anchor="end" fill="#231f20" >300</text>
<line x1="49.10" y1="152.78" x2="52.50" y2="152.78" stroke="#6a6a6a" stroke-width="0.8" />
<line x1="49.10" y1="145.85" x2="52.50" y2="145.85" stroke="#6a6a6a" stroke-width="0.8" />
<line x1="49.10" y1="138.93" x2="52.50" y2="138.93" stroke="#6a6a6a" stroke-width="0.8" />
<line x1="47.00" y1="132.00" x2="52.50" y2="132.00" stroke="#6a6a6a" stroke-width="0.8" />
<text stroke="#231f20" stroke-width="0.18" x="43.30" y="136.00" font-size="11" text-anchor="end" fill="#231f20" >600</text>
<line x1="49.10" y1="125.08" x2="52.50" y2="125.08" stroke="#6a6a6a" stroke-width="0.8" />
<line x1="49.10" y1="118.15" x2="52.50" y2="118.15" stroke="#6a6a6a" stroke-width="0.8" />
<line x1="49.10" y1="111.23" x2="52.50" y2="111.23" stroke="#6a6a6a" stroke-width="0.8" />
<line x1="47.00" y1="104.30" x2="52.50" y2="104.30" stroke="#6a6a6a" stroke-width="0.8" />
<text stroke="#231f20" stroke-width="0.18" x="43.30" y="108.30" font-size="11" text-anchor="end" fill="#231f20" >900</text>
<line x1="49.10" y1="97.38" x2="52.50" y2="97.38" stroke="#6a6a6a" stroke-width="0.8" />
<line x1="49.10" y1="90.45" x2="52.50" y2="90.45" stroke="#6a6a6a" stroke-width="0.8" />
<line x1="49.10" y1="83.53" x2="52.50" y2="83.53" stroke="#6a6a6a" stroke-width="0.8" />
<line x1="47.00" y1="76.60" x2="52.50" y2="76.60" stroke="#6a6a6a" stroke-width="0.8" />
<text stroke="#231f20" stroke-width="0.18" x="43.30" y="80.60" font-size="11" text-anchor="end" fill="#231f20" >1,200</text>
<line x1="49.10" y1="69.67" x2="52.50" y2="69.67" stroke="#6a6a6a" stroke-width="0.8" />
<line x1="49.10" y1="62.75" x2="52.50" y2="62.75" stroke="#6a6a6a" stroke-width="0.8" />
<line x1="49.10" y1="55.82" x2="52.50" y2="55.82" stroke="#6a6a6a" stroke-width="0.8" />
<line x1="47.00" y1="48.90" x2="52.50" y2="48.90" stroke="#6a6a6a" stroke-width="0.8" />
<text stroke="#231f20" stroke-width="0.18" x="43.30" y="52.90" font-size="11" text-anchor="end" fill="#231f20" >1,500</text>
<line x1="49.10" y1="41.97" x2="52.50" y2="41.97" stroke="#6a6a6a" stroke-width="0.8" />
<line x1="49.10" y1="35.05" x2="52.50" y2="35.05" stroke="#6a6a6a" stroke-width="0.8" />
<line x1="49.10" y1="28.12" x2="52.50" y2="28.12" stroke="#6a6a6a" stroke-width="0.8" />
<line x1="47.00" y1="21.20" x2="52.50" y2="21.20" stroke="#6a6a6a" stroke-width="0.8" />
<text stroke="#231f20" stroke-width="0.18" x="43.30" y="25.20" font-size="11" text-anchor="end" fill="#231f20" >1,800</text>
<line x1="49.10" y1="14.28" x2="52.50" y2="14.28" stroke="#6a6a6a" stroke-width="0.8" />
<line x1="52.50" y1="187.40" x2="52.50" y2="190.80" stroke="#6a6a6a" stroke-width="0.8" />
<line x1="69.80" y1="187.40" x2="69.80" y2="190.80" stroke="#6a6a6a" stroke-width="0.8" />
<line x1="87.10" y1="187.40" x2="87.10" y2="193.00" stroke="#6a6a6a" stroke-width="0.8" />
<line x1="104.40" y1="187.40" x2="104.40" y2="190.80" stroke="#6a6a6a" stroke-width="0.8" />
<line x1="121.70" y1="187.40" x2="121.70" y2="190.80" stroke="#6a6a6a" stroke-width="0.8" />
<line x1="139.00" y1="187.40" x2="139.00" y2="190.80" stroke="#6a6a6a" stroke-width="0.8" />
<line x1="156.30" y1="187.40" x2="156.30" y2="190.80" stroke="#6a6a6a" stroke-width="0.8" />
<line x1="173.60" y1="187.40" x2="173.60" y2="193.00" stroke="#6a6a6a" stroke-width="0.8" />
<text stroke="#231f20" stroke-width="0.18" x="87.00" y="205.70" font-size="11" text-anchor="middle" fill="#231f20" >5</text>
<text stroke="#231f20" stroke-width="0.18" x="173.50" y="205.70" font-size="11" text-anchor="middle" fill="#231f20" >10</text>
<text stroke="#231f20" stroke-width="0.18" x="85.8" y="222" font-size="11" fill="#231f20"><tspan font-style="italic">V</tspan><tspan font-size="7.5" dy="1.5">P</tspan><tspan dy="-1.5"> (km s</tspan><tspan font-size="7" dy="-4.2">−1</tspan><tspan dy="4.2">)</tspan></text>
<text stroke="#231f20" stroke-width="0.18" transform="translate(9.3,99.4) rotate(-90)" font-size="11" text-anchor="middle" fill="#231f20">Radius (km)</text>
<linearGradient id="cbg" x1="0" y1="1" x2="0" y2="0"><stop offset="0.0000" stop-color="#e4312b"/><stop offset="0.0882" stop-color="#ee6a2c"/><stop offset="0.1434" stop-color="#f5a030"/><stop offset="0.1912" stop-color="#f2e43a"/><stop offset="0.2537" stop-color="#b8d040"/><stop offset="0.3456" stop-color="#6ab84a"/><stop offset="0.4375" stop-color="#58ad58"/><stop offset="0.5294" stop-color="#4cb4a0"/><stop offset="0.6029" stop-color="#30b8e8"/><stop offset="0.6765" stop-color="#2a70c0"/><stop offset="0.7500" stop-color="#2a4fa0"/><stop offset="0.8603" stop-color="#4a48a0"/><stop offset="0.9338" stop-color="#8040a0"/><stop offset="1.0000" stop-color="#c8449a"/></linearGradient>
<rect x="181.3" y="11.4" width="5.4" height="176.4" fill="url(#cbg)"/>
<line x1="186.70" y1="29.80" x2="189.80" y2="29.80" stroke="#6a6a6a" stroke-width="0.8" />
<text stroke="#231f20" stroke-width="0.18" x="193.60" y="33.80" font-size="11" text-anchor="start" fill="#231f20" >3.0</text>
<line x1="186.70" y1="62.10" x2="189.80" y2="62.10" stroke="#6a6a6a" stroke-width="0.8" />
<text stroke="#231f20" stroke-width="0.18" x="193.60" y="66.10" font-size="11" text-anchor="start" fill="#231f20" >2.5</text>
<line x1="186.70" y1="94.40" x2="189.80" y2="94.40" stroke="#6a6a6a" stroke-width="0.8" />
<text stroke="#231f20" stroke-width="0.18" x="193.60" y="98.40" font-size="11" text-anchor="start" fill="#231f20" >2.0</text>
<line x1="186.70" y1="126.60" x2="189.80" y2="126.60" stroke="#6a6a6a" stroke-width="0.8" />
<text stroke="#231f20" stroke-width="0.18" x="193.60" y="130.60" font-size="11" text-anchor="start" fill="#231f20" >1.5</text>
<line x1="186.70" y1="158.90" x2="189.80" y2="158.90" stroke="#6a6a6a" stroke-width="0.8" />
<text stroke="#231f20" stroke-width="0.18" x="193.60" y="162.90" font-size="11" text-anchor="start" fill="#231f20" >1.0</text>
<text stroke="#231f20" stroke-width="0.18" transform="translate(226.3,98.5) rotate(-90)" font-size="11" text-anchor="middle" fill="#231f20">Misfit (s)</text>
<path d="M142.00 329.30V301.30H144.10V329.30ZM144.10 329.30V278.00H146.20V329.30ZM146.20 329.30V266.20H148.30V329.30ZM148.30 329.30V253.00H150.50V329.30ZM150.50 329.30V250.00H152.60V329.30ZM152.60 329.30V252.00H154.80V329.30ZM154.80 329.30V256.00H157.00V329.30ZM157.00 329.30V281.80H159.20V329.30ZM159.20 329.30V285.90H161.40V329.30ZM139.84 329.30V312.01H142.00V329.30ZM137.68 329.30V314.06H139.84V329.30ZM135.52 329.30V317.50H137.68V329.30ZM133.36 329.30V322.52H135.52V329.30ZM131.20 329.30V326.30H133.36V329.30ZM129.04 329.30V328.37H131.20V329.30ZM161.40 329.30V309.20H163.56V329.30ZM163.56 329.30V313.66H165.72V329.30ZM165.72 329.30V319.79H167.88V329.30ZM167.88 329.30V323.92H170.04V329.30ZM170.04 329.30V327.85H172.20V329.30Z" fill="#e8694b"/>
<path d="M144.10 278.00V329.30M146.20 266.20V329.30M148.30 253.00V329.30M150.50 250.00V329.30M152.60 252.00V329.30M154.80 256.00V329.30M157.00 281.80V329.30M159.20 285.90V329.30M139.84 312.01V329.30M137.68 314.06V329.30M135.52 317.50V329.30M133.36 322.52V329.30M131.20 326.30V329.30M129.04 328.37V329.30M161.40 309.20V329.30M163.56 313.66V329.30M165.72 319.79V329.30M167.88 323.92V329.30M170.04 327.85V329.30M172.20 329.30V329.30" stroke="#ffffff" stroke-opacity="0.45" stroke-width="0.5"/>
<path d="M52.40 329.30V327.73H54.57V329.30ZM54.57 329.30V327.81H56.73V329.30ZM56.73 329.30V327.75H58.90V329.30ZM58.90 329.30V327.50H61.06V329.30ZM61.06 329.30V326.98H63.23V329.30ZM63.23 329.30V326.59H65.40V329.30ZM65.40 329.30V326.76H67.56V329.30ZM67.56 329.30V326.48H69.73V329.30ZM69.73 329.30V325.60H71.89V329.30ZM71.89 329.30V325.96H74.06V329.30ZM74.06 329.30V325.40H76.23V329.30ZM76.23 329.30V324.98H78.39V329.30ZM78.39 329.30V324.33H80.56V329.30ZM80.56 329.30V324.31H82.72V329.30ZM82.72 329.30V323.63H84.89V329.30ZM84.89 329.30V323.45H87.06V329.30ZM87.06 329.30V323.00H89.22V329.30ZM89.22 329.30V322.76H91.39V329.30ZM91.39 329.30V321.71H93.55V329.30ZM93.55 329.30V321.48H95.72V329.30ZM95.72 329.30V320.59H97.89V329.30ZM97.89 329.30V320.24H100.05V329.30ZM100.05 329.30V319.29H102.22V329.30ZM102.22 329.30V319.12H104.38V329.30ZM104.38 329.30V318.75H106.55V329.30ZM106.55 329.30V317.93H108.72V329.30ZM108.72 329.30V316.54H110.88V329.30ZM110.88 329.30V315.89H113.05V329.30ZM113.05 329.30V315.44H115.21V329.30ZM115.21 329.30V314.59H117.38V329.30ZM117.38 329.30V313.96H119.55V329.30ZM119.55 329.30V313.27H121.71V329.30ZM121.71 329.30V312.61H123.88V329.30ZM123.88 329.30V311.10H126.04V329.30ZM126.04 329.30V311.88H128.21V329.30ZM128.21 329.30V311.62H130.38V329.30ZM130.38 329.30V311.15H132.54V329.30ZM132.54 329.30V310.77H134.71V329.30ZM134.71 329.30V310.11H136.87V329.30ZM136.87 329.30V309.80H139.04V329.30ZM139.04 329.30V309.99H141.21V329.30ZM141.21 329.30V309.53H143.37V329.30ZM143.37 329.30V309.48H145.54V329.30ZM145.54 329.30V309.19H147.70V329.30ZM147.70 329.30V309.22H149.87V329.30ZM149.87 329.30V309.46H152.04V329.30ZM152.04 329.30V309.63H154.20V329.30ZM154.20 329.30V309.48H156.37V329.30ZM156.37 329.30V309.96H158.53V329.30ZM158.53 329.30V309.95H160.70V329.30ZM160.70 329.30V309.75H162.87V329.30ZM162.87 329.30V309.94H165.03V329.30ZM165.03 329.30V310.48H167.20V329.30ZM167.20 329.30V310.82H169.36V329.30ZM169.36 329.30V310.89H171.53V329.30ZM171.53 329.30V310.38H173.70V329.30Z" fill="#929598" fill-opacity="0.65"/>
<path d="M54.57 300V329.30M56.73 300V329.30M58.90 300V329.30M61.06 300V329.30M63.23 300V329.30M65.40 300V329.30M67.56 300V329.30M69.73 300V329.30M71.89 300V329.30M74.06 300V329.30M76.23 300V329.30M78.39 300V329.30M80.56 300V329.30M82.72 300V329.30M84.89 300V329.30M87.06 300V329.30M89.22 300V329.30M91.39 300V329.30M93.55 300V329.30M95.72 300V329.30M97.89 300V329.30M100.05 300V329.30M102.22 300V329.30M104.38 300V329.30M106.55 300V329.30M108.72 300V329.30M110.88 300V329.30M113.05 300V329.30M115.21 300V329.30M117.38 300V329.30M119.55 300V329.30M121.71 300V329.30M123.88 300V329.30M126.04 300V329.30M128.21 300V329.30M130.38 300V329.30M132.54 300V329.30M134.71 300V329.30M136.87 300V329.30M139.04 300V329.30M141.21 300V329.30M143.37 300V329.30M145.54 300V329.30M147.70 300V329.30M149.87 300V329.30M152.04 300V329.30M154.20 300V329.30M156.37 300V329.30M158.53 300V329.30M160.70 300V329.30M162.87 300V329.30M165.03 300V329.30M167.20 300V329.30M169.36 300V329.30M171.53 300V329.30" stroke="#ffffff" stroke-opacity="0.45" stroke-width="0.5"/>
<line x1="151.40" y1="241.70" x2="151.40" y2="329.30" stroke="#e6222a" stroke-width="1.8" />
<line x1="52.30" y1="241.70" x2="52.30" y2="329.30" stroke="#5a5a5a" stroke-width="1.1" />
<line x1="51.80" y1="329.30" x2="173.90" y2="329.30" stroke="#5a5a5a" stroke-width="1.1" />
<line x1="46.60" y1="329.30" x2="52.30" y2="329.30" stroke="#6a6a6a" stroke-width="0.8" />
<line x1="48.80" y1="321.04" x2="52.30" y2="321.04" stroke="#6a6a6a" stroke-width="0.8" />
<line x1="48.80" y1="312.28" x2="52.30" y2="312.28" stroke="#6a6a6a" stroke-width="0.8" />
<line x1="48.80" y1="303.52" x2="52.30" y2="303.52" stroke="#6a6a6a" stroke-width="0.8" />
<line x1="48.80" y1="294.76" x2="52.30" y2="294.76" stroke="#6a6a6a" stroke-width="0.8" />
<line x1="46.60" y1="285.50" x2="52.30" y2="285.50" stroke="#6a6a6a" stroke-width="0.8" />
<line x1="48.80" y1="277.24" x2="52.30" y2="277.24" stroke="#6a6a6a" stroke-width="0.8" />
<line x1="48.80" y1="268.48" x2="52.30" y2="268.48" stroke="#6a6a6a" stroke-width="0.8" />
<line x1="48.80" y1="259.72" x2="52.30" y2="259.72" stroke="#6a6a6a" stroke-width="0.8" />
<line x1="48.80" y1="250.96" x2="52.30" y2="250.96" stroke="#6a6a6a" stroke-width="0.8" />
<line x1="46.60" y1="241.70" x2="52.30" y2="241.70" stroke="#6a6a6a" stroke-width="0.8" />
<text stroke="#231f20" stroke-width="0.18" x="43.00" y="245.50" font-size="11" text-anchor="end" fill="#231f20" >22.4</text>
<text stroke="#231f20" stroke-width="0.18" x="43.00" y="289.50" font-size="11" text-anchor="end" fill="#231f20" >11.2</text>
<text stroke="#231f20" stroke-width="0.18" x="43.00" y="333.20" font-size="11" text-anchor="end" fill="#231f20" >0</text>
<line x1="52.40" y1="329.30" x2="52.40" y2="334.60" stroke="#6a6a6a" stroke-width="0.8" />
<line x1="60.48" y1="329.30" x2="60.48" y2="333.00" stroke="#6a6a6a" stroke-width="0.8" />
<line x1="68.56" y1="329.30" x2="68.56" y2="333.00" stroke="#6a6a6a" stroke-width="0.8" />
<line x1="76.64" y1="329.30" x2="76.64" y2="333.00" stroke="#6a6a6a" stroke-width="0.8" />
<line x1="84.72" y1="329.30" x2="84.72" y2="333.00" stroke="#6a6a6a" stroke-width="0.8" />
<line x1="92.80" y1="329.30" x2="92.80" y2="334.60" stroke="#6a6a6a" stroke-width="0.8" />
<line x1="100.88" y1="329.30" x2="100.88" y2="333.00" stroke="#6a6a6a" stroke-width="0.8" />
<line x1="108.96" y1="329.30" x2="108.96" y2="333.00" stroke="#6a6a6a" stroke-width="0.8" />
<line x1="117.04" y1="329.30" x2="117.04" y2="333.00" stroke="#6a6a6a" stroke-width="0.8" />
<line x1="125.12" y1="329.30" x2="125.12" y2="333.00" stroke="#6a6a6a" stroke-width="0.8" />
<line x1="133.20" y1="329.30" x2="133.20" y2="334.60" stroke="#6a6a6a" stroke-width="0.8" />
<line x1="141.28" y1="329.30" x2="141.28" y2="333.00" stroke="#6a6a6a" stroke-width="0.8" />
<line x1="149.36" y1="329.30" x2="149.36" y2="333.00" stroke="#6a6a6a" stroke-width="0.8" />
<line x1="157.44" y1="329.30" x2="157.44" y2="333.00" stroke="#6a6a6a" stroke-width="0.8" />
<line x1="165.52" y1="329.30" x2="165.52" y2="333.00" stroke="#6a6a6a" stroke-width="0.8" />
<line x1="173.60" y1="329.30" x2="173.60" y2="334.60" stroke="#6a6a6a" stroke-width="0.8" />
<text stroke="#231f20" stroke-width="0.18" x="92.80" y="347.90" font-size="11" text-anchor="middle" fill="#231f20" >250</text>
<text stroke="#231f20" stroke-width="0.18" x="133.20" y="347.90" font-size="11" text-anchor="middle" fill="#231f20" >500</text>
<text stroke="#231f20" stroke-width="0.18" x="173.60" y="347.90" font-size="11" text-anchor="middle" fill="#231f20" >750</text>
<text stroke="#231f20" stroke-width="0.18" x="93.3" y="363.3" font-size="11" fill="#231f20"><tspan font-style="italic">R</tspan><tspan font-size="8" dy="2.5">IC</tspan><tspan dy="-2.5"> (km)</tspan></text>
<text stroke="#231f20" stroke-width="0.18" transform="translate(9.3,284) rotate(-90)" font-size="11" text-anchor="middle" fill="#231f20">Frequency (%)</text>
<text stroke="#e3262e" stroke-width="0.18" x="58.80" y="259.20" font-size="11" text-anchor="start" fill="#e3262e" >613 ± 66 (km)</text>
<rect x="288" y="211.6" width="396" height="95.2" fill="#dfecf2"/>
<line x1="288.20" y1="24.50" x2="381.00" y2="24.50" stroke="#d6d6d6" stroke-width="1.2" stroke-dasharray="2 0.94"/>
<line x1="449.00" y1="24.50" x2="538.00" y2="24.50" stroke="#d6d6d6" stroke-width="1.2" stroke-dasharray="2 0.94"/>
<line x1="628.00" y1="24.50" x2="685.00" y2="24.50" stroke="#d6d6d6" stroke-width="1.2" stroke-dasharray="2 0.94"/>
<line x1="288.20" y1="48.70" x2="388.00" y2="48.70" stroke="#d6d6d6" stroke-width="1.2" stroke-dasharray="2 0.94"/>
<line x1="443.00" y1="48.70" x2="545.00" y2="48.70" stroke="#d6d6d6" stroke-width="1.2" stroke-dasharray="2 0.94"/>
<line x1="602.00" y1="48.70" x2="685.00" y2="48.70" stroke="#d6d6d6" stroke-width="1.2" stroke-dasharray="2 0.94"/>
<line x1="288.20" y1="132.20" x2="685.00" y2="132.20" stroke="#d6d6d6" stroke-width="1.2" stroke-dasharray="2 0.94"/>
<line x1="288.20" y1="214.30" x2="685.00" y2="214.30" stroke="#3a3f44" stroke-width="0.9" stroke-dasharray="2 0.94" stroke-opacity="0.198"/>
<line x1="288.20" y1="224.30" x2="685.00" y2="224.30" stroke="#3a3f44" stroke-width="0.9" stroke-dasharray="2 0.94" stroke-opacity="0.310"/>
<line x1="288.20" y1="233.50" x2="685.00" y2="233.50" stroke="#3a3f44" stroke-width="0.9" stroke-dasharray="2 0.94" stroke-opacity="0.260"/>
<line x1="288.20" y1="244.30" x2="685.00" y2="244.30" stroke="#3a3f44" stroke-width="0.9" stroke-dasharray="2 0.94" stroke-opacity="0.260"/>
<line x1="288.20" y1="251.90" x2="685.00" y2="251.90" stroke="#3a3f44" stroke-width="0.9" stroke-dasharray="2 0.94" stroke-opacity="0.136"/>
<line x1="288.20" y1="266.50" x2="685.00" y2="266.50" stroke="#3a3f44" stroke-width="0.9" stroke-dasharray="2 0.94" stroke-opacity="0.198"/>
<line x1="288.20" y1="270.80" x2="685.00" y2="270.80" stroke="#3a3f44" stroke-width="0.9" stroke-dasharray="2 0.94" stroke-opacity="0.310"/>
<line x1="288.20" y1="279.40" x2="685.00" y2="279.40" stroke="#3a3f44" stroke-width="0.9" stroke-dasharray="2 0.94" stroke-opacity="0.260"/>
<line x1="288.20" y1="281.90" x2="685.00" y2="281.90" stroke="#3a3f44" stroke-width="0.9" stroke-dasharray="2 0.94" stroke-opacity="0.093"/>
<line x1="288.20" y1="283.40" x2="685.00" y2="283.40" stroke="#3a3f44" stroke-width="0.9" stroke-dasharray="2 0.94" stroke-opacity="0.341"/>
<line x1="288.20" y1="284.40" x2="685.00" y2="284.40" stroke="#3a3f44" stroke-width="0.9" stroke-dasharray="2 0.94" stroke-opacity="0.310"/>
<line x1="288.20" y1="291.30" x2="685.00" y2="291.30" stroke="#3a3f44" stroke-width="0.9" stroke-dasharray="2 0.94" stroke-opacity="0.198"/>
<line x1="288.20" y1="293.50" x2="685.00" y2="293.50" stroke="#3a3f44" stroke-width="0.9" stroke-dasharray="2 0.94" stroke-opacity="0.279"/>
<line x1="288.20" y1="299.20" x2="685.00" y2="299.20" stroke="#3a3f44" stroke-width="0.9" stroke-dasharray="2 0.94" stroke-opacity="0.136"/>
<path d="M298.60 11.60 L301.60 11.60 L313.40 156.50 L309.90 156.50 Z" fill="#f05c2e" />
<path d="M337.70 175.70 L341.80 175.70 L369.00 320.70 L365.00 320.70 Z" fill="#f05c2e" />
<path d="M488.10 175.70 L493.20 175.70 L498.90 200.00 L521.70 305.00 L525.50 320.70 L519.30 320.70 L516.40 305.00 L493.00 200.00 Z" fill="#f05c2e" />
<path d="M591.7 211.1 L604.5 256" stroke="#f07a58" stroke-width="1.6" fill="none"/>
<path d="M596.3 215.4 L607.5 256" stroke="#f0482c" stroke-width="2.0" fill="none"/>
<path d="M599.50 243.00 L604.00 243.00 L612.20 265.00 L630.20 320.70 L622.00 320.70 L606.20 265.00 Z" fill="#f05c2e" />
<path d="M637.10 175.90 L644.40 175.90 L649.00 215.00 L656.20 255.00 L661.90 320.70 L654.00 320.70 L646.70 255.00 L641.00 215.00 Z" fill="#ef4e30" />
<path d="M641.00 175.90 L644.40 175.90 L649.00 215.00 L656.20 255.00 L661.90 320.70 L657.40 320.70 L651.50 255.00 L645.00 215.00 Z" fill="#f26a38" fill-opacity="0.8"/>
<path d="M300.60 20.50 L304.00 20.50 M300.60 28.30 L304.00 28.30" stroke="#111" stroke-width="1.6" fill="none"/>
<circle cx="302.3" cy="24.4" r="2.9" fill="#e4e23a" stroke="#111" stroke-width="1.3"/>
<path d="M299.40 44.90 L302.80 44.90 M299.40 52.70 L302.80 52.70" stroke="#111" stroke-width="1.6" fill="none"/>
<circle cx="301.1" cy="48.8" r="2.9" fill="#e4e23a" stroke="#111" stroke-width="1.3"/>
<path d="M308.80 128.30 L312.20 128.30 M308.80 136.10 L312.20 136.10" stroke="#111" stroke-width="1.6" fill="none"/>
<circle cx="310.5" cy="132.2" r="2.9" fill="#e4e23a" stroke="#111" stroke-width="1.3"/>
<path d="M346.40 210.00 L346.40 217.60 M345.00 210.00 L347.80 210.00 M345.00 217.60 L347.80 217.60" stroke="#111" stroke-width="1.2" fill="none"/>
<circle cx="346.4" cy="213.8" r="2.6" fill="#222" fill-opacity="0.3" stroke="#1a1a1a" stroke-width="1.2"/>
<path d="M352.20 248.00 L352.20 255.60 M350.80 248.00 L353.60 248.00 M350.80 255.60 L353.60 255.60" stroke="#111" stroke-width="1.2" fill="none"/>
<circle cx="352.2" cy="251.8" r="2.6" fill="#222" fill-opacity="0.3" stroke="#1a1a1a" stroke-width="1.2"/>
<path d="M358.40 266.80 L358.40 274.40 M357.00 266.80 L359.80 266.80 M357.00 274.40 L359.80 274.40" stroke="#111" stroke-width="1.2" fill="none"/>
<circle cx="358.4" cy="270.6" r="2.6" fill="#222" fill-opacity="0.3" stroke="#1a1a1a" stroke-width="1.2"/>
<path d="M360.50 276.20 L360.50 283.80 M359.10 276.20 L361.90 276.20 M359.10 283.80 L361.90 283.80" stroke="#111" stroke-width="1.2" fill="none"/>
<circle cx="360.5" cy="280.0" r="2.6" fill="#222" fill-opacity="0.3" stroke="#1a1a1a" stroke-width="1.2"/>
<path d="M361.20 280.00 L361.20 287.60 M359.80 280.00 L362.60 280.00 M359.80 287.60 L362.60 287.60" stroke="#111" stroke-width="1.2" fill="none"/>
<circle cx="361.2" cy="283.8" r="2.6" fill="#222" fill-opacity="0.3" stroke="#1a1a1a" stroke-width="1.2"/>
<path d="M362.60 298.60 L362.60 306.20 M361.20 298.60 L364.00 298.60 M361.20 306.20 L364.00 306.20" stroke="#111" stroke-width="1.2" fill="none"/>
<circle cx="362.6" cy="302.4" r="2.6" fill="#222" fill-opacity="0.3" stroke="#1a1a1a" stroke-width="1.2"/>
<path d="M360.5 270.6 L363.7 270.6 M363.7 267.3 L363.7 275.4" stroke="#1a1a1a" stroke-width="1.2" fill="none"/>
<path d="M349.70 220.40 L349.70 228.40 M348.30 220.40 L351.10 220.40 M348.30 228.40 L351.10 228.40" stroke="#111" stroke-width="1.2" fill="none"/>
<rect x="347.10" y="221.80" width="5.2" height="5.2" fill="#222" fill-opacity="0.3" stroke="#1a1a1a" stroke-width="1.2"/>
<path d="M501.80 219.40 L501.80 227.40 M500.40 219.40 L503.20 219.40 M500.40 227.40 L503.20 227.40" stroke="#111" stroke-width="1.2" fill="none"/>
<path d="M498.90 221.00 L504.70 221.00 L501.80 226.40 Z" fill="#222" fill-opacity="0.5" stroke="#1a1a1a" stroke-width="1.3"/>
<path d="M512.20 266.10 L512.20 274.10 M510.80 266.10 L513.60 266.10 M510.80 274.10 L513.60 274.10" stroke="#111" stroke-width="1.2" fill="none"/>
<path d="M509.30 267.70 L515.10 267.70 L512.20 273.10 Z" fill="#222" fill-opacity="0.5" stroke="#1a1a1a" stroke-width="1.3"/>
<path d="M510.50 278.00 L510.50 286.00 M509.10 278.00 L511.90 278.00 M509.10 286.00 L511.90 286.00" stroke="#111" stroke-width="1.2" fill="none"/>
<path d="M507.60 279.60 L513.40 279.60 L510.50 285.00 Z" fill="#222" fill-opacity="0.5" stroke="#1a1a1a" stroke-width="1.3"/>
<path d="M514.50 280.00 L514.50 288.00 M513.10 280.00 L515.90 280.00 M513.10 288.00 L515.90 288.00" stroke="#111" stroke-width="1.2" fill="none"/>
<path d="M511.60 281.60 L517.40 281.60 L514.50 287.00 Z" fill="#222" fill-opacity="0.5" stroke="#1a1a1a" stroke-width="1.3"/>
<path d="M516.90 296.50 L516.90 304.50 M515.50 296.50 L518.30 296.50 M515.50 304.50 L518.30 304.50" stroke="#111" stroke-width="1.2" fill="none"/>
<path d="M514.00 298.10 L519.80 298.10 L516.90 303.50 Z" fill="#222" fill-opacity="0.5" stroke="#1a1a1a" stroke-width="1.3"/>
<path d="M507.7 279.5 L507.7 286.9" stroke="#777" stroke-width="1.2" fill="none"/>
<path d="M599.10 229.80 L599.10 237.80 M597.70 229.80 L600.50 229.80 M597.70 237.80 L600.50 237.80" stroke="#111" stroke-width="1.2" fill="none"/>
<rect x="596.50" y="231.20" width="5.2" height="5.2" fill="#222" fill-opacity="0.3" stroke="#1a1a1a" stroke-width="1.2"/>
<path d="M605.80 239.90 L605.80 247.90 M604.40 239.90 L607.20 239.90 M604.40 247.90 L607.20 247.90" stroke="#111" stroke-width="1.2" fill="none"/>
<rect x="603.20" y="241.30" width="5.2" height="5.2" fill="#222" fill-opacity="0.3" stroke="#1a1a1a" stroke-width="1.2"/>
<path d="M611.40 275.70 L611.40 283.70 M610.00 275.70 L612.80 275.70 M610.00 283.70 L612.80 283.70" stroke="#111" stroke-width="1.2" fill="none"/>
<rect x="608.80" y="277.10" width="5.2" height="5.2" fill="#222" fill-opacity="0.3" stroke="#1a1a1a" stroke-width="1.2"/>
<path d="M615.50 279.80 L615.50 287.80 M614.10 279.80 L616.90 279.80 M614.10 287.80 L616.90 287.80" stroke="#111" stroke-width="1.2" fill="none"/>
<rect x="612.90" y="281.20" width="5.2" height="5.2" fill="#222" fill-opacity="0.3" stroke="#1a1a1a" stroke-width="1.2"/>
<path d="M621.20 297.70 L621.20 305.70 M619.80 297.70 L622.60 297.70 M619.80 305.70 L622.60 305.70" stroke="#111" stroke-width="1.2" fill="none"/>
<rect x="618.60" y="299.10" width="5.2" height="5.2" fill="#222" fill-opacity="0.3" stroke="#1a1a1a" stroke-width="1.2"/>
<path d="M644.60 220.40 L644.60 228.00 M643.20 220.40 L646.00 220.40 M643.20 228.00 L646.00 228.00" stroke="#111" stroke-width="1.2" fill="none"/>
<path d="M644.60 220.70 L648.10 224.20 L644.60 227.70 L641.10 224.20 Z" fill="#222" fill-opacity="0.25" stroke="#1a1a1a" stroke-width="1.2"/>
<path d="M647.50 229.20 L647.50 236.80 M646.10 229.20 L648.90 229.20 M646.10 236.80 L648.90 236.80" stroke="#111" stroke-width="1.2" fill="none"/>
<path d="M647.50 229.50 L651.00 233.00 L647.50 236.50 L644.00 233.00 Z" fill="#222" fill-opacity="0.25" stroke="#1a1a1a" stroke-width="1.2"/>
<path d="M648.80 240.00 L648.80 247.60 M647.40 240.00 L650.20 240.00 M647.40 247.60 L650.20 247.60" stroke="#111" stroke-width="1.2" fill="none"/>
<path d="M648.80 240.30 L652.30 243.80 L648.80 247.30 L645.30 243.80 Z" fill="#222" fill-opacity="0.25" stroke="#1a1a1a" stroke-width="1.2"/>
<path d="M650.50 262.20 L650.50 269.80 M649.10 262.20 L651.90 262.20 M649.10 269.80 L651.90 269.80" stroke="#111" stroke-width="1.2" fill="none"/>
<path d="M650.50 262.50 L654.00 266.00 L650.50 269.50 L647.00 266.00 Z" fill="#222" fill-opacity="0.25" stroke="#1a1a1a" stroke-width="1.2"/>
<path d="M649.50 275.00 L649.50 282.60 M648.10 275.00 L650.90 275.00 M648.10 282.60 L650.90 282.60" stroke="#111" stroke-width="1.2" fill="none"/>
<path d="M649.50 275.30 L653.00 278.80 L649.50 282.30 L646.00 278.80 Z" fill="#222" fill-opacity="0.25" stroke="#1a1a1a" stroke-width="1.2"/>
<path d="M654.30 278.80 L654.30 286.40 M652.90 278.80 L655.70 278.80 M652.90 286.40 L655.70 286.40" stroke="#111" stroke-width="1.2" fill="none"/>
<path d="M654.30 279.10 L657.80 282.60 L654.30 286.10 L650.80 282.60 Z" fill="#222" fill-opacity="0.25" stroke="#1a1a1a" stroke-width="1.2"/>
<circle cx="361.1" cy="291.5" r="4.1" fill="#5cc0d2" stroke="#1a1a1a" stroke-width="1.3"/>
<path d="M511.9 287.6 L520.6 287.6 L515.9 295.6 Z" fill="#5cc0d2" stroke="#1a1a1a" stroke-width="1.4" stroke-linejoin="miter"/>
<rect x="614.4" y="288.1" width="8.6" height="8.4" fill="#5cc0d2" stroke="#1a1a1a" stroke-width="1.3"/>
<path d="M655.2 285.6 L661.6 292.0 L655.2 298.4 L648.8 292.0 Z" fill="#5cc0d2" stroke="#1a1a1a" stroke-width="1.3"/>
<line x1="287.60" y1="11.40" x2="287.60" y2="156.60" stroke="#5a5a5a" stroke-width="1.1" />
<line x1="287.60" y1="175.60" x2="287.60" y2="320.70" stroke="#5a5a5a" stroke-width="1.1" />
<line x1="287.10" y1="320.70" x2="685.00" y2="320.70" stroke="#5a5a5a" stroke-width="1.1" />
<line x1="282.30" y1="156.60" x2="287.60" y2="156.60" stroke="#6a6a6a" stroke-width="0.8" />
<text stroke="#231f20" stroke-width="0.18" x="278.20" y="160.70" font-size="11" text-anchor="end" fill="#231f20" >70</text>
<line x1="284.20" y1="149.34" x2="287.60" y2="149.34" stroke="#6a6a6a" stroke-width="0.8" />
<line x1="284.20" y1="142.08" x2="287.60" y2="142.08" stroke="#6a6a6a" stroke-width="0.8" />
<line x1="284.20" y1="134.82" x2="287.60" y2="134.82" stroke="#6a6a6a" stroke-width="0.8" />
<line x1="284.20" y1="127.56" x2="287.60" y2="127.56" stroke="#6a6a6a" stroke-width="0.8" />
<line x1="282.30" y1="120.30" x2="287.60" y2="120.30" stroke="#6a6a6a" stroke-width="0.8" />
<text stroke="#231f20" stroke-width="0.18" x="278.20" y="124.40" font-size="11" text-anchor="end" fill="#231f20" >75</text>
<line x1="284.20" y1="113.04" x2="287.60" y2="113.04" stroke="#6a6a6a" stroke-width="0.8" />
<line x1="284.20" y1="105.78" x2="287.60" y2="105.78" stroke="#6a6a6a" stroke-width="0.8" />
<line x1="284.20" y1="98.52" x2="287.60" y2="98.52" stroke="#6a6a6a" stroke-width="0.8" />
<line x1="284.20" y1="91.26" x2="287.60" y2="91.26" stroke="#6a6a6a" stroke-width="0.8" />
<line x1="282.30" y1="84.00" x2="287.60" y2="84.00" stroke="#6a6a6a" stroke-width="0.8" />
<text stroke="#231f20" stroke-width="0.18" x="278.20" y="88.10" font-size="11" text-anchor="end" fill="#231f20" >80</text>
<line x1="284.20" y1="76.74" x2="287.60" y2="76.74" stroke="#6a6a6a" stroke-width="0.8" />
<line x1="284.20" y1="69.48" x2="287.60" y2="69.48" stroke="#6a6a6a" stroke-width="0.8" />
<line x1="284.20" y1="62.22" x2="287.60" y2="62.22" stroke="#6a6a6a" stroke-width="0.8" />
<line x1="284.20" y1="54.96" x2="287.60" y2="54.96" stroke="#6a6a6a" stroke-width="0.8" />
<line x1="282.30" y1="47.70" x2="287.60" y2="47.70" stroke="#6a6a6a" stroke-width="0.8" />
<text stroke="#231f20" stroke-width="0.18" x="278.20" y="51.80" font-size="11" text-anchor="end" fill="#231f20" >85</text>
<line x1="284.20" y1="40.44" x2="287.60" y2="40.44" stroke="#6a6a6a" stroke-width="0.8" />
<line x1="284.20" y1="33.18" x2="287.60" y2="33.18" stroke="#6a6a6a" stroke-width="0.8" />
<line x1="284.20" y1="25.92" x2="287.60" y2="25.92" stroke="#6a6a6a" stroke-width="0.8" />
<line x1="284.20" y1="18.66" x2="287.60" y2="18.66" stroke="#6a6a6a" stroke-width="0.8" />
<line x1="282.30" y1="11.40" x2="287.60" y2="11.40" stroke="#6a6a6a" stroke-width="0.8" />
<text stroke="#231f20" stroke-width="0.18" x="278.20" y="15.50" font-size="11" text-anchor="end" fill="#231f20" >90</text>
<line x1="282.30" y1="320.80" x2="287.60" y2="320.80" stroke="#6a6a6a" stroke-width="0.8" />
<text stroke="#231f20" stroke-width="0.18" x="278.20" y="324.90" font-size="11" text-anchor="end" fill="#231f20" >25</text>
<line x1="284.20" y1="313.54" x2="287.60" y2="313.54" stroke="#6a6a6a" stroke-width="0.8" />
<line x1="284.20" y1="306.29" x2="287.60" y2="306.29" stroke="#6a6a6a" stroke-width="0.8" />
<line x1="284.20" y1="299.03" x2="287.60" y2="299.03" stroke="#6a6a6a" stroke-width="0.8" />
<line x1="284.20" y1="291.78" x2="287.60" y2="291.78" stroke="#6a6a6a" stroke-width="0.8" />
<line x1="282.30" y1="284.52" x2="287.60" y2="284.52" stroke="#6a6a6a" stroke-width="0.8" />
<text stroke="#231f20" stroke-width="0.18" x="278.20" y="288.62" font-size="11" text-anchor="end" fill="#231f20" >30</text>
<line x1="284.20" y1="277.27" x2="287.60" y2="277.27" stroke="#6a6a6a" stroke-width="0.8" />
<line x1="284.20" y1="270.01" x2="287.60" y2="270.01" stroke="#6a6a6a" stroke-width="0.8" />
<line x1="284.20" y1="262.76" x2="287.60" y2="262.76" stroke="#6a6a6a" stroke-width="0.8" />
<line x1="284.20" y1="255.50" x2="287.60" y2="255.50" stroke="#6a6a6a" stroke-width="0.8" />
<line x1="282.30" y1="248.25" x2="287.60" y2="248.25" stroke="#6a6a6a" stroke-width="0.8" />
<text stroke="#231f20" stroke-width="0.18" x="278.20" y="252.35" font-size="11" text-anchor="end" fill="#231f20" >35</text>
<line x1="284.20" y1="241.00" x2="287.60" y2="241.00" stroke="#6a6a6a" stroke-width="0.8" />
<line x1="284.20" y1="233.74" x2="287.60" y2="233.74" stroke="#6a6a6a" stroke-width="0.8" />
<line x1="284.20" y1="226.48" x2="287.60" y2="226.48" stroke="#6a6a6a" stroke-width="0.8" />
<line x1="284.20" y1="219.23" x2="287.60" y2="219.23" stroke="#6a6a6a" stroke-width="0.8" />
<line x1="282.30" y1="211.97" x2="287.60" y2="211.97" stroke="#6a6a6a" stroke-width="0.8" />
<text stroke="#231f20" stroke-width="0.18" x="278.20" y="216.07" font-size="11" text-anchor="end" fill="#231f20" >40</text>
<line x1="284.20" y1="204.72" x2="287.60" y2="204.72" stroke="#6a6a6a" stroke-width="0.8" />
<line x1="284.20" y1="197.46" x2="287.60" y2="197.46" stroke="#6a6a6a" stroke-width="0.8" />
<line x1="284.20" y1="190.21" x2="287.60" y2="190.21" stroke="#6a6a6a" stroke-width="0.8" />
<line x1="284.20" y1="182.95" x2="287.60" y2="182.95" stroke="#6a6a6a" stroke-width="0.8" />
<line x1="282.30" y1="175.70" x2="287.60" y2="175.70" stroke="#6a6a6a" stroke-width="0.8" />
<text stroke="#231f20" stroke-width="0.18" x="278.20" y="179.80" font-size="11" text-anchor="end" fill="#231f20" >45</text>
<line x1="282.40" y1="161.50" x2="293.30" y2="152.20" stroke="#333" stroke-width="0.9" />
<line x1="282.40" y1="180.50" x2="293.30" y2="171.30" stroke="#333" stroke-width="0.9" />
<line x1="287.60" y1="320.70" x2="287.60" y2="326.00" stroke="#6a6a6a" stroke-width="0.8" />
<text stroke="#231f20" stroke-width="0.18" x="287.60" y="340.10" font-size="11" text-anchor="middle" fill="#231f20" >250</text>
<line x1="298.04" y1="320.70" x2="298.04" y2="323.90" stroke="#6a6a6a" stroke-width="0.8" />
<line x1="308.49" y1="320.70" x2="308.49" y2="323.90" stroke="#6a6a6a" stroke-width="0.8" />
<line x1="318.93" y1="320.70" x2="318.93" y2="323.90" stroke="#6a6a6a" stroke-width="0.8" />
<line x1="329.37" y1="320.70" x2="329.37" y2="323.90" stroke="#6a6a6a" stroke-width="0.8" />
<line x1="339.81" y1="320.70" x2="339.81" y2="326.00" stroke="#6a6a6a" stroke-width="0.8" />
<text stroke="#231f20" stroke-width="0.18" x="339.81" y="340.10" font-size="11" text-anchor="middle" fill="#231f20" >500</text>
<line x1="350.26" y1="320.70" x2="350.26" y2="323.90" stroke="#6a6a6a" stroke-width="0.8" />
<line x1="360.70" y1="320.70" x2="360.70" y2="323.90" stroke="#6a6a6a" stroke-width="0.8" />
<line x1="371.14" y1="320.70" x2="371.14" y2="323.90" stroke="#6a6a6a" stroke-width="0.8" />
<line x1="381.59" y1="320.70" x2="381.59" y2="323.90" stroke="#6a6a6a" stroke-width="0.8" />
<line x1="392.03" y1="320.70" x2="392.03" y2="326.00" stroke="#6a6a6a" stroke-width="0.8" />
<text stroke="#231f20" stroke-width="0.18" x="392.03" y="340.10" font-size="11" text-anchor="middle" fill="#231f20" >750</text>
<line x1="402.47" y1="320.70" x2="402.47" y2="323.90" stroke="#6a6a6a" stroke-width="0.8" />
<line x1="412.92" y1="320.70" x2="412.92" y2="323.90" stroke="#6a6a6a" stroke-width="0.8" />
<line x1="423.36" y1="320.70" x2="423.36" y2="323.90" stroke="#6a6a6a" stroke-width="0.8" />
<line x1="433.80" y1="320.70" x2="433.80" y2="323.90" stroke="#6a6a6a" stroke-width="0.8" />
<line x1="444.25" y1="320.70" x2="444.25" y2="326.00" stroke="#6a6a6a" stroke-width="0.8" />
<text stroke="#231f20" stroke-width="0.18" x="444.25" y="340.10" font-size="11" text-anchor="middle" fill="#231f20" >1,000</text>
<line x1="454.69" y1="320.70" x2="454.69" y2="323.90" stroke="#6a6a6a" stroke-width="0.8" />
<line x1="465.13" y1="320.70" x2="465.13" y2="323.90" stroke="#6a6a6a" stroke-width="0.8" />
<line x1="475.57" y1="320.70" x2="475.57" y2="323.90" stroke="#6a6a6a" stroke-width="0.8" />
<line x1="486.02" y1="320.70" x2="486.02" y2="323.90" stroke="#6a6a6a" stroke-width="0.8" />
<line x1="496.46" y1="320.70" x2="496.46" y2="326.00" stroke="#6a6a6a" stroke-width="0.8" />
<text stroke="#231f20" stroke-width="0.18" x="496.46" y="340.10" font-size="11" text-anchor="middle" fill="#231f20" >1,250</text>
<line x1="506.90" y1="320.70" x2="506.90" y2="323.90" stroke="#6a6a6a" stroke-width="0.8" />
<line x1="517.35" y1="320.70" x2="517.35" y2="323.90" stroke="#6a6a6a" stroke-width="0.8" />
<line x1="527.79" y1="320.70" x2="527.79" y2="323.90" stroke="#6a6a6a" stroke-width="0.8" />
<line x1="538.23" y1="320.70" x2="538.23" y2="323.90" stroke="#6a6a6a" stroke-width="0.8" />
<line x1="548.67" y1="320.70" x2="548.67" y2="326.00" stroke="#6a6a6a" stroke-width="0.8" />
<text stroke="#231f20" stroke-width="0.18" x="548.67" y="340.10" font-size="11" text-anchor="middle" fill="#231f20" >1,500</text>
<line x1="559.12" y1="320.70" x2="559.12" y2="323.90" stroke="#6a6a6a" stroke-width="0.8" />
<line x1="569.56" y1="320.70" x2="569.56" y2="323.90" stroke="#6a6a6a" stroke-width="0.8" />
<line x1="580.00" y1="320.70" x2="580.00" y2="323.90" stroke="#6a6a6a" stroke-width="0.8" />
<line x1="590.45" y1="320.70" x2="590.45" y2="323.90" stroke="#6a6a6a" stroke-width="0.8" />
<line x1="600.89" y1="320.70" x2="600.89" y2="326.00" stroke="#6a6a6a" stroke-width="0.8" />
<text stroke="#231f20" stroke-width="0.18" x="600.89" y="340.10" font-size="11" text-anchor="middle" fill="#231f20" >1,750</text>
<line x1="611.33" y1="320.70" x2="611.33" y2="323.90" stroke="#6a6a6a" stroke-width="0.8" />
<line x1="621.78" y1="320.70" x2="621.78" y2="323.90" stroke="#6a6a6a" stroke-width="0.8" />
<line x1="632.22" y1="320.70" x2="632.22" y2="323.90" stroke="#6a6a6a" stroke-width="0.8" />
<line x1="642.66" y1="320.70" x2="642.66" y2="323.90" stroke="#6a6a6a" stroke-width="0.8" />
<line x1="653.11" y1="320.70" x2="653.11" y2="326.00" stroke="#6a6a6a" stroke-width="0.8" />
<text stroke="#231f20" stroke-width="0.18" x="653.11" y="340.10" font-size="11" text-anchor="middle" fill="#231f20" >2,000</text>
<line x1="663.55" y1="320.70" x2="663.55" y2="323.90" stroke="#6a6a6a" stroke-width="0.8" />
<line x1="673.99" y1="320.70" x2="673.99" y2="323.90" stroke="#6a6a6a" stroke-width="0.8" />
<line x1="684.43" y1="320.70" x2="684.43" y2="323.90" stroke="#6a6a6a" stroke-width="0.8" />
<text stroke="#231f20" stroke-width="0.18" x="486.60" y="356.00" font-size="11" text-anchor="middle" fill="#231f20" >Time relative to P (s)</text>
<text stroke="#231f20" stroke-width="0.18" transform="translate(255.0,165.8) rotate(-90)" font-size="11" text-anchor="middle" fill="#231f20">Distance (°)</text>
<text stroke="#231f20" stroke-width="0.18" x="388.50" y="33.80" font-size="11" text-anchor="start" fill="#231f20" >Vespagram</text>
<text stroke="#231f20" stroke-width="0.18" x="540.00" y="33.80" font-size="11" text-anchor="start" fill="#231f20" >Individual events</text>
<text stroke="#231f20" stroke-width="0.18" x="410.40" y="52.30" font-size="11" text-anchor="start" fill="#231f20" >PKiKP</text>
<text stroke="#231f20" stroke-width="0.18" x="569.80" y="52.30" font-size="11" text-anchor="start" fill="#231f20" >PKiKP</text>
<path d="M389.8 48.50 L403.2 48.50 M390.5 44.30 L390.5 52.70 M402.5 44.30 L402.5 52.70" stroke="#1a1a1a" stroke-width="1.7" fill="none"/>
<circle cx="396.5" cy="48.5" r="4.0" fill="#5cc0d2" stroke="#1a1a1a" stroke-width="1.2"/>
<path d="M548.3 48.50 L562.2 48.50 M548.9 44.70 L548.9 52.30 M561.6 44.70 L561.6 52.30" stroke="#1a1a1a" stroke-width="1.6" fill="none"/>
<circle cx="555.2" cy="48.5" r="2.6" fill="none" stroke="#1a1a1a" stroke-width="1.2"/>
<text stroke="#231f20" stroke-width="0.18" x="410.40" y="70.90" font-size="11" text-anchor="start" fill="#231f20" >PKKP</text>
<text stroke="#231f20" stroke-width="0.18" x="569.80" y="70.90" font-size="11" text-anchor="start" fill="#231f20" >PKKP</text>
<path d="M389.8 67.10 L403.2 67.10 M390.5 62.90 L390.5 71.30 M402.5 62.90 L402.5 71.30" stroke="#1a1a1a" stroke-width="1.7" fill="none"/>
<path d="M392.30 63.50 L400.70 63.50 L396.50 71.70 Z" fill="#5cc0d2" stroke="#222" stroke-width="1.1" stroke-linejoin="miter"/>
<path d="M548.3 67.10 L562.2 67.10 M548.9 63.30 L548.9 70.90 M561.6 63.30 L561.6 70.90" stroke="#1a1a1a" stroke-width="1.6" fill="none"/>
<path d="M552.00 64.50 L558.40 64.50 L555.20 70.30 Z" fill="none" stroke="#1a1a1a" stroke-width="1.2"/>
<text stroke="#231f20" stroke-width="0.18" x="410.40" y="89.50" font-size="11" text-anchor="start" fill="#231f20" >P’P’r_ab</text>
<text stroke="#231f20" stroke-width="0.18" x="569.80" y="89.50" font-size="11" text-anchor="start" fill="#231f20" >P’P’r_ab</text>
<path d="M389.8 85.70 L403.2 85.70 M390.5 81.50 L390.5 89.90 M402.5 81.50 L402.5 89.90" stroke="#1a1a1a" stroke-width="1.7" fill="none"/>
<rect x="392.50" y="81.70" width="8" height="8" fill="#5cc0d2" stroke="#222" stroke-width="1.1"/>
<path d="M548.3 85.70 L562.2 85.70 M548.9 81.90 L548.9 89.50 M561.6 81.90 L561.6 89.50" stroke="#1a1a1a" stroke-width="1.6" fill="none"/>
<rect x="552.40" y="83.10" width="5.6" height="5.2" fill="none" stroke="#1a1a1a" stroke-width="1.2"/>
<text stroke="#231f20" stroke-width="0.18" x="410.40" y="108.10" font-size="11" text-anchor="start" fill="#231f20" >P’P’n</text>
<text stroke="#231f20" stroke-width="0.18" x="569.80" y="108.10" font-size="11" text-anchor="start" fill="#231f20" >P’P’n</text>
<path d="M389.8 104.30 L403.2 104.30 M390.5 100.10 L390.5 108.50 M402.5 100.10 L402.5 108.50" stroke="#1a1a1a" stroke-width="1.7" fill="none"/>
<path d="M396.50 98.40 L402.40 104.30 L396.50 110.20 L390.60 104.30 Z" fill="#5cc0d2" stroke="#222" stroke-width="1.1"/>
<path d="M548.3 104.30 L562.2 104.30 M548.9 100.50 L548.9 108.10 M561.6 100.50 L561.6 108.10" stroke="#1a1a1a" stroke-width="1.6" fill="none"/>
<path d="M555.20 100.70 L558.80 104.30 L555.20 107.90 L551.60 104.30 Z" fill="none" stroke="#1a1a1a" stroke-width="1.2"/>
</svg>
</body></html>
